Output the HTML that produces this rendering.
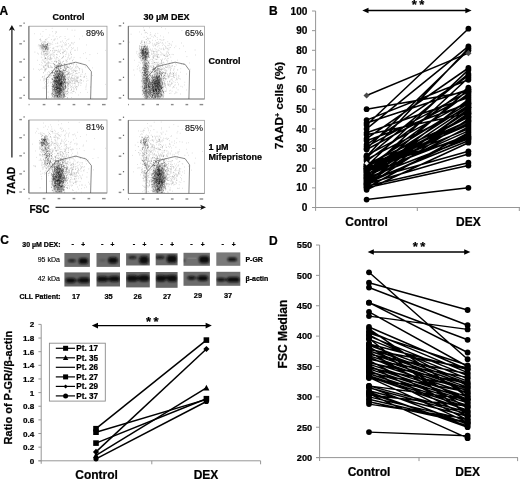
<!DOCTYPE html>
<html><head><meta charset="utf-8"><title>Figure</title>
<style>
html,body{margin:0;padding:0;background:#fff;}
body{width:520px;height:479px;overflow:hidden;font-family:'Liberation Sans', sans-serif;}
svg{display:block;font-family:'Liberation Sans', sans-serif;filter:blur(0.35px);}
</style></head><body>
<svg width="520" height="479" viewBox="0 0 520 479">
<rect width="520" height="479" fill="#fff"/>
<defs><filter id="sb" x="-10%" y="-10%" width="120%" height="120%"><feGaussianBlur stdDeviation="1.6"/></filter><filter id="sd" x="-5%" y="-5%" width="110%" height="110%"><feGaussianBlur stdDeviation="0.28"/></filter></defs>
<g id="panelA">
<clipPath id="cptl"><rect x="29.299999999999997" y="26.599999999999998" width="77.3" height="72.0"/></clipPath>
<rect x="28.9" y="26.2" width="78.1" height="72.8" fill="#fff" stroke="#959595" stroke-width="0.75"/>
<line x1="28.9" y1="26.2" x2="28.9" y2="99.0" stroke="#5a5a5a" stroke-width="0.8"/>
<line x1="28.9" y1="99.0" x2="107.0" y2="99.0" stroke="#808080" stroke-width="0.8"/>
<g clip-path="url(#cptl)">
<g filter="url(#sb)">
<ellipse cx="58.6" cy="86.6" rx="5.5" ry="14.6" fill="#333" opacity="0.28"/>
</g>
<g filter="url(#sd)">
<path d="M63.2 94.3h.5M67.5 98.7h.5M63.1 77.1h.5M74.8 75.0h.5M73.1 80.5h.5M73.2 72.6h.5M76.7 77.3h.5M71.9 75.6h.5M60.7 81.0h.5M58.2 84.9h.5M51.6 82.6h.5M75.1 76.6h.5M76.2 76.2h.5M71.5 97.5h.5M65.7 79.5h.5M65.4 70.3h.5M66.5 65.7h.5M78.8 80.9h.5M58.2 88.7h.5M65.3 78.2h.5M90.5 87.0h.5M83.4 77.3h.5M68.2 77.8h.5M72.8 75.1h.5M69.8 84.8h.5M75.8 78.7h.5M73.1 88.3h.5M65.3 86.7h.5M70.9 78.1h.5M69.5 77.1h.5M69.6 68.2h.5M64.3 72.7h.5M65.4 84.3h.5M60.2 66.3h.5M63.2 83.4h.5M61.9 81.6h.5M61.7 63.9h.5M72.2 60.7h.5M80.0 92.6h.5M75.2 71.2h.5M76.7 80.0h.5M76.3 68.1h.5M71.3 68.8h.5M80.7 63.1h.5M69.5 75.8h.5M67.5 86.2h.5M61.8 82.8h.5M78.6 83.8h.5M70.0 79.0h.5M64.1 79.2h.5M60.4 84.4h.5M67.0 78.5h.5M61.3 79.2h.5M57.2 95.8h.5M68.7 70.8h.5M82.4 72.1h.5M71.7 64.4h.5M72.1 85.2h.5M77.9 84.8h.5M61.4 74.8h.5M78.8 82.4h.5M63.9 78.6h.5M75.3 87.3h.5M67.5 74.9h.5M73.5 64.5h.5M80.6 85.4h.5M73.9 91.4h.5M75.4 92.7h.5M76.7 66.2h.5M68.4 73.7h.5M71.8 80.2h.5M63.2 79.9h.5M73.1 90.0h.5M85.7 89.2h.5M68.5 81.6h.5M68.4 82.7h.5M86.0 81.2h.5M68.4 74.6h.5M65.8 92.0h.5M81.2 80.4h.5M79.2 70.2h.5M85.0 73.5h.5M71.9 93.3h.5M77.4 86.8h.5M80.7 83.3h.5M62.6 78.9h.5M69.3 78.0h.5M77.7 67.2h.5M71.8 67.8h.5M72.2 91.5h.5M63.5 80.0h.5M69.6 74.2h.5M63.2 89.1h.5M76.8 81.9h.5M85.7 87.1h.5M65.4 60.2h.5M55.6 93.3h.5M71.4 86.5h.5M68.6 69.8h.5M68.2 79.2h.5M76.6 86.9h.5M57.6 77.1h.5M70.3 74.0h.5M65.2 82.2h.5M68.9 76.6h.5M77.2 76.9h.5M51.5 82.6h.5M65.1 85.7h.5M65.5 76.1h.5M50.8 76.0h.5M76.3 73.4h.5M65.1 91.8h.5M59.8 83.2h.5M85.9 85.9h.5M70.2 69.3h.5M79.9 79.5h.5M75.2 66.7h.5M74.5 77.7h.5M64.4 81.4h.5M67.9 92.0h.5M64.7 67.0h.5M63.0 89.4h.5M62.3 77.1h.5M77.2 73.7h.5M86.0 84.1h.5M73.1 78.3h.5M68.8 67.1h.5M66.5 77.7h.5M61.2 74.6h.5M70.0 87.5h.5M63.3 89.1h.5M68.5 81.0h.5M69.3 83.4h.5M78.6 76.3h.5M73.3 79.0h.5M63.5 73.6h.5M85.5 67.1h.5M75.7 86.8h.5M64.5 83.0h.5M74.2 79.8h.5M68.5 74.0h.5M76.5 86.5h.5M63.6 75.0h.5M74.9 83.4h.5M73.4 91.5h.5M63.2 76.9h.5M62.4 75.9h.5M65.9 69.1h.5M64.7 75.7h.5M71.5 88.1h.5M54.4 76.6h.5M63.0 77.2h.5M87.4 92.4h.5M72.1 87.3h.5M64.2 90.9h.5M66.7 67.0h.5M81.1 83.0h.5M66.2 86.8h.5M67.1 84.1h.5M71.5 89.2h.5M77.4 80.3h.5M70.0 80.8h.5M58.8 72.5h.5M69.7 68.3h.5M71.7 71.4h.5M75.5 79.6h.5M72.6 80.8h.5M57.7 86.7h.5M74.4 86.2h.5M59.9 86.1h.5M71.2 92.6h.5M65.1 82.2h.5M67.5 89.2h.5M48.1 85.8h.5M79.2 68.8h.5M64.6 67.8h.5M76.2 81.3h.5M61.6 83.4h.5M65.6 79.2h.5M58.6 91.4h.5M66.9 85.0h.5M73.1 87.2h.5M76.8 70.7h.5M61.0 76.9h.5M80.4 79.9h.5M77.3 81.5h.5M70.5 82.5h.5M66.6 67.7h.5M64.9 93.3h.5M65.7 75.0h.5M64.2 71.6h.5M77.8 78.2h.5M67.9 83.1h.5M64.4 64.3h.5M75.7 81.8h.5M72.0 75.7h.5M82.2 72.0h.5M69.9 85.6h.5M58.3 78.5h.5M84.5 76.7h.5M73.7 83.6h.5M66.8 91.2h.5M62.0 65.3h.5M72.0 70.4h.5M67.0 71.4h.5M74.2 89.0h.5M52.5 94.3h.5M71.2 73.7h.5M67.0 82.5h.5M77.2 81.0h.5M62.6 76.2h.5M78.4 95.1h.5M68.2 83.7h.5M62.8 69.4h.5M73.7 63.1h.5M74.2 83.5h.5M66.6 75.0h.5M69.8 81.8h.5M69.4 82.1h.5M75.6 87.8h.5M67.3 81.1h.5M77.3 77.3h.5M80.8 80.4h.5M72.1 81.5h.5M71.6 78.4h.5M68.7 84.1h.5M68.6 67.6h.5M68.0 86.0h.5M64.0 78.0h.5M63.5 82.2h.5M66.5 74.7h.5M68.7 73.3h.5M77.0 78.6h.5M65.1 82.8h.5M81.8 69.2h.5M61.1 77.5h.5M64.1 63.9h.5M70.6 90.5h.5M63.8 89.7h.5M62.2 79.4h.5M63.2 73.3h.5M60.9 77.4h.5M56.8 82.3h.5M74.6 82.9h.5M76.8 78.4h.5M83.9 76.5h.5M65.6 83.8h.5M76.0 64.3h.5M76.4 89.8h.5M65.7 91.7h.5M62.7 77.1h.5M55.1 84.7h.5M87.7 80.3h.5M71.9 82.0h.5M70.7 58.0h.5M61.2 81.9h.5M64.6 64.5h.5M46.6 81.9h.5M92.3 67.8h.5M74.7 79.0h.5M61.7 72.0h.5M78.0 72.7h.5M78.0 82.5h.5M71.1 90.0h.5M66.1 81.8h.5M53.9 75.5h.5M67.8 84.3h.5M61.0 76.1h.5M65.0 70.4h.5M69.3 80.5h.5M72.4 67.8h.5M71.0 76.3h.5M70.8 86.5h.5M79.9 82.0h.5M79.2 72.6h.5M69.2 64.7h.5M68.2 92.7h.5M72.2 78.6h.5M71.6 83.6h.5M70.9 77.5h.5M74.9 71.6h.5M76.9 81.2h.5M69.4 64.3h.5M74.7 68.9h.5M56.6 91.8h.5M80.0 76.5h.5M59.5 69.3h.5M70.1 66.7h.5M73.9 70.7h.5M76.0 80.5h.5M67.1 61.7h.5M69.0 82.0h.5M72.5 73.9h.5M66.6 64.4h.5M65.0 89.2h.5M61.1 70.8h.5M67.6 79.2h.5M62.6 78.9h.5M67.9 79.8h.5M92.2 75.4h.5M65.5 74.2h.5M76.5 70.7h.5M74.5 81.9h.5M61.1 79.4h.5M71.3 89.6h.5M70.6 74.2h.5M69.8 82.5h.5M71.6 80.9h.5M73.5 71.0h.5M76.3 88.6h.5M69.9 92.9h.5M69.9 81.9h.5M72.3 83.4h.5M71.4 77.5h.5M86.0 76.4h.5M67.9 77.0h.5M84.8 74.9h.5M56.3 90.0h.5M74.0 78.4h.5M69.1 74.3h.5M74.3 75.9h.5M67.3 83.1h.5M75.0 70.7h.5M67.1 76.1h.5M61.8 83.3h.5M63.5 73.5h.5M80.7 76.6h.5M72.8 72.6h.5M86.6 78.4h.5M63.7 83.5h.5M52.4 84.3h.5M75.5 73.5h.5M68.3 86.8h.5M65.7 96.2h.5M76.5 77.7h.5M66.8 66.5h.5M72.9 91.5h.5M74.7 81.7h.5M58.3 69.6h.5M70.7 83.2h.5M83.0 81.0h.5M75.2 85.0h.5M54.7 91.8h.5M78.5 85.6h.5M92.6 98.3h.5M76.4 89.2h.5M74.5 80.4h.5M62.0 73.5h.5M79.5 69.1h.5M80.5 75.1h.5M69.0 72.4h.5M66.3 82.6h.5M55.7 74.2h.5M76.4 79.9h.5M62.3 70.1h.5M75.9 64.9h.5M73.4 69.7h.5M70.1 79.0h.5M70.8 79.3h.5M67.3 73.7h.5M81.4 80.0h.5M81.7 74.3h.5M71.3 70.2h.5M67.7 94.9h.5M77.8 82.7h.5M67.0 72.0h.5M65.4 67.2h.5M58.7 76.5h.5M78.2 67.9h.5M75.4 80.5h.5M66.8 82.5h.5M78.2 77.5h.5M75.4 67.5h.5M59.8 84.6h.5M72.9 79.9h.5M72.0 78.1h.5M45.7 42.5h.5M50.9 44.0h.5M48.6 49.8h.5M42.4 42.2h.5M49.1 52.1h.5M48.1 46.8h.5M47.0 44.2h.5M50.5 50.5h.5M44.5 43.0h.5M43.7 45.8h.5M44.3 54.8h.5M42.8 44.5h.5M42.9 54.1h.5M43.0 47.6h.5M46.1 46.7h.5M46.2 52.2h.5M42.7 51.0h.5M43.2 46.2h.5M48.7 48.9h.5M47.9 43.5h.5M41.0 51.2h.5M45.1 53.5h.5M50.4 55.5h.5M40.8 44.8h.5M42.3 45.1h.5M41.5 43.7h.5M42.8 45.1h.5M47.7 53.9h.5M41.8 54.9h.5M41.1 44.3h.5M44.5 44.6h.5M49.0 43.8h.5M46.9 49.7h.5M43.4 46.7h.5M47.3 43.6h.5M45.5 49.1h.5M44.4 41.3h.5M45.5 39.9h.5M42.4 44.4h.5M45.3 44.9h.5M42.3 46.6h.5M44.4 49.0h.5M40.9 53.6h.5M43.6 45.7h.5M45.4 46.9h.5M45.6 53.3h.5M47.9 47.6h.5M42.3 50.1h.5M47.7 47.1h.5M39.5 39.5h.5M40.0 41.1h.5M47.3 51.9h.5M48.5 42.9h.5M47.9 45.3h.5M45.6 47.0h.5M43.0 46.8h.5M48.6 48.3h.5M50.8 54.1h.5M44.7 53.8h.5M39.2 46.9h.5M43.6 50.1h.5M41.4 48.8h.5M39.6 48.7h.5M43.0 52.9h.5M45.9 55.3h.5M46.0 46.8h.5M46.3 47.3h.5M47.1 48.9h.5M41.3 46.4h.5M42.2 49.3h.5M45.0 51.6h.5M47.7 54.0h.5M48.5 48.0h.5M49.9 43.5h.5M46.8 46.7h.5M45.0 53.4h.5M42.9 51.6h.5M42.4 48.4h.5M42.2 47.3h.5M43.9 49.7h.5M45.9 46.0h.5M40.5 49.1h.5M53.7 47.8h.5M46.1 51.4h.5M47.7 41.7h.5M46.5 48.4h.5M44.7 55.4h.5M46.5 49.1h.5M45.9 46.4h.5M45.3 39.5h.5M47.5 50.5h.5M46.5 45.4h.5M44.8 42.3h.5M43.5 54.8h.5M41.3 46.3h.5M41.6 47.3h.5M40.0 46.3h.5M43.9 51.5h.5M42.9 49.0h.5M47.5 46.9h.5M44.0 47.2h.5M47.4 46.0h.5M50.1 50.7h.5M47.2 47.4h.5M42.7 45.5h.5M47.2 44.0h.5M46.1 51.4h.5M45.2 46.3h.5M49.8 47.4h.5M45.1 41.7h.5M44.9 49.7h.5M45.5 44.8h.5M45.1 54.5h.5M43.4 43.9h.5M42.4 44.5h.5M45.2 51.0h.5M47.1 56.4h.5M38.2 54.0h.5M46.3 49.0h.5M46.6 48.2h.5M45.1 50.0h.5M43.4 43.9h.5M47.0 53.2h.5M46.4 39.8h.5M47.0 51.6h.5M47.0 47.0h.5M43.7 44.0h.5M48.5 49.9h.5M45.0 49.4h.5M44.7 41.6h.5M43.3 45.6h.5M45.5 47.5h.5M41.2 45.4h.5M41.3 45.0h.5M44.4 47.3h.5M43.2 51.3h.5M41.5 47.8h.5M44.4 46.7h.5M43.8 44.8h.5M45.1 47.4h.5M43.9 47.9h.5M46.7 50.6h.5M40.9 46.3h.5M45.9 47.8h.5M46.1 79.8h.5M42.8 65.8h.5M45.3 79.2h.5M46.7 86.3h.5M48.8 77.1h.5M43.9 77.0h.5M41.8 69.2h.5M40.3 69.4h.5M45.9 69.0h.5M45.3 81.4h.5M40.4 80.1h.5M48.3 62.4h.5M40.6 47.5h.5M47.1 54.2h.5M48.1 51.8h.5M40.9 65.0h.5M43.3 45.0h.5M47.2 65.9h.5M44.7 88.6h.5M45.7 74.9h.5M49.1 57.9h.5M45.2 70.1h.5M48.4 71.6h.5M48.4 63.6h.5M44.6 61.9h.5M50.1 83.1h.5M47.4 57.9h.5M44.7 50.1h.5M47.2 60.0h.5M42.7 59.6h.5M41.9 60.4h.5M51.2 75.5h.5M49.6 77.5h.5M45.6 58.1h.5M41.5 62.3h.5M43.3 72.5h.5M47.7 66.7h.5M46.5 65.7h.5M46.4 49.1h.5M45.7 68.9h.5M45.5 58.1h.5M46.6 88.9h.5M45.2 61.2h.5M52.4 72.3h.5M44.7 78.3h.5M45.2 84.9h.5M43.1 66.7h.5M41.3 68.8h.5M43.5 52.3h.5M49.7 43.1h.5M45.8 58.6h.5M51.8 72.8h.5M50.0 75.7h.5M48.2 82.7h.5M44.3 68.0h.5M44.7 86.9h.5M45.7 69.0h.5M49.4 59.6h.5M39.5 64.5h.5M48.3 66.9h.5M43.5 80.7h.5M44.4 76.0h.5M44.6 69.4h.5M48.8 76.5h.5M46.3 77.7h.5M46.1 54.8h.5M43.8 78.7h.5M45.5 65.6h.5M43.7 61.3h.5M45.6 58.6h.5M41.7 57.7h.5M48.8 74.8h.5M50.8 63.4h.5M41.9 77.4h.5M43.4 72.9h.5M44.7 62.7h.5M44.8 69.4h.5M42.8 88.0h.5M43.5 79.2h.5M47.8 92.1h.5M48.5 96.9h.5M44.8 65.8h.5M42.4 76.5h.5M47.8 77.6h.5M45.1 65.4h.5M47.2 79.6h.5M49.0 67.6h.5M48.1 81.2h.5M48.3 66.9h.5M47.5 72.8h.5M47.7 65.6h.5M40.2 38.8h.5M43.6 60.9h.5M44.9 70.8h.5M44.4 56.0h.5M47.9 55.9h.5M40.9 57.1h.5M41.3 40.8h.5M46.4 53.6h.5M45.4 64.4h.5M43.4 44.2h.5M44.5 54.0h.5M43.2 67.5h.5M44.3 67.1h.5M44.0 59.0h.5M47.2 83.4h.5M44.2 80.2h.5M48.3 79.6h.5M46.7 64.3h.5M45.2 87.1h.5M50.0 67.5h.5M47.2 54.4h.5M42.7 76.7h.5M50.1 44.8h.5M43.1 66.8h.5M48.0 67.5h.5M49.0 59.3h.5M45.2 58.6h.5M44.1 52.1h.5M43.6 51.6h.5M52.2 85.0h.5M50.0 82.1h.5M45.2 45.9h.5M48.4 58.5h.5M46.4 64.0h.5M46.7 68.0h.5M44.6 79.3h.5M50.2 66.1h.5M50.6 57.8h.5M46.6 77.9h.5M44.7 65.4h.5M45.1 69.2h.5M39.2 70.3h.5M44.7 71.1h.5M44.5 82.9h.5M48.7 37.4h.5M47.8 59.2h.5M49.0 55.3h.5M52.1 31.6h.5M46.8 38.7h.5M52.6 48.6h.5M83.1 53.6h.5M57.3 84.8h.5M53.9 55.9h.5M58.7 50.9h.5M46.2 63.7h.5M65.2 56.4h.5M57.8 46.2h.5M58.5 51.8h.5M46.4 53.4h.5M40.2 34.1h.5M49.6 35.0h.5M52.4 54.9h.5M70.7 51.1h.5M59.3 56.4h.5M54.8 61.5h.5M49.6 72.9h.5M55.9 62.0h.5M71.8 30.2h.5M76.9 66.4h.5M53.8 54.8h.5M41.9 36.3h.5M64.8 50.1h.5M77.2 48.0h.5M54.5 50.3h.5M52.8 48.1h.5M44.2 47.7h.5M54.5 58.0h.5M53.6 54.7h.5M39.8 46.7h.5M55.5 33.6h.5M57.4 43.0h.5M57.2 54.8h.5M45.1 58.4h.5M51.6 79.8h.5M54.5 61.2h.5M60.7 42.0h.5M54.5 40.3h.5M70.2 44.9h.5M54.2 52.1h.5M74.3 36.3h.5M69.2 72.2h.5M34.5 33.7h.5M64.9 38.5h.5M63.5 56.5h.5M62.3 53.7h.5M72.9 44.0h.5M47.9 61.5h.5M68.0 43.5h.5M60.6 49.4h.5M44.9 62.6h.5M63.0 73.3h.5M62.6 46.8h.5M64.3 43.9h.5M77.1 50.0h.5M49.3 71.9h.5M34.7 52.1h.5M66.7 71.5h.5M59.5 61.0h.5M55.1 50.8h.5M58.1 66.2h.5M65.4 54.6h.5M38.5 44.7h.5M73.8 57.4h.5M74.1 70.5h.5M55.1 38.9h.5M71.1 47.5h.5M68.5 57.7h.5M65.0 42.6h.5M67.4 49.0h.5M66.3 48.4h.5M63.9 70.2h.5M63.8 63.5h.5M53.8 52.5h.5M60.2 67.6h.5M52.3 50.5h.5M53.5 52.9h.5M60.0 50.8h.5M52.1 51.2h.5M63.5 67.1h.5M65.7 64.2h.5M61.4 46.5h.5M64.2 66.1h.5M48.3 66.1h.5M63.5 51.7h.5M39.2 45.1h.5M69.7 58.9h.5M56.8 50.5h.5M47.3 57.9h.5M63.3 57.0h.5M57.5 52.0h.5M75.1 50.3h.5M61.1 58.4h.5M70.3 52.5h.5M57.3 38.8h.5M71.3 63.4h.5M54.4 39.2h.5M52.8 36.0h.5M56.0 31.9h.5M47.7 74.6h.5M42.8 31.5h.5M50.2 58.0h.5M51.7 61.4h.5M59.2 51.8h.5M51.2 59.1h.5M71.2 42.7h.5M67.7 39.6h.5M55.6 43.6h.5M74.4 62.3h.5M71.4 80.2h.5M38.1 69.4h.5M47.4 63.9h.5M52.6 44.3h.5M50.1 57.4h.5M44.3 70.8h.5M55.7 61.5h.5M66.6 52.1h.5M39.0 45.4h.5M45.3 57.7h.5M46.9 62.4h.5M51.4 66.4h.5M50.0 56.5h.5M64.8 45.6h.5M75.6 71.2h.5M53.5 40.1h.5M45.9 55.2h.5M64.8 36.5h.5M63.3 49.9h.5M55.8 46.6h.5M58.5 49.7h.5M50.8 54.9h.5M48.4 65.4h.5M48.8 62.7h.5M50.6 59.8h.5M41.9 50.1h.5M60.6 36.5h.5M33.4 69.0h.5M47.5 63.1h.5M58.0 62.8h.5M49.5 45.5h.5M55.4 71.2h.5M67.0 29.0h.5M68.8 55.3h.5M71.2 54.3h.5M53.8 50.8h.5M70.5 52.3h.5M54.3 68.7h.5M59.2 65.3h.5M56.3 68.7h.5M48.5 64.1h.5M50.5 66.0h.5M69.8 45.0h.5M53.9 64.9h.5M68.4 56.2h.5M63.1 42.6h.5M53.2 48.8h.5M61.9 58.3h.5M55.6 60.3h.5M74.1 42.4h.5M85.0 52.7h.5M66.3 60.3h.5M49.7 63.1h.5M61.9 45.1h.5M37.9 45.9h.5M66.5 44.9h.5M44.3 51.4h.5M60.6 68.1h.5M45.8 29.5h.5M50.4 58.9h.5M37.5 60.3h.5M71.1 49.3h.5M48.7 53.2h.5M61.0 47.2h.5M47.2 49.5h.5M50.5 59.0h.5M48.6 62.3h.5M62.2 72.8h.5M48.2 56.7h.5M56.6 36.6h.5M42.8 47.5h.5M56.3 32.2h.5M55.2 31.9h.5M47.5 49.7h.5M46.1 60.1h.5M44.6 58.0h.5M72.9 59.4h.5M82.2 36.1h.5M60.3 53.5h.5M60.4 61.8h.5M63.2 52.6h.5M37.5 53.2h.5M63.1 53.0h.5M60.4 53.6h.5M52.3 42.2h.5M71.4 57.0h.5M65.3 65.4h.5M69.9 62.6h.5M57.6 43.3h.5M52.2 53.2h.5M67.4 59.6h.5M60.6 41.8h.5M59.8 62.1h.5M53.2 56.4h.5M57.4 46.8h.5M41.5 54.4h.5M59.2 37.3h.5M42.5 63.2h.5M66.2 54.1h.5M68.2 54.1h.5M50.7 54.3h.5M69.6 45.9h.5M59.2 52.1h.5M68.0 47.0h.5M59.7 45.8h.5M58.2 65.7h.5M66.2 40.7h.5M71.2 54.4h.5M45.1 49.3h.5M51.3 73.8h.5M58.7 61.9h.5M57.9 58.9h.5M65.4 44.5h.5M62.2 41.0h.5M51.9 28.3h.5M40.0 45.7h.5M67.5 57.9h.5M58.4 66.5h.5M65.4 50.9h.5M52.7 82.9h.5M66.7 67.1h.5M57.4 57.5h.5M51.0 39.5h.5M89.7 54.6h.5M63.1 55.9h.5M70.5 66.4h.5M62.2 49.1h.5M58.3 64.2h.5M65.2 69.3h.5M76.0 73.3h.5M86.2 44.9h.5M71.6 43.1h.5M88.8 60.7h.5M71.2 63.8h.5M66.5 60.6h.5M73.3 47.8h.5M105.5 50.4h.5M86.4 58.4h.5M97.2 53.4h.5M69.4 59.1h.5M72.5 60.7h.5M74.7 30.2h.5M73.1 65.9h.5M43.9 56.7h.5M56.7 66.1h.5M74.2 50.3h.5M79.1 38.9h.5M57.6 64.5h.5M58.6 69.5h.5M62.1 67.2h.5M82.4 70.3h.5M105.2 84.4h.5M84.5 77.4h.5M64.6 72.5h.5M72.0 48.6h.5M65.6 64.6h.5M56.8 67.2h.5M58.9 64.9h.5M72.7 43.0h.5M61.2 84.0h.5M66.2 43.8h.5M56.2 50.4h.5M54.2 73.4h.5M75.0 81.7h.5M65.4 93.7h.5M55.7 50.3h.5M64.0 65.6h.5M79.6 68.6h.5M54.1 61.5h.5M70.4 53.7h.5M68.7 39.0h.5M79.9 57.7h.5" stroke="#333" stroke-width="0.55" fill="none" opacity="0.5"/>
<path d="M54.2 82.1h.5M62.2 90.2h.5M53.8 86.1h.5M60.3 75.5h.5M54.2 97.3h.5M61.1 81.2h.5M64.1 76.6h.5M58.2 88.0h.5M60.7 88.2h.5M57.0 89.1h.5M63.0 84.5h.5M60.8 83.4h.5M58.6 83.3h.5M54.8 83.3h.5M61.0 94.7h.5M55.9 93.8h.5M56.5 94.1h.5M56.4 54.4h.5M65.5 86.0h.5M57.8 93.2h.5M59.0 78.1h.5M64.1 78.9h.5M52.9 75.2h.5M51.7 70.5h.5M58.6 85.8h.5M60.6 66.2h.5M57.2 80.7h.5M63.1 79.9h.5M59.1 92.6h.5M61.3 81.3h.5M64.5 89.0h.5M60.6 80.9h.5M59.6 83.6h.5M59.2 91.0h.5M54.9 89.1h.5M60.7 71.8h.5M62.1 75.9h.5M61.4 79.2h.5M59.2 78.5h.5M65.0 88.5h.5M56.1 67.7h.5M59.5 76.7h.5M61.7 95.9h.5M54.7 69.4h.5M58.3 69.9h.5M57.1 78.8h.5M60.0 83.8h.5M56.3 88.9h.5M55.8 90.7h.5M58.4 78.9h.5M52.1 93.8h.5M59.4 80.7h.5M64.1 94.7h.5M58.6 79.6h.5M61.5 64.5h.5M62.2 93.9h.5M57.1 83.5h.5M55.0 79.9h.5M57.8 92.3h.5M60.7 96.5h.5M58.0 80.1h.5M58.3 88.9h.5M59.2 74.0h.5M61.6 95.6h.5M57.1 65.6h.5M58.8 83.9h.5M58.1 75.7h.5M60.7 83.4h.5M55.4 76.8h.5M60.9 79.2h.5M56.9 96.8h.5M59.2 83.7h.5M61.3 83.3h.5M59.3 86.0h.5M55.9 93.4h.5M58.2 93.4h.5M60.0 85.5h.5M53.0 89.8h.5M63.3 94.3h.5M61.5 89.8h.5M61.2 92.4h.5M54.1 91.2h.5M55.1 77.4h.5M57.4 87.9h.5M58.1 94.5h.5M58.1 97.5h.5M52.2 79.2h.5M63.8 77.9h.5M63.4 83.2h.5M56.0 84.7h.5M57.2 95.6h.5M58.6 84.2h.5M56.9 72.5h.5M59.2 80.2h.5M63.0 93.0h.5M51.5 78.7h.5M56.1 73.6h.5M59.8 76.4h.5M61.2 91.7h.5M55.9 89.5h.5M61.3 77.5h.5M58.2 80.1h.5M55.8 83.3h.5M59.4 76.4h.5M55.6 93.1h.5M55.8 69.6h.5M62.5 86.7h.5M59.4 84.5h.5M59.3 87.4h.5M57.4 97.0h.5M56.3 70.5h.5M60.5 84.9h.5M57.8 85.0h.5M59.8 91.4h.5M59.3 83.3h.5M55.9 92.7h.5M55.0 95.2h.5M57.6 91.1h.5M56.4 84.6h.5M62.6 84.8h.5M58.1 91.1h.5M58.1 77.2h.5M57.2 96.0h.5M54.0 95.6h.5M53.6 75.5h.5M59.9 87.7h.5M63.8 91.5h.5M61.3 78.2h.5M55.2 77.3h.5M63.2 96.7h.5M62.3 89.0h.5M57.2 90.5h.5M55.0 96.8h.5M60.3 66.5h.5M59.1 88.6h.5M59.4 93.3h.5M64.5 95.1h.5M57.7 82.5h.5M54.3 81.4h.5M59.1 96.0h.5M65.0 82.6h.5M64.5 79.1h.5M60.1 78.3h.5M59.0 90.4h.5M61.2 76.7h.5M52.9 84.5h.5M59.4 74.6h.5M57.1 71.3h.5M55.8 94.0h.5M61.1 95.2h.5M57.2 77.3h.5M60.4 68.4h.5M62.9 87.7h.5M56.4 88.2h.5M54.4 87.9h.5M57.9 86.9h.5M62.8 87.6h.5M53.3 76.0h.5M54.7 89.6h.5M58.1 88.7h.5M55.0 87.8h.5M55.4 91.1h.5M56.7 84.7h.5M52.5 78.8h.5M61.9 91.6h.5M57.6 80.1h.5M62.9 74.0h.5M60.9 84.7h.5M59.4 71.8h.5M57.1 77.9h.5M57.3 88.5h.5M58.4 90.2h.5M55.9 86.0h.5M60.0 74.9h.5M55.4 82.1h.5M54.8 79.7h.5M59.9 80.3h.5M55.1 95.1h.5M51.7 88.8h.5M53.2 97.1h.5M59.2 70.7h.5M57.3 78.3h.5M60.8 88.5h.5M53.6 85.7h.5M59.0 70.9h.5M58.5 81.4h.5M60.4 93.8h.5M59.0 90.1h.5M54.1 77.6h.5M61.0 84.9h.5M60.3 86.4h.5M52.5 86.1h.5M53.1 85.8h.5M59.1 82.3h.5M59.4 84.0h.5M54.5 89.0h.5M56.7 87.7h.5M59.5 79.9h.5M60.0 87.3h.5M58.1 77.0h.5M58.9 93.6h.5M54.3 83.3h.5M54.2 80.3h.5M64.1 84.4h.5M59.8 90.3h.5M52.9 81.3h.5M56.6 82.2h.5M60.8 76.1h.5M62.7 83.7h.5M56.1 92.3h.5M55.1 91.8h.5M65.0 87.3h.5M58.2 65.5h.5M60.0 94.1h.5M64.5 96.9h.5M58.9 94.8h.5M58.3 89.0h.5M56.4 76.9h.5M61.9 85.0h.5M55.3 95.3h.5M59.5 63.8h.5M56.9 92.7h.5M56.1 95.5h.5M55.1 87.4h.5M63.7 85.5h.5M59.3 85.8h.5M54.2 95.4h.5M58.4 76.3h.5M60.8 83.7h.5M57.4 82.6h.5M58.5 65.8h.5M54.5 88.9h.5M63.1 87.9h.5M63.7 85.9h.5M59.1 88.9h.5M53.6 94.4h.5M53.9 79.7h.5M56.4 84.6h.5M53.6 85.2h.5M57.5 77.6h.5M53.8 87.6h.5M56.6 79.9h.5M56.0 95.2h.5M57.4 71.4h.5M58.4 84.1h.5M58.6 82.8h.5M61.9 72.8h.5M52.7 73.1h.5M58.6 88.5h.5M52.8 87.1h.5M61.7 90.9h.5M55.1 82.1h.5M61.6 88.7h.5M62.9 80.5h.5M57.2 88.3h.5M55.8 92.6h.5M58.9 82.7h.5M56.8 86.4h.5M53.6 80.8h.5M55.9 83.6h.5M55.3 90.2h.5M59.4 96.6h.5M61.8 85.9h.5M58.7 81.1h.5M63.5 95.5h.5M56.2 91.6h.5M57.8 71.8h.5M54.2 90.4h.5M54.5 96.8h.5M59.6 79.1h.5M63.7 88.1h.5M59.8 84.7h.5M58.1 76.0h.5M57.4 88.5h.5M57.2 86.4h.5M63.2 78.5h.5M53.8 89.6h.5M55.7 78.1h.5M59.4 77.4h.5M60.2 83.5h.5M60.4 97.4h.5M58.9 91.8h.5M56.1 82.3h.5M59.8 93.7h.5M56.5 75.3h.5M55.5 81.7h.5M64.6 74.9h.5M59.9 83.7h.5M54.8 89.6h.5M57.4 92.6h.5M58.8 89.1h.5M59.8 72.5h.5M61.2 81.7h.5M58.2 80.6h.5M55.0 74.1h.5M57.4 82.1h.5M57.4 97.0h.5M64.2 96.1h.5M52.6 79.3h.5M57.5 78.0h.5M51.8 73.0h.5M60.7 89.8h.5M56.4 78.9h.5M56.2 78.6h.5M56.8 81.6h.5M52.7 91.9h.5M52.0 89.9h.5M56.5 87.7h.5M58.4 83.6h.5M54.1 86.7h.5M60.6 95.3h.5M59.0 88.7h.5M52.5 90.2h.5M59.9 83.6h.5M63.0 79.0h.5M62.3 73.7h.5M57.0 91.0h.5M59.7 70.3h.5M52.5 87.6h.5M56.0 80.4h.5M63.8 88.2h.5M54.1 85.1h.5M61.8 90.3h.5M61.0 97.5h.5M62.5 98.6h.5M63.5 88.9h.5M53.0 87.7h.5M59.8 94.5h.5M56.8 83.1h.5M57.0 81.6h.5M59.6 76.4h.5M56.1 62.3h.5M61.5 82.7h.5M62.5 76.8h.5M58.9 91.2h.5M62.3 81.7h.5M51.8 95.6h.5M60.3 84.5h.5M59.6 79.7h.5M59.1 71.1h.5M56.5 89.2h.5M59.7 78.7h.5M61.4 72.0h.5M56.9 74.9h.5M60.3 95.0h.5M58.1 66.6h.5M61.4 89.8h.5M58.3 92.2h.5M58.8 82.7h.5M64.7 90.8h.5M55.3 78.2h.5M55.7 86.3h.5M63.8 86.3h.5M58.6 84.2h.5M55.2 84.0h.5M56.9 88.8h.5M60.3 78.8h.5M58.1 67.2h.5M53.5 86.8h.5M61.4 85.8h.5M56.6 86.7h.5M58.6 86.0h.5M59.2 88.9h.5M57.9 71.2h.5M61.9 79.6h.5M59.8 81.1h.5M60.5 91.6h.5M59.5 94.7h.5M59.9 87.5h.5M59.7 91.1h.5M54.4 88.5h.5M62.3 71.2h.5M57.4 78.3h.5M61.3 82.0h.5M53.0 82.6h.5M55.1 74.8h.5M61.4 79.9h.5M63.1 79.9h.5M58.3 86.7h.5M54.5 75.5h.5M58.9 73.8h.5M58.1 85.2h.5M65.0 86.4h.5M59.9 73.4h.5M57.7 77.0h.5M55.6 87.4h.5M56.7 77.8h.5M57.2 91.6h.5M60.4 71.5h.5M54.4 66.3h.5M53.3 91.1h.5M55.3 70.7h.5M60.2 82.8h.5M63.1 77.9h.5M58.0 91.1h.5M53.0 75.5h.5M57.3 87.7h.5M58.9 80.3h.5M61.2 79.0h.5M57.6 76.5h.5M53.4 86.5h.5M56.1 80.2h.5M58.0 84.7h.5M54.1 77.3h.5M64.9 87.4h.5M55.9 96.1h.5M61.8 84.6h.5M55.7 74.5h.5M61.3 80.0h.5M52.3 86.5h.5M60.8 96.7h.5M61.9 72.5h.5M62.3 92.1h.5M56.0 77.0h.5M62.1 74.3h.5M62.9 86.4h.5M61.4 64.8h.5M56.9 89.9h.5M60.9 82.1h.5M53.7 92.0h.5M54.6 67.1h.5M56.0 77.8h.5M65.5 68.3h.5M63.7 70.7h.5M54.1 88.7h.5M56.0 88.2h.5M57.1 88.3h.5M59.9 92.2h.5M60.7 89.6h.5M52.5 93.2h.5M60.4 75.0h.5M59.4 84.5h.5M63.1 61.3h.5M63.5 90.5h.5M56.7 72.8h.5M58.3 94.4h.5M53.1 94.5h.5M61.0 84.9h.5M56.6 84.5h.5M55.1 77.8h.5M60.6 75.8h.5M58.2 73.8h.5M56.0 74.2h.5M63.8 82.3h.5M64.2 67.4h.5M55.3 91.6h.5M54.3 78.8h.5M58.6 96.0h.5M65.4 86.1h.5M60.8 92.9h.5M54.3 80.8h.5M62.2 91.8h.5M54.8 87.0h.5M61.2 90.1h.5M64.0 80.6h.5M63.3 94.2h.5M53.7 94.3h.5M57.0 74.0h.5M60.3 83.5h.5M54.6 82.0h.5M57.6 83.7h.5M57.1 96.0h.5M58.8 77.8h.5M56.5 81.5h.5M64.9 77.2h.5M52.9 77.7h.5M59.6 70.7h.5M51.5 93.6h.5M63.8 76.2h.5M61.8 77.6h.5M58.7 85.6h.5M58.7 77.9h.5M58.0 82.6h.5M63.8 95.8h.5M55.9 80.4h.5M57.6 87.0h.5M56.0 81.7h.5M65.1 85.3h.5M56.2 84.5h.5M56.3 65.8h.5M60.5 89.2h.5M60.3 92.8h.5M56.4 84.6h.5M57.0 89.9h.5M59.4 87.5h.5M63.1 76.5h.5M55.6 67.5h.5M62.5 96.0h.5M62.2 75.0h.5M62.2 89.3h.5M60.8 82.5h.5M56.6 72.1h.5M59.3 80.1h.5M59.1 72.1h.5M59.5 94.0h.5M56.4 89.0h.5M56.0 65.8h.5M57.1 91.9h.5M57.6 88.6h.5M62.4 86.6h.5M54.2 87.5h.5M63.2 82.1h.5M58.0 78.8h.5M59.1 89.2h.5M57.3 70.6h.5M58.7 78.2h.5M56.4 87.3h.5M52.8 81.9h.5M52.4 71.7h.5M56.3 85.5h.5M53.7 90.0h.5M55.2 75.2h.5M59.5 96.3h.5M51.6 86.2h.5M56.8 95.6h.5M60.7 87.2h.5M59.0 90.9h.5M56.5 89.7h.5M52.8 79.8h.5M58.9 75.0h.5M59.4 73.7h.5M57.6 85.5h.5M53.9 93.8h.5M52.0 93.7h.5M59.5 80.8h.5M62.8 84.3h.5M55.0 81.6h.5M58.1 69.3h.5M65.6 76.8h.5M54.5 90.3h.5M59.3 92.0h.5M60.5 79.3h.5M61.6 83.5h.5M55.4 93.2h.5M58.1 73.5h.5M64.2 76.6h.5M59.9 79.4h.5M61.5 73.8h.5M62.0 82.0h.5M56.9 80.8h.5M59.6 86.0h.5M52.5 84.5h.5M60.6 86.0h.5M52.9 81.4h.5M61.2 83.9h.5M60.1 88.7h.5M56.2 80.8h.5M57.3 83.9h.5M62.2 79.1h.5M58.3 92.1h.5M58.5 74.0h.5M58.8 75.4h.5M61.7 89.1h.5M53.3 63.6h.5M57.8 87.2h.5M54.3 78.0h.5M61.7 82.5h.5M52.3 95.8h.5M55.1 83.4h.5M60.5 93.0h.5M59.1 91.7h.5M57.3 80.8h.5M56.5 87.2h.5M59.3 79.5h.5M55.6 84.0h.5M61.0 76.1h.5M60.2 90.2h.5M57.5 83.2h.5M57.3 93.6h.5M58.5 83.8h.5M59.7 79.1h.5M52.2 72.7h.5M58.0 92.6h.5M57.2 81.5h.5M61.7 88.9h.5M59.2 86.6h.5M57.0 77.5h.5M65.0 76.1h.5M55.8 71.6h.5M57.4 85.9h.5M56.5 81.4h.5M60.6 84.2h.5M57.8 86.8h.5M57.1 76.7h.5M56.7 86.9h.5M57.8 92.3h.5M57.8 98.9h.5M60.0 80.6h.5M57.5 71.4h.5M55.6 80.5h.5M60.3 90.4h.5M57.7 77.5h.5M58.8 83.0h.5M63.6 83.6h.5M52.6 92.2h.5M61.6 86.7h.5M59.7 71.9h.5M60.4 90.4h.5M57.5 88.5h.5M55.4 81.5h.5M61.9 82.2h.5M56.6 76.1h.5M58.2 80.3h.5M55.2 79.6h.5M61.2 73.9h.5M58.7 81.5h.5M56.5 77.5h.5M61.4 75.8h.5M57.2 96.5h.5M58.3 87.4h.5M55.9 80.1h.5M63.8 77.7h.5M64.5 77.7h.5M55.6 87.2h.5M58.2 74.8h.5M63.7 80.2h.5M64.1 89.5h.5M59.3 67.0h.5M61.6 71.3h.5M51.7 97.7h.5M56.1 71.7h.5M66.7 87.5h.5M55.6 91.3h.5M56.0 76.1h.5M58.4 63.3h.5M62.8 88.1h.5M60.8 83.0h.5M63.1 72.7h.5M58.3 72.9h.5M62.2 82.3h.5M60.8 74.9h.5M58.4 88.0h.5M65.1 81.5h.5M57.3 77.0h.5M53.5 81.0h.5M54.0 85.6h.5M52.2 88.4h.5M63.5 83.3h.5M54.6 64.7h.5M57.1 67.2h.5M57.5 95.6h.5M67.6 85.6h.5M63.0 70.0h.5M54.2 80.8h.5M57.3 75.6h.5M59.7 93.7h.5M60.0 74.1h.5M58.5 76.0h.5M57.5 82.0h.5M61.2 80.1h.5M65.1 72.3h.5M63.3 74.5h.5M60.4 92.7h.5M64.2 64.7h.5M60.7 83.9h.5M59.6 69.8h.5M61.0 90.9h.5M59.1 88.8h.5M58.9 90.1h.5M56.1 67.2h.5M64.2 96.9h.5M55.7 85.8h.5M58.1 94.8h.5M63.5 97.0h.5M62.7 74.8h.5M58.2 87.8h.5M60.0 80.0h.5M67.4 93.5h.5M64.1 70.4h.5M54.4 74.8h.5M51.8 67.7h.5M61.1 81.7h.5M59.3 86.3h.5M63.2 79.4h.5M62.5 75.5h.5M65.0 79.5h.5M55.6 80.5h.5M56.9 65.1h.5M61.6 88.3h.5M55.1 73.0h.5M54.7 71.8h.5M52.4 86.5h.5M61.4 76.7h.5M67.6 67.3h.5M59.7 70.2h.5M62.5 75.6h.5M65.3 80.0h.5M63.5 70.7h.5M59.3 74.5h.5M55.7 80.5h.5M59.7 78.3h.5M68.1 73.4h.5M59.1 77.8h.5M61.8 71.2h.5M62.6 81.6h.5M63.1 89.9h.5M53.1 72.4h.5M58.6 79.5h.5M53.8 86.0h.5M57.3 87.1h.5M67.7 88.9h.5M64.4 81.9h.5M63.2 95.2h.5M60.2 79.5h.5M60.8 77.2h.5M63.4 77.3h.5M59.8 90.0h.5M59.1 81.7h.5M62.4 57.4h.5M65.0 80.7h.5M62.6 97.7h.5M59.4 91.4h.5M62.4 98.9h.5M68.2 67.3h.5M54.3 72.7h.5M59.7 60.0h.5M65.3 79.6h.5M60.4 71.9h.5M55.5 71.0h.5M61.3 90.2h.5M57.2 88.5h.5M58.0 60.6h.5M58.9 77.6h.5M56.2 67.6h.5M61.5 65.8h.5M53.5 85.8h.5M60.6 77.4h.5M62.2 74.4h.5M59.2 81.0h.5M55.4 81.7h.5M57.4 70.5h.5M62.5 83.5h.5M62.5 87.4h.5M59.8 86.2h.5M64.3 82.3h.5M62.7 83.1h.5M54.1 73.1h.5M61.3 74.5h.5M58.6 75.9h.5M51.7 58.3h.5M63.4 70.3h.5M55.3 71.7h.5M61.1 68.3h.5M66.2 94.1h.5M56.2 90.0h.5M57.8 83.5h.5M63.2 94.4h.5M53.7 77.3h.5M56.0 76.8h.5M60.5 68.3h.5M55.1 86.7h.5M65.7 78.8h.5M54.3 77.2h.5M51.5 94.3h.5M62.5 72.5h.5M66.8 82.2h.5M57.0 66.7h.5M64.1 82.2h.5M61.3 85.3h.5M64.7 82.2h.5M60.6 62.8h.5M63.4 97.0h.5M52.6 83.8h.5M64.4 92.8h.5M59.7 63.7h.5M54.6 78.1h.5M61.6 86.4h.5M58.6 67.7h.5M64.6 76.0h.5M60.9 92.6h.5M60.1 63.9h.5M64.3 94.9h.5M64.6 88.0h.5M62.1 73.9h.5M60.7 79.9h.5M54.9 65.3h.5M60.8 85.8h.5M61.5 72.7h.5M63.2 92.6h.5M61.1 83.7h.5M62.7 82.0h.5M53.7 96.1h.5M59.4 88.0h.5M57.5 90.6h.5M63.6 80.7h.5M57.3 68.8h.5M58.7 68.4h.5M58.8 87.4h.5M64.3 70.6h.5M57.5 80.4h.5M67.4 66.0h.5M56.6 87.4h.5M64.4 51.4h.5M57.2 96.5h.5M57.4 75.0h.5M57.7 78.5h.5M56.7 89.1h.5M61.6 90.6h.5M54.8 78.4h.5M63.4 84.8h.5M58.8 88.4h.5M56.7 85.4h.5M62.2 87.3h.5M63.7 93.2h.5M57.9 75.1h.5M59.5 94.8h.5M58.3 80.4h.5M56.7 77.6h.5M56.4 72.7h.5M57.6 95.3h.5M59.9 71.4h.5M65.9 66.1h.5M59.7 71.3h.5M55.4 66.2h.5M63.1 92.1h.5M57.9 82.8h.5M61.2 84.1h.5M57.0 74.3h.5M58.7 95.9h.5M54.6 64.1h.5M60.6 82.2h.5M56.5 89.7h.5M56.6 73.1h.5M57.2 68.1h.5M67.5 97.6h.5M64.1 82.0h.5M62.7 94.1h.5M64.1 77.1h.5M54.6 73.2h.5M62.3 52.4h.5M60.8 72.4h.5M62.4 73.8h.5M59.7 85.6h.5M62.9 69.2h.5M54.7 92.8h.5M59.6 63.6h.5M58.9 98.4h.5M63.3 74.0h.5M68.2 79.6h.5M68.3 88.7h.5M63.7 80.1h.5M54.6 84.2h.5M65.6 70.4h.5M58.1 70.4h.5M63.7 72.5h.5M61.0 78.5h.5M56.2 82.2h.5M60.3 88.8h.5M58.5 79.8h.5M60.7 71.0h.5M55.3 85.4h.5M60.9 85.2h.5M61.2 86.1h.5M64.9 83.8h.5M54.8 74.0h.5M59.2 80.8h.5M64.3 66.6h.5M59.1 97.0h.5M62.7 71.5h.5M61.8 80.7h.5M56.2 57.2h.5M54.6 96.4h.5M64.0 78.6h.5M62.7 77.9h.5M67.1 67.3h.5M57.4 71.5h.5M54.7 98.4h.5M65.0 85.7h.5M58.0 81.7h.5M57.6 66.2h.5M59.5 72.1h.5M55.3 76.7h.5M56.9 73.4h.5M58.4 80.6h.5M60.5 84.5h.5M54.4 83.7h.5M57.3 77.4h.5M63.1 76.0h.5M57.8 71.1h.5M60.6 65.3h.5M59.2 81.4h.5M51.7 67.4h.5M57.6 95.4h.5M56.4 87.0h.5M57.9 68.7h.5M56.6 86.1h.5M54.6 81.4h.5M59.8 84.8h.5M62.5 77.4h.5M58.8 64.2h.5M52.1 72.7h.5M56.9 76.9h.5M59.0 85.3h.5M67.8 83.4h.5M58.0 74.0h.5M62.9 97.2h.5M58.8 84.1h.5M59.9 84.6h.5M55.9 90.3h.5M65.3 87.7h.5M63.9 78.3h.5M59.4 82.0h.5M59.4 91.7h.5M61.2 83.5h.5M60.7 91.9h.5M59.8 91.1h.5M55.4 78.1h.5M62.5 75.7h.5M59.6 85.3h.5M65.8 69.1h.5M57.0 92.2h.5M61.4 78.3h.5M55.8 58.9h.5M55.0 89.7h.5M55.2 75.3h.5M60.9 85.8h.5M63.2 89.5h.5M64.2 79.5h.5M55.1 71.3h.5M64.3 86.5h.5M58.2 90.6h.5M60.1 86.1h.5M59.6 87.5h.5M57.3 84.9h.5M58.3 76.7h.5M56.4 70.9h.5M55.5 82.7h.5M52.4 90.0h.5M56.2 71.4h.5M56.9 78.2h.5M58.7 88.3h.5M59.3 65.7h.5M56.8 85.0h.5M67.1 74.3h.5M54.8 70.7h.5M54.3 75.9h.5M66.4 91.3h.5M55.0 78.4h.5M60.6 65.2h.5M62.7 76.5h.5M60.4 83.7h.5M58.0 93.6h.5M56.1 84.3h.5M65.9 61.9h.5M65.9 71.6h.5M60.3 75.1h.5M54.0 84.5h.5M65.1 70.0h.5M51.8 92.0h.5M65.6 88.4h.5M52.8 63.3h.5M59.1 89.5h.5M64.1 93.9h.5M59.4 74.1h.5M65.0 80.0h.5M59.7 73.3h.5M59.7 76.3h.5M56.3 80.8h.5M59.0 73.8h.5M54.2 82.7h.5M65.1 96.4h.5M55.6 89.3h.5M59.2 93.6h.5M60.3 89.1h.5M57.5 73.8h.5M60.5 88.5h.5M55.8 78.8h.5M54.2 82.0h.5M57.9 75.7h.5M61.7 83.0h.5M65.6 86.8h.5M68.1 72.3h.5M64.2 73.9h.5M56.6 61.4h.5M60.8 84.0h.5M58.9 84.7h.5M65.2 79.2h.5M66.2 83.1h.5M64.4 95.1h.5M58.0 82.1h.5M57.0 82.6h.5M55.8 83.1h.5M56.9 81.5h.5M58.5 91.3h.5M58.0 81.2h.5M54.3 80.5h.5M65.2 83.7h.5M62.2 75.3h.5M56.3 68.4h.5M67.1 91.6h.5M67.3 90.3h.5M60.5 82.3h.5M54.0 80.7h.5M57.4 94.0h.5M52.2 96.4h.5M64.2 75.4h.5M60.8 82.2h.5M66.4 68.7h.5M60.7 82.1h.5M67.7 77.8h.5M57.8 92.6h.5M53.4 89.5h.5M59.8 81.9h.5M66.7 74.3h.5M67.8 84.4h.5M56.5 76.7h.5M59.3 80.1h.5M60.2 89.1h.5M55.2 87.7h.5M56.5 68.9h.5M56.7 79.5h.5M61.7 85.7h.5M61.7 75.5h.5M52.3 79.3h.5M58.2 75.2h.5M57.9 87.8h.5M56.5 82.6h.5M61.7 85.9h.5M60.2 73.3h.5M56.4 67.6h.5M56.3 97.0h.5M58.1 82.5h.5M60.0 88.9h.5M60.6 71.6h.5M63.9 82.1h.5M53.9 64.6h.5M64.0 82.1h.5M64.7 68.5h.5M60.5 90.3h.5M60.8 90.8h.5M58.4 68.7h.5M59.5 92.7h.5M60.0 83.0h.5M55.5 81.5h.5M53.9 72.9h.5M62.2 62.1h.5M57.2 87.1h.5M61.9 83.8h.5M60.6 76.6h.5M40.3 45.6h.5M43.3 49.1h.5M45.9 48.2h.5M47.1 44.5h.5M46.2 46.3h.5M45.9 46.3h.5M47.2 45.5h.5M46.7 44.4h.5M45.5 48.4h.5M47.1 44.3h.5M43.9 51.1h.5M41.6 47.5h.5M46.8 49.1h.5M46.4 46.9h.5M45.0 49.6h.5M44.2 46.5h.5M42.7 46.3h.5M42.3 48.1h.5M43.7 46.6h.5M46.7 44.4h.5M41.6 52.7h.5M45.0 48.3h.5M41.8 45.9h.5M45.3 48.6h.5M46.9 47.8h.5M42.4 45.1h.5M40.5 39.8h.5M43.8 46.1h.5M43.9 47.7h.5M46.0 44.7h.5M41.3 48.8h.5M42.7 46.0h.5M41.2 43.2h.5M44.6 46.3h.5M46.5 48.2h.5M45.4 45.7h.5M47.5 48.9h.5M47.7 45.3h.5M45.1 44.3h.5M43.9 47.0h.5M46.5 47.4h.5M47.0 43.6h.5M45.0 46.2h.5M43.0 48.6h.5M47.9 48.8h.5M44.7 45.9h.5M42.4 48.1h.5M42.9 42.0h.5" stroke="#111" stroke-width="0.6" fill="none" opacity="0.72"/>
</g></g>
<polyline points="46.5,99.0 46.5,78.6 56.2,67.0 75.8,62.2 86.3,65.1 91.4,71.7 90.6,99.0" fill="none" stroke="#4a4a4a" stroke-width="0.65"/>
<text x="104.0" y="36.4" font-size="9.0" font-weight="normal" text-anchor="end" fill="#111" stroke="#111" stroke-width="0.12" >89%</text>
<rect x="19.3" y="25.1" width="2.6" height="1.4" fill="#8a8a8a"/>
<rect x="23.5" y="22.5" width="1.2" height="1.3" fill="#6a6a6a"/>
<rect x="19.3" y="43.1" width="2.6" height="1.4" fill="#8a8a8a"/>
<rect x="23.5" y="40.5" width="1.2" height="1.3" fill="#6a6a6a"/>
<rect x="19.3" y="61.2" width="2.6" height="1.4" fill="#8a8a8a"/>
<rect x="23.5" y="58.6" width="1.2" height="1.3" fill="#6a6a6a"/>
<rect x="19.3" y="79.3" width="2.6" height="1.4" fill="#8a8a8a"/>
<rect x="23.5" y="76.7" width="1.2" height="1.3" fill="#6a6a6a"/>
<rect x="19.3" y="97.3" width="2.6" height="1.4" fill="#8a8a8a"/>
<rect x="23.5" y="94.7" width="1.2" height="1.3" fill="#6a6a6a"/>
<rect x="28.6" y="103.9" width="0.9" height="1.4" fill="#8a8a8a"/>
<rect x="42.7" y="103.9" width="2.7" height="1.4" fill="#8a8a8a"/>
<rect x="57.6" y="103.9" width="2.7" height="1.4" fill="#8a8a8a"/>
<rect x="72.6" y="103.9" width="2.7" height="1.4" fill="#8a8a8a"/>
<rect x="87.5" y="103.9" width="2.7" height="1.4" fill="#8a8a8a"/>
<rect x="102.0" y="103.9" width="3.6" height="1.4" fill="#8a8a8a"/>
<clipPath id="cptr"><rect x="128.70000000000002" y="26.599999999999998" width="75.4" height="72.0"/></clipPath>
<rect x="128.3" y="26.2" width="76.2" height="72.8" fill="#fff" stroke="#959595" stroke-width="0.75"/>
<line x1="128.3" y1="26.2" x2="128.3" y2="99.0" stroke="#5a5a5a" stroke-width="0.8"/>
<line x1="128.3" y1="99.0" x2="204.5" y2="99.0" stroke="#808080" stroke-width="0.8"/>
<g clip-path="url(#cptr)">
<g filter="url(#sb)">
<ellipse cx="156.9" cy="88.1" rx="5.3" ry="13.8" fill="#333" opacity="0.25"/>
<ellipse cx="143.9" cy="53.1" rx="3.4" ry="6.6" fill="#333" opacity="0.20"/>
<ellipse cx="145.8" cy="80.8" rx="3.0" ry="18.2" fill="#333" opacity="0.20"/>
</g>
<g filter="url(#sd)">
<path d="M186.2 89.9h.5M173.4 76.9h.5M171.1 79.0h.5M164.8 75.3h.5M164.1 86.3h.5M180.0 94.0h.5M172.3 83.2h.5M153.9 98.2h.5M161.4 74.6h.5M176.8 79.3h.5M176.7 77.9h.5M169.2 77.0h.5M176.2 87.9h.5M154.8 67.8h.5M168.3 76.1h.5M175.4 75.4h.5M167.4 66.8h.5M175.6 80.3h.5M169.6 82.0h.5M167.1 84.0h.5M173.2 86.5h.5M163.6 72.5h.5M169.3 65.9h.5M164.2 78.2h.5M166.7 70.9h.5M167.2 74.0h.5M157.6 82.6h.5M178.4 78.3h.5M170.5 69.7h.5M170.0 84.8h.5M169.5 81.5h.5M167.8 78.2h.5M173.8 68.4h.5M178.4 84.8h.5M169.8 67.9h.5M164.2 83.4h.5M180.5 72.3h.5M173.6 81.7h.5M177.6 69.8h.5M168.7 76.2h.5M172.5 78.9h.5M168.6 66.9h.5M166.1 90.0h.5M175.3 63.8h.5M164.8 74.6h.5M169.1 84.2h.5M163.2 75.7h.5M156.5 76.5h.5M186.7 56.6h.5M154.6 78.9h.5M161.6 76.3h.5M165.5 79.8h.5M169.0 74.8h.5M170.3 73.0h.5M175.2 62.8h.5M173.0 76.8h.5M176.3 74.3h.5M174.4 85.3h.5M158.8 69.6h.5M159.1 85.9h.5M167.1 84.8h.5M173.2 75.7h.5M170.8 65.9h.5M169.3 81.0h.5M160.4 83.3h.5M163.1 76.6h.5M180.2 79.1h.5M169.5 93.5h.5M180.7 86.3h.5M170.0 90.3h.5M173.9 77.3h.5M162.0 66.6h.5M178.8 76.1h.5M165.1 76.9h.5M164.0 74.1h.5M165.4 84.1h.5M168.4 64.0h.5M158.5 70.3h.5M172.3 72.7h.5M170.3 73.2h.5M154.1 79.1h.5M154.0 79.0h.5M166.6 76.1h.5M170.9 84.3h.5M165.1 67.0h.5M176.4 78.8h.5M163.0 79.1h.5M173.8 75.6h.5M169.9 68.9h.5M171.5 74.1h.5M167.7 76.8h.5M169.8 85.8h.5M165.0 91.1h.5M166.3 88.2h.5M171.0 68.3h.5M165.1 73.2h.5M175.0 93.1h.5M176.7 92.7h.5M157.8 88.2h.5M157.7 90.8h.5M169.4 73.8h.5M173.7 74.2h.5M176.8 79.7h.5M165.8 67.4h.5M163.9 68.8h.5M166.5 91.2h.5M161.9 82.9h.5M169.2 75.5h.5M173.1 74.2h.5M175.7 91.9h.5M171.6 66.4h.5M163.4 72.9h.5M175.3 84.8h.5M153.5 84.7h.5M166.5 72.1h.5M172.2 74.3h.5M167.3 81.4h.5M163.9 78.7h.5M165.7 78.8h.5M163.7 86.2h.5M171.2 83.1h.5M173.3 70.2h.5M161.3 60.6h.5M159.7 91.2h.5M159.5 86.1h.5M167.9 68.9h.5M170.3 67.1h.5M153.3 72.8h.5M158.9 86.0h.5M183.5 64.3h.5M168.6 84.7h.5M163.7 89.9h.5M164.9 73.0h.5M171.1 76.5h.5M164.8 73.3h.5M172.1 62.9h.5M169.9 71.0h.5M173.4 73.3h.5M172.1 76.5h.5M173.6 87.0h.5M162.0 85.6h.5M164.7 81.4h.5M176.4 76.0h.5M168.1 77.2h.5M173.8 87.3h.5M168.2 85.2h.5M172.1 65.8h.5M170.2 72.5h.5M177.5 82.4h.5M170.7 93.2h.5M170.5 76.2h.5M167.7 61.0h.5M170.6 80.9h.5M165.7 79.1h.5M155.4 75.9h.5M162.9 76.6h.5M172.5 65.7h.5M166.3 78.8h.5M168.6 75.3h.5M164.2 77.3h.5M164.8 76.0h.5M179.2 78.7h.5M178.3 75.4h.5M177.4 69.9h.5M157.5 84.4h.5M157.3 74.5h.5M160.7 70.3h.5M167.4 74.3h.5M161.8 96.0h.5M164.2 82.4h.5M169.1 73.3h.5M161.5 76.1h.5M164.4 68.6h.5M163.5 76.8h.5M176.2 72.8h.5M173.7 69.6h.5M173.2 73.5h.5M162.4 64.3h.5M176.0 64.9h.5M165.9 73.6h.5M153.7 77.8h.5M164.1 80.9h.5M172.1 80.7h.5M171.8 91.2h.5M184.1 84.9h.5M161.7 88.1h.5M174.1 93.7h.5M162.4 65.4h.5M159.3 83.4h.5M161.5 70.7h.5M163.3 76.3h.5M164.1 82.4h.5M155.2 73.7h.5M167.2 82.0h.5M170.8 79.5h.5M168.2 76.6h.5M171.6 83.9h.5M173.4 75.3h.5M164.0 84.0h.5M174.3 77.6h.5M160.3 89.1h.5M182.3 86.9h.5M162.9 80.0h.5M160.6 64.2h.5M161.9 86.2h.5M169.7 86.3h.5M160.7 72.4h.5M174.7 66.6h.5M168.4 85.3h.5M164.8 85.1h.5M168.7 77.1h.5M165.2 72.0h.5M172.2 87.8h.5M178.1 83.9h.5M166.5 70.3h.5M171.5 82.8h.5M170.1 74.0h.5M177.8 89.8h.5M166.1 60.1h.5M164.3 72.7h.5M160.9 62.9h.5M162.1 65.8h.5M168.3 65.4h.5M174.9 82.5h.5M163.0 92.5h.5M168.9 67.3h.5M167.1 75.7h.5M175.5 73.8h.5M173.5 73.2h.5M163.8 84.8h.5M168.2 84.0h.5M169.2 90.8h.5M170.0 70.2h.5M142.4 69.6h.5M147.0 80.7h.5M141.2 42.2h.5M141.4 69.9h.5M147.9 72.8h.5M149.1 41.4h.5M150.3 32.7h.5M144.5 60.4h.5M138.6 53.4h.5M141.1 47.1h.5M143.7 83.1h.5M139.2 70.8h.5M151.7 61.6h.5M149.7 98.7h.5M147.7 40.7h.5M146.4 32.5h.5M148.5 53.7h.5M145.1 60.6h.5M142.7 64.1h.5M142.1 81.2h.5M152.7 68.8h.5M146.2 86.9h.5M138.8 62.3h.5M144.6 69.6h.5M145.3 59.6h.5M147.1 58.8h.5M143.5 49.5h.5M146.1 52.3h.5M141.7 46.6h.5M144.3 88.2h.5M141.2 53.2h.5M145.7 57.5h.5M144.2 53.7h.5M146.5 76.9h.5M146.9 49.5h.5M145.8 39.6h.5M144.6 62.2h.5M144.8 55.4h.5M146.1 53.2h.5M148.6 71.7h.5M134.1 60.3h.5M143.4 66.8h.5M143.4 78.7h.5M147.4 64.9h.5M147.9 68.9h.5M138.4 65.2h.5M146.4 56.5h.5M148.5 65.7h.5M147.6 48.0h.5M146.4 49.0h.5M144.9 80.4h.5M144.0 75.8h.5M143.3 83.0h.5M142.6 91.3h.5M141.2 41.4h.5M142.1 58.4h.5M146.2 85.4h.5M141.4 73.2h.5M145.4 75.5h.5M144.1 58.8h.5M136.9 69.0h.5M148.3 63.6h.5M149.8 35.1h.5M145.9 59.0h.5M148.2 89.3h.5M142.3 52.9h.5M143.7 70.9h.5M142.6 63.2h.5M143.4 93.6h.5M145.4 32.3h.5M139.3 31.9h.5M142.0 53.8h.5M142.6 46.6h.5M143.7 52.0h.5M144.8 54.3h.5M146.8 66.1h.5M139.2 68.7h.5M143.3 27.7h.5M143.2 70.3h.5M148.0 76.8h.5M143.2 70.5h.5M142.0 50.5h.5M143.1 62.7h.5M144.8 70.6h.5M143.4 81.5h.5M142.9 81.5h.5M149.9 93.7h.5M148.7 64.5h.5M147.6 55.0h.5M149.9 76.2h.5M146.2 47.8h.5M141.0 80.9h.5M147.4 33.4h.5M140.8 86.8h.5M138.0 56.6h.5M143.8 37.3h.5M144.6 71.8h.5M142.9 77.2h.5M140.6 70.3h.5M146.0 42.0h.5M144.7 53.3h.5M143.2 78.8h.5M141.7 51.1h.5M150.5 89.4h.5M140.8 53.0h.5M146.9 90.0h.5M140.9 60.9h.5M145.2 84.0h.5M142.1 77.1h.5M144.0 49.1h.5M147.6 53.2h.5M141.1 75.4h.5M148.8 38.5h.5M146.8 57.7h.5M140.3 58.6h.5M142.7 63.1h.5M134.1 75.1h.5M137.7 54.8h.5M149.8 66.5h.5M143.2 49.7h.5M147.5 75.9h.5M142.2 42.2h.5M139.4 57.1h.5M145.0 56.9h.5M146.7 56.7h.5M147.4 56.6h.5M143.0 47.1h.5M144.1 45.7h.5M147.3 57.5h.5M141.6 53.5h.5M144.3 80.2h.5M142.4 44.7h.5M142.0 79.6h.5M141.9 53.0h.5M146.7 59.9h.5M140.9 42.7h.5M155.6 81.6h.5M144.0 54.5h.5M140.6 60.0h.5M142.1 77.1h.5M148.1 84.4h.5M144.1 79.0h.5M142.3 67.7h.5M151.0 66.0h.5M144.9 58.1h.5M148.5 71.8h.5M151.2 51.9h.5M141.0 52.3h.5M143.2 53.1h.5M148.9 72.1h.5M145.9 84.0h.5M140.5 63.3h.5M139.7 67.3h.5M143.8 30.1h.5M146.5 62.1h.5M143.5 64.8h.5M142.1 58.8h.5M152.7 57.9h.5M148.9 77.4h.5M140.8 50.8h.5M144.4 70.3h.5M146.0 71.7h.5M147.8 43.6h.5M146.7 83.1h.5M144.4 30.6h.5M140.4 72.0h.5M141.9 60.6h.5M151.5 50.8h.5M142.6 40.7h.5M148.1 39.2h.5M145.9 42.3h.5M146.0 36.6h.5M147.8 87.2h.5M147.0 65.5h.5M147.4 76.4h.5M147.4 58.7h.5M144.3 62.0h.5M154.3 64.3h.5M153.8 45.0h.5M148.7 52.9h.5M143.2 56.4h.5M169.2 65.2h.5M155.0 45.8h.5M146.6 46.7h.5M160.7 49.0h.5M165.7 47.2h.5M149.8 55.8h.5M150.1 65.8h.5M168.5 53.5h.5M155.2 55.3h.5M143.3 62.2h.5M141.1 34.2h.5M150.5 49.1h.5M153.3 63.7h.5M156.4 62.4h.5M167.3 48.4h.5M156.2 51.9h.5M152.7 56.9h.5M161.5 63.6h.5M166.8 60.6h.5M152.3 40.3h.5M168.7 49.1h.5M161.0 49.1h.5M157.9 49.9h.5M157.5 62.4h.5M158.0 54.5h.5M152.9 69.8h.5M143.8 44.9h.5M166.1 53.4h.5M142.6 55.3h.5M144.8 32.9h.5M154.6 62.5h.5M149.0 60.4h.5M161.8 43.2h.5M156.8 69.9h.5M158.5 64.7h.5M157.4 55.7h.5M144.0 30.2h.5M130.8 34.2h.5M145.0 49.1h.5M165.8 67.2h.5M154.7 35.7h.5M158.2 75.6h.5M146.1 39.5h.5M156.0 49.7h.5M154.6 43.7h.5M170.1 47.5h.5M148.7 75.8h.5M157.6 46.8h.5M152.0 62.9h.5M148.4 52.0h.5M165.6 56.7h.5M158.4 41.8h.5M155.7 44.8h.5M141.1 40.7h.5M155.7 56.5h.5M163.3 44.2h.5M157.1 57.1h.5M165.9 64.8h.5M158.0 43.5h.5M164.6 45.5h.5M155.1 36.5h.5M147.4 71.7h.5M161.9 69.3h.5M149.1 47.1h.5M149.7 43.0h.5M150.7 50.3h.5M161.4 60.5h.5M157.9 57.4h.5M168.9 47.7h.5M170.8 44.3h.5M168.6 50.0h.5M156.0 42.8h.5M154.6 48.7h.5M161.3 61.4h.5M156.6 67.5h.5M167.2 56.3h.5M152.1 69.7h.5M152.9 51.0h.5M148.0 56.2h.5M167.6 45.4h.5M140.9 42.1h.5M165.3 48.3h.5M156.9 56.3h.5M156.5 70.8h.5M163.6 69.6h.5M154.1 56.6h.5M144.6 41.8h.5M154.8 58.9h.5M147.1 38.5h.5M175.7 46.1h.5M153.6 60.6h.5M153.4 57.9h.5M166.9 56.4h.5M149.3 57.4h.5M149.5 57.4h.5M168.4 58.4h.5M165.0 58.4h.5M129.2 42.2h.5M149.0 27.7h.5M156.8 64.1h.5M159.3 43.2h.5M149.8 49.6h.5M145.6 60.2h.5M159.5 64.0h.5M157.6 33.4h.5M171.2 45.6h.5M165.3 42.9h.5M145.2 52.9h.5M167.3 51.3h.5M174.4 66.7h.5M157.5 39.4h.5M167.6 48.9h.5M143.1 56.7h.5M163.2 55.5h.5M158.6 54.7h.5M147.2 53.5h.5M144.5 69.3h.5M150.2 38.3h.5M140.3 53.3h.5M165.8 54.3h.5M147.6 38.0h.5M164.4 55.4h.5M149.5 57.2h.5M151.0 54.3h.5M159.9 63.3h.5M150.9 59.3h.5M156.8 54.7h.5M150.6 34.5h.5M136.1 53.1h.5M158.3 62.3h.5M149.4 67.7h.5M161.8 53.5h.5M149.0 43.3h.5M171.3 60.8h.5M156.9 37.6h.5M170.6 57.1h.5M151.7 36.3h.5M143.6 50.6h.5M153.3 37.2h.5M148.1 61.7h.5M148.5 55.5h.5M148.6 57.4h.5M162.9 64.5h.5M165.0 66.2h.5M151.0 63.6h.5M157.7 50.9h.5M169.1 54.5h.5M150.7 66.7h.5M153.5 52.2h.5M156.8 44.0h.5M161.3 61.3h.5M168.0 52.3h.5M163.7 49.9h.5M153.0 53.3h.5M168.1 32.8h.5M147.0 57.9h.5M152.3 45.1h.5M153.1 57.8h.5M164.5 55.6h.5M152.4 49.1h.5M160.4 35.8h.5M154.4 51.8h.5M153.3 46.2h.5M165.3 84.0h.5M152.9 53.8h.5M153.3 56.2h.5M161.7 40.3h.5M156.8 53.8h.5M153.1 62.0h.5M161.8 63.1h.5M164.5 59.2h.5M156.7 51.5h.5M173.2 54.6h.5M140.6 46.2h.5M164.5 55.6h.5M159.9 67.0h.5M155.6 51.2h.5M161.8 59.8h.5M165.8 55.8h.5M159.2 73.6h.5M153.4 57.9h.5M166.2 52.1h.5M163.8 63.1h.5M158.7 45.6h.5M147.1 74.4h.5M152.2 54.2h.5M146.9 61.8h.5M143.7 59.2h.5M159.3 68.8h.5M157.4 56.7h.5M155.0 45.4h.5M157.6 65.0h.5M156.7 42.7h.5M156.4 44.4h.5M152.3 60.1h.5M151.0 53.6h.5M169.3 63.2h.5M154.1 55.2h.5M159.7 39.4h.5M153.8 51.5h.5M152.1 51.0h.5M163.7 74.8h.5M152.0 79.2h.5M160.2 42.3h.5M163.7 54.4h.5M171.8 54.4h.5M152.6 65.4h.5M163.4 48.1h.5M148.2 62.5h.5M157.1 42.7h.5M149.3 61.9h.5M148.4 61.3h.5M159.2 48.3h.5M148.9 52.5h.5M160.3 69.5h.5M160.6 39.7h.5M157.6 59.2h.5M167.6 67.3h.5M133.6 70.0h.5M150.2 42.2h.5M155.6 59.4h.5M172.5 41.7h.5M163.7 39.6h.5M153.0 74.4h.5M160.0 52.0h.5M149.2 41.3h.5M154.3 35.3h.5M160.4 54.8h.5M162.3 58.9h.5M143.2 54.2h.5M153.7 55.5h.5M163.7 49.4h.5M167.6 41.7h.5M136.7 51.4h.5M155.8 62.7h.5M160.6 59.5h.5M155.4 40.6h.5M152.4 59.5h.5M167.0 58.7h.5M157.8 43.8h.5M144.1 63.0h.5M155.0 64.1h.5M148.7 63.3h.5M149.9 59.8h.5M167.6 55.0h.5M141.6 44.9h.5M152.5 63.7h.5M156.7 54.5h.5M167.8 55.6h.5M155.9 55.6h.5M165.3 46.5h.5M166.2 67.5h.5M144.8 53.1h.5M158.8 50.6h.5M152.7 56.2h.5M169.6 54.8h.5M162.9 48.8h.5M158.3 64.6h.5M162.0 45.4h.5M154.3 62.4h.5M145.5 57.7h.5M166.0 48.2h.5M156.8 56.7h.5M164.3 70.4h.5M161.1 54.8h.5M183.1 46.0h.5M181.2 43.0h.5M146.1 56.0h.5M162.1 42.7h.5M154.9 67.7h.5M167.4 62.1h.5M168.8 43.4h.5M160.9 52.7h.5M162.9 40.1h.5M153.4 51.5h.5M194.8 50.0h.5M146.0 70.2h.5M157.7 63.7h.5M183.6 63.8h.5M155.3 33.7h.5M166.6 56.6h.5M177.5 60.2h.5M189.1 63.0h.5M168.7 45.6h.5M155.4 48.9h.5M181.7 30.6h.5M181.5 64.0h.5M167.2 65.7h.5M157.4 57.3h.5M163.2 37.1h.5M184.6 82.3h.5M152.1 43.3h.5M179.2 48.6h.5M195.2 55.0h.5M178.0 76.9h.5M154.6 44.3h.5M162.7 54.2h.5M161.2 27.5h.5M185.4 51.6h.5M169.8 63.2h.5M171.7 62.8h.5M186.4 74.0h.5M159.0 75.5h.5M159.8 73.8h.5M156.8 52.4h.5M154.1 71.3h.5M189.8 69.2h.5M151.9 71.8h.5M167.7 52.5h.5M174.5 47.6h.5M169.0 43.9h.5M137.3 66.4h.5M174.1 72.2h.5M203.4 35.0h.5M180.6 68.7h.5M165.4 28.8h.5" stroke="#333" stroke-width="0.55" fill="none" opacity="0.5"/>
<path d="M152.2 84.8h.5M156.0 90.5h.5M160.0 86.1h.5M156.0 72.2h.5M155.3 96.7h.5M152.5 90.8h.5M159.0 79.8h.5M160.5 71.8h.5M162.4 81.3h.5M161.2 81.1h.5M155.2 79.7h.5M157.2 87.9h.5M157.0 80.0h.5M162.3 73.8h.5M159.4 81.2h.5M158.7 81.4h.5M155.5 89.9h.5M156.5 89.1h.5M159.7 73.7h.5M154.2 81.7h.5M153.9 91.8h.5M156.3 85.3h.5M161.5 88.4h.5M155.0 80.7h.5M155.1 97.8h.5M158.6 82.8h.5M154.4 79.4h.5M158.3 95.4h.5M162.7 84.0h.5M153.4 82.5h.5M157.5 78.3h.5M152.7 77.7h.5M160.1 80.5h.5M159.0 75.5h.5M159.4 85.1h.5M154.3 77.2h.5M160.2 83.8h.5M157.5 80.3h.5M156.6 83.6h.5M158.7 88.0h.5M159.6 90.1h.5M158.9 74.3h.5M157.2 87.1h.5M156.2 73.0h.5M155.6 81.6h.5M157.8 86.5h.5M156.2 86.7h.5M154.4 74.0h.5M159.1 96.6h.5M157.4 76.9h.5M152.4 85.0h.5M156.3 67.3h.5M158.4 89.6h.5M155.2 70.9h.5M155.5 67.7h.5M152.0 87.8h.5M156.3 92.0h.5M156.3 80.6h.5M154.9 97.9h.5M161.4 74.3h.5M154.8 83.8h.5M157.6 77.8h.5M162.1 89.8h.5M153.2 81.3h.5M161.5 94.9h.5M154.3 90.2h.5M153.3 77.0h.5M156.3 87.2h.5M160.2 91.9h.5M157.6 94.2h.5M159.3 82.3h.5M154.0 69.4h.5M155.4 95.9h.5M155.7 89.5h.5M152.0 89.3h.5M155.0 82.9h.5M154.5 82.7h.5M156.2 90.7h.5M159.2 82.9h.5M156.4 85.2h.5M153.4 86.0h.5M158.9 75.9h.5M155.6 81.7h.5M153.3 69.6h.5M159.9 86.3h.5M156.5 81.3h.5M154.8 84.3h.5M160.2 91.2h.5M156.3 91.1h.5M152.6 84.2h.5M158.2 91.7h.5M150.8 82.7h.5M158.0 91.6h.5M151.6 89.8h.5M153.1 79.3h.5M152.3 90.6h.5M153.8 76.1h.5M155.2 78.2h.5M155.1 81.4h.5M158.4 82.3h.5M154.5 88.3h.5M162.4 82.5h.5M155.2 68.3h.5M154.3 91.2h.5M161.6 98.8h.5M156.2 82.9h.5M153.0 98.5h.5M152.5 95.5h.5M153.1 80.8h.5M156.6 78.5h.5M154.6 81.2h.5M152.2 78.1h.5M157.9 81.9h.5M156.6 65.3h.5M155.8 87.0h.5M158.2 93.4h.5M156.6 93.4h.5M161.0 74.4h.5M158.0 91.4h.5M157.4 87.8h.5M156.7 85.4h.5M157.8 82.4h.5M156.3 93.2h.5M157.6 81.9h.5M154.5 71.9h.5M155.7 88.9h.5M155.3 95.7h.5M153.2 83.5h.5M153.5 98.3h.5M152.3 87.0h.5M152.4 84.3h.5M154.3 81.3h.5M151.8 87.9h.5M155.6 68.7h.5M150.6 85.8h.5M155.5 94.3h.5M153.2 80.5h.5M157.7 84.5h.5M157.9 84.5h.5M157.3 86.3h.5M156.9 82.7h.5M155.1 96.8h.5M159.9 91.0h.5M157.6 87.2h.5M157.9 68.5h.5M154.7 85.8h.5M157.0 95.0h.5M154.2 88.5h.5M156.9 83.2h.5M150.7 98.9h.5M162.3 87.8h.5M159.6 89.7h.5M154.7 69.3h.5M153.0 93.6h.5M159.2 86.2h.5M151.7 85.2h.5M159.3 98.6h.5M155.2 80.0h.5M154.8 86.1h.5M154.1 93.6h.5M155.4 82.2h.5M153.6 79.4h.5M159.7 79.5h.5M161.9 90.5h.5M156.8 78.3h.5M161.1 78.8h.5M155.5 90.3h.5M152.8 89.8h.5M154.1 90.3h.5M155.8 79.7h.5M159.7 86.7h.5M153.3 86.8h.5M158.4 79.5h.5M157.7 79.8h.5M154.9 81.1h.5M159.4 89.2h.5M154.6 76.4h.5M153.8 80.8h.5M156.1 89.1h.5M156.2 89.9h.5M156.9 72.0h.5M161.7 87.4h.5M158.5 79.0h.5M155.6 71.6h.5M157.1 81.4h.5M153.9 95.3h.5M153.8 91.5h.5M160.3 88.9h.5M159.8 89.7h.5M153.9 85.0h.5M157.1 76.9h.5M156.3 96.0h.5M154.6 96.1h.5M156.2 93.9h.5M156.6 84.9h.5M161.2 95.6h.5M161.8 73.3h.5M160.4 74.2h.5M154.4 83.3h.5M156.7 78.4h.5M157.9 85.8h.5M158.9 82.0h.5M157.8 83.2h.5M158.4 93.4h.5M152.5 86.0h.5M158.5 88.5h.5M157.7 70.9h.5M163.1 96.6h.5M153.9 88.0h.5M159.5 70.3h.5M157.3 96.7h.5M157.5 92.6h.5M152.1 90.3h.5M155.4 90.1h.5M154.8 93.4h.5M160.6 85.4h.5M154.8 80.4h.5M163.2 78.2h.5M152.8 88.0h.5M153.1 89.7h.5M158.6 93.0h.5M157.5 87.7h.5M158.0 96.0h.5M152.1 78.7h.5M156.8 96.4h.5M157.7 98.5h.5M160.0 95.1h.5M155.2 81.6h.5M158.3 84.6h.5M152.5 80.9h.5M155.5 89.2h.5M160.7 88.7h.5M159.5 73.2h.5M157.4 78.6h.5M155.5 92.2h.5M152.4 91.9h.5M156.9 93.2h.5M157.0 95.2h.5M157.2 85.2h.5M154.7 91.9h.5M160.0 81.4h.5M154.4 83.0h.5M153.2 90.7h.5M161.8 91.0h.5M154.9 71.1h.5M153.9 69.3h.5M159.5 84.1h.5M161.2 91.5h.5M156.3 91.8h.5M162.7 72.6h.5M158.7 84.6h.5M151.5 80.4h.5M157.5 95.1h.5M159.2 90.3h.5M161.5 80.2h.5M154.9 94.4h.5M157.5 81.2h.5M158.2 85.2h.5M162.1 84.4h.5M152.1 87.7h.5M151.4 83.8h.5M159.6 96.6h.5M155.2 89.2h.5M153.4 85.1h.5M158.1 82.2h.5M155.2 84.0h.5M154.8 91.6h.5M161.7 87.5h.5M153.5 87.5h.5M155.2 83.3h.5M158.7 90.7h.5M155.8 90.2h.5M155.0 87.9h.5M155.0 77.1h.5M158.0 81.5h.5M156.4 95.8h.5M158.3 89.6h.5M158.2 76.6h.5M155.5 96.2h.5M162.1 68.9h.5M152.6 86.1h.5M156.2 76.6h.5M157.0 70.8h.5M156.8 83.4h.5M158.2 81.2h.5M163.1 91.9h.5M155.2 94.0h.5M162.7 82.7h.5M158.4 82.8h.5M151.0 80.3h.5M157.3 84.0h.5M157.2 87.2h.5M156.7 91.0h.5M156.2 81.4h.5M161.0 79.9h.5M155.5 87.4h.5M158.1 80.6h.5M159.7 85.5h.5M158.6 87.8h.5M159.1 83.6h.5M158.8 90.6h.5M156.6 90.6h.5M155.8 90.7h.5M152.5 94.0h.5M159.4 92.5h.5M160.1 87.4h.5M162.9 92.2h.5M158.9 82.7h.5M156.6 72.9h.5M156.6 86.5h.5M157.2 86.1h.5M157.9 68.2h.5M159.6 90.6h.5M155.3 97.6h.5M156.4 89.9h.5M158.3 89.6h.5M152.3 82.5h.5M155.8 80.4h.5M156.7 89.1h.5M158.8 91.6h.5M154.7 82.3h.5M156.4 91.4h.5M157.7 84.4h.5M159.9 78.4h.5M157.2 86.7h.5M154.0 84.9h.5M155.8 79.8h.5M159.5 81.3h.5M156.8 83.8h.5M161.7 72.9h.5M158.9 98.7h.5M157.1 82.8h.5M161.7 87.8h.5M156.6 91.0h.5M157.9 96.2h.5M158.7 83.7h.5M161.3 88.9h.5M158.0 84.8h.5M156.9 94.1h.5M155.2 86.0h.5M158.5 78.2h.5M155.0 84.4h.5M158.9 79.6h.5M157.7 84.8h.5M155.9 86.2h.5M158.6 79.4h.5M155.8 85.0h.5M157.5 88.4h.5M161.7 87.9h.5M158.0 86.9h.5M152.8 92.2h.5M150.6 84.8h.5M153.3 91.4h.5M153.2 80.3h.5M160.2 96.5h.5M154.4 75.4h.5M157.3 77.5h.5M151.8 88.7h.5M158.5 84.6h.5M158.7 76.5h.5M158.8 77.6h.5M159.4 92.3h.5M157.6 76.0h.5M154.0 82.1h.5M159.0 75.7h.5M151.7 67.4h.5M152.0 86.4h.5M151.1 97.1h.5M158.2 88.3h.5M162.2 91.1h.5M156.7 73.9h.5M153.6 90.0h.5M154.4 93.0h.5M154.2 96.9h.5M161.4 86.2h.5M153.0 88.9h.5M158.2 82.4h.5M157.8 88.4h.5M158.2 89.0h.5M153.5 79.2h.5M160.3 85.0h.5M157.8 94.1h.5M157.4 84.1h.5M158.3 87.8h.5M154.7 96.6h.5M156.1 76.6h.5M156.0 91.7h.5M157.1 68.5h.5M157.8 77.7h.5M151.5 82.7h.5M160.3 97.3h.5M154.1 93.7h.5M160.4 80.9h.5M152.0 81.1h.5M155.7 83.8h.5M152.4 76.5h.5M152.1 86.4h.5M159.0 84.7h.5M156.5 77.5h.5M162.5 73.5h.5M156.8 86.3h.5M157.1 77.2h.5M152.5 96.4h.5M161.2 75.6h.5M152.3 87.7h.5M156.2 82.4h.5M161.6 85.3h.5M152.8 83.0h.5M152.0 84.8h.5M161.2 78.8h.5M158.8 77.1h.5M152.4 97.5h.5M155.4 89.9h.5M158.1 93.7h.5M151.6 92.2h.5M158.4 87.2h.5M154.2 84.7h.5M158.7 93.2h.5M161.7 94.2h.5M152.1 80.0h.5M156.2 90.2h.5M156.4 82.5h.5M158.5 93.6h.5M155.3 74.5h.5M158.6 87.0h.5M156.0 92.0h.5M157.4 97.1h.5M161.4 75.7h.5M160.1 79.9h.5M159.3 88.2h.5M152.1 85.2h.5M155.2 92.3h.5M151.0 78.1h.5M156.5 91.5h.5M151.4 96.7h.5M156.6 80.0h.5M158.5 91.2h.5M158.1 83.4h.5M161.3 96.7h.5M158.6 74.1h.5M158.3 76.1h.5M161.1 85.9h.5M156.9 96.1h.5M155.8 89.5h.5M151.5 82.9h.5M153.2 77.2h.5M152.1 95.1h.5M156.7 93.4h.5M152.3 81.0h.5M153.3 81.2h.5M155.3 78.7h.5M154.4 70.8h.5M153.5 93.8h.5M153.3 87.9h.5M159.0 76.4h.5M154.1 84.2h.5M155.2 87.0h.5M153.5 97.9h.5M155.6 83.1h.5M161.2 88.8h.5M156.3 83.5h.5M154.9 89.1h.5M161.0 94.2h.5M156.3 78.6h.5M158.8 83.7h.5M150.7 92.6h.5M153.9 77.5h.5M161.8 77.4h.5M155.0 82.1h.5M152.7 82.8h.5M157.2 82.9h.5M153.0 93.4h.5M155.1 88.4h.5M159.0 93.1h.5M152.1 88.1h.5M153.5 82.7h.5M155.8 88.2h.5M157.8 76.2h.5M154.5 85.9h.5M164.8 91.4h.5M157.1 92.6h.5M160.0 94.0h.5M162.5 71.9h.5M161.0 88.5h.5M157.1 81.0h.5M159.8 86.9h.5M159.3 82.8h.5M151.7 84.4h.5M162.5 90.8h.5M165.0 70.0h.5M162.6 95.4h.5M163.7 93.5h.5M154.9 97.8h.5M150.2 78.9h.5M153.0 77.4h.5M154.0 83.5h.5M154.2 83.4h.5M157.1 85.0h.5M154.4 71.6h.5M156.9 82.5h.5M158.0 77.5h.5M157.2 92.2h.5M162.4 84.4h.5M159.7 95.3h.5M159.2 91.7h.5M163.6 95.2h.5M160.8 87.9h.5M153.2 66.0h.5M160.1 94.2h.5M157.1 83.5h.5M156.4 84.2h.5M154.9 84.1h.5M155.8 86.5h.5M154.5 68.6h.5M155.8 85.4h.5M158.5 83.2h.5M152.3 75.2h.5M152.6 89.7h.5M159.1 85.4h.5M154.6 83.4h.5M154.0 89.2h.5M152.7 95.3h.5M153.5 83.1h.5M155.4 85.0h.5M161.0 87.9h.5M150.0 82.8h.5M156.4 94.2h.5M151.4 76.0h.5M157.2 83.9h.5M152.2 88.4h.5M152.9 69.2h.5M156.1 69.5h.5M154.3 86.2h.5M157.1 79.1h.5M159.3 89.5h.5M155.9 77.0h.5M153.3 86.8h.5M158.7 85.9h.5M153.5 68.0h.5M158.0 86.3h.5M164.9 73.1h.5M154.9 68.8h.5M156.9 80.0h.5M159.3 85.9h.5M162.0 83.5h.5M160.3 91.6h.5M163.0 92.2h.5M158.0 81.1h.5M160.2 71.6h.5M158.8 80.6h.5M156.7 80.9h.5M155.7 70.5h.5M158.6 66.4h.5M157.4 74.0h.5M151.3 72.6h.5M164.5 77.9h.5M158.5 68.9h.5M157.6 94.4h.5M154.7 95.6h.5M159.2 78.1h.5M160.0 86.6h.5M157.7 79.9h.5M165.3 78.6h.5M161.1 75.7h.5M154.6 83.6h.5M155.6 73.1h.5M158.3 90.1h.5M158.8 57.2h.5M157.5 78.6h.5M153.3 92.0h.5M149.7 86.5h.5M156.1 75.2h.5M159.7 82.9h.5M154.0 89.9h.5M160.4 90.8h.5M157.1 73.6h.5M160.5 74.7h.5M156.7 88.6h.5M155.3 70.6h.5M159.1 80.1h.5M159.9 96.8h.5M154.0 91.5h.5M153.2 68.4h.5M150.3 84.7h.5M157.3 91.5h.5M159.1 91.0h.5M152.0 95.1h.5M162.9 86.8h.5M158.4 77.7h.5M159.3 90.1h.5M160.8 73.1h.5M152.0 75.3h.5M159.7 72.7h.5M160.0 84.6h.5M154.6 76.9h.5M159.1 79.1h.5M155.7 72.0h.5M161.3 72.8h.5M155.3 77.3h.5M161.5 95.5h.5M154.7 80.5h.5M151.9 83.8h.5M158.0 96.9h.5M160.0 82.9h.5M162.6 83.3h.5M155.7 83.4h.5M156.5 76.0h.5M160.7 79.4h.5M153.3 83.8h.5M159.4 82.8h.5M158.3 65.2h.5M165.3 87.1h.5M153.9 82.6h.5M162.9 92.7h.5M153.9 94.7h.5M162.1 87.4h.5M157.4 67.6h.5M160.2 85.8h.5M152.6 72.3h.5M158.0 85.9h.5M158.7 89.6h.5M158.5 80.8h.5M153.4 80.5h.5M160.1 69.2h.5M161.2 63.0h.5M161.2 83.1h.5M159.1 82.5h.5M154.0 84.9h.5M158.4 92.5h.5M157.5 77.4h.5M164.4 83.8h.5M156.5 89.0h.5M151.4 77.4h.5M155.7 89.1h.5M153.4 69.0h.5M163.0 78.4h.5M156.3 94.0h.5M155.0 90.0h.5M157.7 98.1h.5M157.5 86.5h.5M156.3 91.6h.5M163.6 67.9h.5M157.2 72.4h.5M157.0 78.7h.5M156.2 70.4h.5M153.4 95.0h.5M159.5 76.8h.5M160.0 93.1h.5M157.3 93.5h.5M156.7 81.8h.5M157.0 89.4h.5M153.5 93.4h.5M156.9 74.0h.5M160.0 87.7h.5M156.7 84.9h.5M158.8 82.6h.5M154.6 62.5h.5M153.6 88.1h.5M160.7 73.3h.5M158.6 80.4h.5M156.1 76.7h.5M158.7 94.9h.5M155.6 88.9h.5M156.1 80.1h.5M154.7 54.0h.5M155.9 90.5h.5M151.6 98.1h.5M159.5 93.7h.5M158.4 80.4h.5M164.3 75.5h.5M158.8 97.4h.5M157.3 88.1h.5M157.2 83.6h.5M163.0 80.4h.5M161.7 82.5h.5M152.8 67.7h.5M156.0 77.8h.5M156.7 87.9h.5M165.0 85.7h.5M155.8 87.0h.5M159.5 68.7h.5M151.9 77.5h.5M158.9 71.1h.5M159.6 89.1h.5M158.7 87.5h.5M157.1 85.4h.5M157.7 79.3h.5M159.2 72.0h.5M160.2 86.7h.5M161.5 86.8h.5M154.5 96.1h.5M157.2 75.4h.5M154.3 79.6h.5M157.0 85.5h.5M159.6 98.4h.5M160.2 83.6h.5M161.3 86.9h.5M155.1 85.1h.5M157.6 73.1h.5M154.8 85.8h.5M153.7 86.3h.5M158.7 69.6h.5M157.2 80.6h.5M157.9 73.1h.5M156.5 85.4h.5M158.9 85.5h.5M158.5 83.7h.5M156.4 75.0h.5M156.8 86.6h.5M159.6 66.0h.5M158.8 84.6h.5M160.6 78.0h.5M153.8 72.1h.5M162.9 87.8h.5M156.3 77.2h.5M159.0 81.6h.5M162.8 97.4h.5M155.7 78.1h.5M159.5 88.2h.5M150.8 71.9h.5M161.3 81.6h.5M159.0 73.2h.5M161.5 92.5h.5M159.8 90.5h.5M157.2 98.3h.5M160.7 88.1h.5M159.1 88.0h.5M161.3 94.6h.5M157.7 88.9h.5M154.1 74.3h.5M158.6 89.5h.5M151.3 86.9h.5M156.5 89.7h.5M160.7 77.8h.5M159.4 71.6h.5M156.4 83.5h.5M153.0 91.2h.5M156.2 59.4h.5M159.9 81.9h.5M152.6 69.4h.5M162.2 78.9h.5M157.9 96.3h.5M152.3 78.1h.5M156.5 93.6h.5M157.0 69.7h.5M158.3 87.0h.5M155.1 90.7h.5M159.5 75.8h.5M164.3 75.6h.5M153.7 86.7h.5M162.6 96.1h.5M156.8 81.5h.5M155.2 86.6h.5M156.2 85.7h.5M160.7 67.1h.5M159.5 80.0h.5M154.9 85.7h.5M154.7 77.3h.5M159.8 87.6h.5M157.2 65.2h.5M156.0 80.3h.5M154.7 83.2h.5M154.9 90.2h.5M161.1 69.6h.5M159.4 86.4h.5M158.7 72.1h.5M162.9 62.3h.5M156.2 81.5h.5M158.5 76.7h.5M157.6 70.0h.5M160.5 89.5h.5M157.6 90.3h.5M151.8 69.8h.5M155.8 91.8h.5M158.8 89.5h.5M160.0 78.9h.5M153.8 66.8h.5M157.6 79.3h.5M163.2 72.3h.5M155.1 83.3h.5M159.2 78.3h.5M157.7 94.2h.5M155.9 82.7h.5M162.5 98.8h.5M153.3 88.2h.5M158.4 91.7h.5M157.1 79.9h.5M153.3 66.4h.5M161.2 88.7h.5M152.9 84.2h.5M159.6 84.9h.5M156.9 89.1h.5M154.5 68.2h.5M165.5 73.2h.5M160.7 93.4h.5M156.2 80.5h.5M163.5 91.6h.5M156.2 75.9h.5M161.1 84.8h.5M159.0 77.0h.5M157.0 68.8h.5M152.9 91.1h.5M161.2 68.9h.5M159.1 80.3h.5M150.8 95.2h.5M161.3 94.1h.5M162.7 94.6h.5M159.6 76.8h.5M152.9 79.2h.5M159.8 78.7h.5M147.4 52.2h.5M145.8 44.0h.5M147.1 51.0h.5M141.8 50.5h.5M145.0 55.8h.5M142.3 58.9h.5M146.5 56.9h.5M143.5 53.3h.5M144.8 51.1h.5M146.1 48.3h.5M141.1 53.1h.5M145.3 49.4h.5M143.8 51.2h.5M142.3 52.2h.5M142.6 49.2h.5M142.5 51.0h.5M143.8 61.1h.5M139.7 57.5h.5M144.4 52.9h.5M142.3 62.3h.5M143.4 46.8h.5M144.0 56.3h.5M145.8 55.1h.5M146.7 51.0h.5M143.2 51.6h.5M143.4 50.3h.5M148.1 56.7h.5M143.0 54.2h.5M141.9 56.8h.5M147.6 53.3h.5M143.3 48.2h.5M145.2 58.3h.5M144.0 43.9h.5M139.5 53.7h.5M148.3 54.4h.5M145.3 49.1h.5M145.3 50.9h.5M145.4 50.8h.5M147.1 49.2h.5M147.7 53.7h.5M145.9 56.4h.5M141.3 52.2h.5M147.9 51.2h.5M147.3 46.9h.5M143.7 48.5h.5M142.0 55.1h.5M146.8 47.8h.5M145.8 48.0h.5M143.8 55.3h.5M146.2 49.6h.5M142.0 50.0h.5M143.3 53.7h.5M139.9 55.8h.5M145.1 57.7h.5M144.9 49.7h.5M140.6 43.5h.5M145.8 56.0h.5M144.4 47.0h.5M147.7 56.4h.5M144.0 42.5h.5M142.7 58.4h.5M147.3 45.9h.5M146.9 55.5h.5M142.6 56.5h.5M141.5 47.1h.5M143.3 57.8h.5M140.1 55.7h.5M140.0 50.3h.5M142.5 59.9h.5M141.3 48.1h.5M141.0 52.9h.5M147.3 54.0h.5M143.3 50.5h.5M141.6 52.1h.5M142.7 49.4h.5M141.3 56.1h.5M144.8 51.4h.5M143.7 56.2h.5M144.5 54.4h.5M146.6 56.5h.5M139.9 58.1h.5M145.5 48.4h.5M145.3 52.5h.5M143.9 46.7h.5M143.8 46.7h.5M145.1 52.4h.5M142.4 54.4h.5M143.9 57.6h.5M143.3 52.8h.5M142.9 51.5h.5M142.0 51.2h.5M144.4 49.7h.5M145.7 53.3h.5M144.5 53.9h.5M142.4 55.3h.5M142.7 51.2h.5M143.2 55.1h.5M142.1 50.6h.5M142.3 52.6h.5M145.9 46.7h.5M141.0 56.8h.5M143.7 55.3h.5M146.9 53.8h.5M147.3 52.4h.5M144.0 53.5h.5M143.0 55.5h.5M145.1 48.7h.5M143.5 58.8h.5M146.4 54.0h.5M146.8 48.7h.5M141.1 49.5h.5M141.3 53.9h.5M141.3 56.4h.5M146.9 54.0h.5M141.6 49.1h.5M146.1 52.8h.5M144.8 52.3h.5M146.7 60.5h.5M142.7 51.9h.5M143.5 48.4h.5M144.0 57.2h.5M147.6 61.2h.5M142.9 49.4h.5M147.9 48.5h.5M139.5 47.0h.5M145.1 58.1h.5M143.8 57.8h.5M142.1 53.3h.5M142.1 50.8h.5M142.6 54.3h.5M145.4 55.0h.5M146.0 49.9h.5M147.4 52.9h.5M143.4 51.3h.5M145.0 51.8h.5M146.1 55.9h.5M143.5 52.9h.5M142.3 51.0h.5M144.5 55.8h.5M144.4 42.0h.5M145.0 52.0h.5M141.7 59.1h.5M143.0 49.7h.5M145.2 49.0h.5M142.4 55.4h.5M146.0 52.2h.5M142.6 54.7h.5M141.6 60.7h.5M139.5 48.4h.5M143.8 51.1h.5M144.7 55.5h.5M143.5 50.1h.5M143.9 52.9h.5M143.6 53.8h.5M147.0 54.4h.5M143.2 52.2h.5M146.4 52.1h.5M143.5 57.6h.5M142.1 53.2h.5M144.2 57.3h.5M144.9 59.3h.5M145.2 53.7h.5M142.3 58.2h.5M142.2 55.5h.5M143.0 52.8h.5M142.2 58.2h.5M145.5 54.8h.5M146.0 54.6h.5M145.9 58.2h.5M140.8 50.1h.5M139.4 55.1h.5M145.3 52.3h.5M148.6 52.5h.5M147.5 52.4h.5M148.0 52.6h.5M145.7 47.5h.5M145.0 56.2h.5M148.0 55.9h.5M145.5 51.9h.5M142.5 55.9h.5M147.9 50.4h.5M147.1 49.0h.5M146.2 49.6h.5M143.6 52.4h.5M146.1 54.3h.5M141.9 50.4h.5M144.5 61.1h.5M145.4 46.0h.5M141.2 54.1h.5M145.7 51.7h.5M147.3 56.9h.5M140.0 52.7h.5M144.7 46.3h.5M144.6 60.1h.5M142.5 52.3h.5M143.0 59.2h.5M143.4 57.8h.5M144.9 57.1h.5M144.2 52.1h.5M139.6 49.9h.5M142.9 48.3h.5M141.8 48.8h.5M142.6 50.1h.5M142.0 53.0h.5M142.7 55.4h.5M144.7 46.6h.5M140.0 49.4h.5M148.1 51.4h.5M140.4 57.3h.5M145.0 52.0h.5M146.5 57.4h.5M144.2 47.6h.5M145.3 55.7h.5M143.4 53.7h.5M144.5 46.5h.5M145.4 51.6h.5M147.2 49.6h.5M145.9 50.7h.5M139.3 45.8h.5M143.3 49.8h.5M139.8 52.1h.5M147.1 53.1h.5M148.2 49.8h.5M146.2 50.6h.5M141.7 46.7h.5M141.7 50.2h.5M145.8 52.4h.5M144.6 52.4h.5M147.1 50.7h.5M142.4 53.3h.5M145.8 48.5h.5M144.6 49.4h.5M145.3 45.9h.5M145.4 58.9h.5M141.7 51.1h.5M142.3 52.3h.5M145.6 53.0h.5M145.2 57.3h.5M146.9 46.9h.5M143.0 54.4h.5M143.7 48.5h.5M143.6 58.7h.5M146.0 54.4h.5M141.4 48.7h.5M141.6 51.7h.5M148.6 54.7h.5M146.6 65.2h.5M146.8 67.3h.5M145.1 63.4h.5M146.1 62.5h.5M144.5 72.7h.5M146.3 66.8h.5M144.1 68.9h.5M144.3 62.6h.5M146.2 72.6h.5M146.0 60.5h.5M144.6 78.6h.5M145.3 54.9h.5M148.0 68.4h.5M145.8 63.8h.5M148.7 55.7h.5M142.1 57.9h.5M146.8 71.5h.5M145.7 72.8h.5M146.9 71.1h.5M145.5 80.7h.5M148.6 66.1h.5M146.9 63.7h.5M144.7 78.8h.5M144.0 86.8h.5M145.2 66.2h.5M145.5 76.1h.5M147.5 69.6h.5M145.2 57.1h.5M143.7 54.7h.5M145.2 59.3h.5M146.3 54.5h.5M145.1 64.2h.5M148.0 62.4h.5M144.8 66.4h.5M145.9 59.4h.5M146.4 66.8h.5M147.6 65.6h.5M146.3 63.8h.5M147.2 73.7h.5M145.6 56.4h.5M146.6 80.2h.5M146.7 70.6h.5M144.1 73.1h.5M145.8 72.1h.5M144.0 71.6h.5M143.3 68.1h.5M143.6 69.1h.5M148.2 57.1h.5M142.9 80.7h.5M145.7 73.5h.5M145.7 64.1h.5M145.1 63.2h.5M144.5 70.4h.5M142.9 65.9h.5M146.1 75.7h.5M146.9 71.2h.5M145.9 81.2h.5M147.3 72.8h.5M146.7 80.4h.5M144.9 56.7h.5M145.5 75.5h.5M143.8 64.7h.5M143.3 67.8h.5M148.2 69.7h.5M146.1 77.5h.5M146.7 69.7h.5M146.8 54.6h.5M145.4 70.7h.5M145.7 79.6h.5M144.0 67.3h.5M144.7 49.8h.5M148.5 66.4h.5M147.0 67.6h.5M148.0 67.2h.5M145.1 76.5h.5M145.2 69.4h.5M146.2 71.8h.5M143.8 70.7h.5M142.7 80.9h.5M144.4 68.9h.5M145.5 62.6h.5M148.5 62.6h.5M144.1 80.2h.5M146.5 68.8h.5M147.3 53.5h.5M147.0 82.2h.5M144.5 63.3h.5M146.3 69.2h.5M144.2 71.9h.5M148.7 65.7h.5M143.4 74.4h.5M144.9 70.6h.5M145.0 66.0h.5M145.6 58.0h.5M145.3 72.6h.5M145.2 69.4h.5M144.6 80.2h.5M144.0 55.5h.5M144.6 59.6h.5M146.1 58.5h.5M144.8 73.2h.5M144.6 73.3h.5M144.6 56.3h.5M148.5 71.5h.5M146.3 67.7h.5M146.2 64.9h.5M143.2 78.9h.5M142.2 68.1h.5M145.0 68.2h.5M144.4 68.6h.5M142.6 72.5h.5M145.9 75.9h.5M145.7 59.5h.5M144.4 63.9h.5M145.7 71.7h.5M145.3 65.6h.5M144.5 70.5h.5M143.8 82.1h.5M147.9 75.3h.5M146.9 69.2h.5M147.1 69.2h.5M147.9 53.9h.5M145.4 65.4h.5M145.1 68.8h.5M146.2 63.2h.5M147.4 63.8h.5M146.3 78.4h.5M145.2 75.6h.5M144.4 67.5h.5M145.5 72.5h.5M146.1 77.1h.5M142.5 72.4h.5M144.8 64.8h.5M145.6 69.4h.5M145.1 61.4h.5M143.4 66.0h.5M145.0 67.3h.5M146.5 57.5h.5M146.9 68.0h.5M144.6 72.4h.5M147.8 67.2h.5M146.6 83.0h.5M146.1 74.5h.5M143.8 60.6h.5M144.2 74.6h.5M146.8 79.3h.5M144.8 68.3h.5M145.7 65.9h.5M144.6 64.6h.5M145.1 56.6h.5M146.6 74.5h.5M146.5 53.5h.5M147.0 79.7h.5M146.7 69.1h.5M145.3 77.1h.5M146.5 68.4h.5M143.9 72.2h.5M146.0 54.6h.5M145.5 71.3h.5M144.9 59.3h.5M146.7 75.0h.5M143.8 67.7h.5M146.0 84.0h.5M144.8 51.5h.5M144.9 65.1h.5M145.8 69.8h.5M143.8 78.0h.5M146.3 67.9h.5M144.7 65.5h.5M144.1 83.7h.5M143.3 67.5h.5M146.1 66.3h.5M142.1 69.0h.5M145.5 65.9h.5M144.8 68.6h.5M148.0 73.0h.5M145.1 53.7h.5M144.2 65.6h.5M147.5 74.5h.5M143.1 75.3h.5M145.5 73.7h.5M145.1 72.2h.5M145.6 60.0h.5M147.6 60.4h.5M145.1 82.1h.5M145.9 63.4h.5M146.2 66.4h.5M145.4 66.9h.5M146.8 74.6h.5M146.6 71.5h.5M146.2 53.3h.5M145.6 61.0h.5M144.0 75.6h.5M142.9 63.0h.5M143.9 70.5h.5M143.8 64.9h.5M143.6 76.6h.5M146.2 79.3h.5M145.0 73.2h.5M142.3 67.5h.5M143.9 58.3h.5M143.5 72.8h.5M143.9 77.5h.5M145.3 68.5h.5M147.0 65.0h.5M147.8 62.4h.5M143.5 61.2h.5M143.2 75.3h.5M143.2 74.7h.5M144.4 74.4h.5M145.2 77.9h.5M144.0 88.9h.5M148.5 89.2h.5M147.7 87.4h.5M148.3 86.4h.5M146.1 74.9h.5M145.7 94.5h.5M145.3 84.8h.5M142.9 91.2h.5M141.9 76.2h.5M149.5 86.3h.5M144.5 88.8h.5M144.3 88.5h.5M148.0 85.7h.5M147.6 89.8h.5M145.8 93.0h.5M142.9 92.0h.5M148.7 89.4h.5M145.9 88.9h.5M144.7 80.8h.5M144.5 95.5h.5M149.0 93.8h.5M141.6 81.0h.5M142.7 88.7h.5M149.6 81.5h.5M147.0 92.0h.5M148.0 80.8h.5M146.6 79.6h.5M145.5 91.2h.5M148.4 79.4h.5M146.2 78.0h.5M146.5 91.0h.5M145.8 92.8h.5M147.6 96.6h.5M143.7 91.2h.5M148.0 97.4h.5M146.1 74.1h.5M147.3 97.4h.5M146.3 93.3h.5M148.5 86.9h.5M143.0 77.9h.5M146.3 87.1h.5M147.0 78.4h.5M150.5 84.7h.5M146.6 89.8h.5M143.5 89.9h.5M144.7 93.0h.5M150.3 93.0h.5M148.0 78.6h.5M144.2 86.0h.5M148.0 94.5h.5M144.3 83.5h.5M145.0 83.9h.5M147.0 77.1h.5M148.5 85.6h.5M146.6 90.7h.5M146.5 90.9h.5M145.6 90.0h.5M147.8 94.0h.5M148.4 93.5h.5M149.5 95.8h.5M149.2 89.7h.5M149.6 94.9h.5M143.7 82.6h.5M148.9 84.0h.5M143.6 82.7h.5M148.4 88.4h.5M145.7 95.7h.5M145.2 74.6h.5M149.6 92.3h.5M145.1 78.9h.5M145.7 87.4h.5M144.5 88.1h.5M145.7 87.0h.5M150.1 96.2h.5M147.4 70.2h.5M148.5 86.2h.5M146.9 91.9h.5M149.5 94.1h.5M144.9 82.7h.5M150.5 83.7h.5M144.9 82.7h.5M146.7 83.2h.5M143.6 93.2h.5M144.0 86.5h.5M146.0 85.6h.5M144.2 87.7h.5M144.2 85.5h.5M148.1 85.3h.5M144.9 94.0h.5M149.2 87.8h.5M144.3 78.1h.5M148.9 84.3h.5M150.5 89.5h.5M145.1 78.7h.5M142.4 90.2h.5M145.4 97.8h.5M150.1 88.1h.5M146.7 87.7h.5M146.1 86.9h.5M148.5 92.2h.5M148.5 86.7h.5M147.1 81.3h.5M149.0 74.8h.5M146.3 87.4h.5M147.1 81.3h.5M143.5 80.9h.5M144.1 92.9h.5M148.0 85.4h.5M149.5 82.6h.5M145.9 93.9h.5M147.1 73.2h.5M142.7 83.8h.5M150.5 71.1h.5M146.8 94.8h.5M146.9 90.1h.5M148.5 78.5h.5M147.1 93.5h.5M147.5 84.6h.5M150.2 85.7h.5M145.3 91.5h.5M144.1 82.8h.5M142.4 82.9h.5M149.4 72.8h.5M145.5 70.9h.5M147.1 96.3h.5M147.5 98.0h.5M143.9 88.8h.5M144.0 97.7h.5M147.5 84.7h.5M142.1 78.7h.5M144.2 87.8h.5M145.8 85.4h.5M142.2 86.7h.5M149.0 89.3h.5M148.1 83.9h.5M145.0 75.5h.5M148.6 91.1h.5M143.4 88.4h.5M145.3 87.8h.5M145.3 85.7h.5M149.5 83.7h.5M144.4 94.1h.5M148.5 79.8h.5M148.7 93.1h.5M143.8 91.4h.5M146.6 78.9h.5M143.2 88.8h.5M143.2 92.7h.5M146.5 86.8h.5M147.4 92.4h.5M147.7 97.1h.5M142.8 90.1h.5M145.3 87.7h.5M145.7 78.8h.5M144.7 80.4h.5M145.6 86.4h.5M145.8 91.2h.5M149.8 81.8h.5M149.1 63.6h.5M144.7 87.8h.5M145.5 91.3h.5M146.7 74.6h.5M149.0 91.7h.5M147.4 80.5h.5M146.6 83.4h.5M148.7 82.4h.5M142.7 79.0h.5M144.2 75.0h.5M147.9 82.1h.5M150.2 88.1h.5M148.1 92.9h.5M145.8 81.5h.5M148.1 91.7h.5M148.2 93.5h.5M146.3 80.9h.5M146.6 87.0h.5M144.2 75.6h.5M145.2 79.2h.5M145.3 86.1h.5M144.0 75.1h.5M146.8 96.9h.5M148.3 83.6h.5M144.4 85.8h.5M149.3 87.3h.5M146.7 96.3h.5M149.7 87.9h.5M146.8 77.3h.5M149.2 74.3h.5M149.7 96.7h.5M144.3 89.0h.5M147.1 75.1h.5M147.5 76.8h.5M150.2 93.7h.5M144.0 83.6h.5M145.0 91.6h.5M149.4 83.9h.5M147.4 90.1h.5M145.0 92.8h.5M146.0 77.7h.5M144.1 81.8h.5M146.7 85.7h.5M142.1 94.4h.5M146.5 78.2h.5M148.0 84.1h.5M143.9 90.9h.5M142.5 90.5h.5M146.7 92.3h.5M150.7 96.4h.5M143.3 80.8h.5M144.9 88.2h.5M148.9 95.3h.5M145.9 87.5h.5M147.4 88.1h.5M146.8 84.8h.5M149.8 95.2h.5M147.0 76.0h.5M148.4 81.8h.5M147.4 91.8h.5M149.4 84.4h.5M147.8 83.9h.5M143.1 84.8h.5M145.2 91.1h.5M149.7 92.6h.5M143.6 87.2h.5M145.2 83.2h.5M145.2 83.6h.5M142.6 87.5h.5M146.2 98.3h.5M147.1 78.5h.5M146.4 95.1h.5M146.6 83.8h.5M142.8 74.4h.5M147.5 86.0h.5M146.8 97.9h.5M148.3 83.1h.5M142.9 92.9h.5M149.9 94.3h.5M148.0 84.3h.5M148.3 96.1h.5M147.8 78.8h.5M148.4 87.1h.5M146.7 85.3h.5M148.3 86.0h.5M146.3 82.2h.5M147.8 89.0h.5M142.0 86.5h.5M146.8 79.7h.5M146.0 85.6h.5M146.0 80.6h.5M145.5 89.3h.5M148.8 92.4h.5M144.2 91.8h.5M144.1 91.8h.5M147.3 81.2h.5M146.8 77.4h.5M145.2 90.4h.5M148.9 92.2h.5M147.2 96.3h.5M147.5 92.2h.5M144.2 81.6h.5M142.6 85.3h.5M147.8 95.7h.5M148.1 96.1h.5M147.7 87.0h.5M145.4 96.5h.5M145.0 95.3h.5M143.5 70.3h.5M149.5 81.7h.5M149.7 86.8h.5M146.9 82.1h.5M148.9 98.9h.5M145.6 90.5h.5M147.8 86.8h.5M148.7 88.3h.5M145.5 73.7h.5M144.8 93.5h.5M148.5 85.2h.5M145.4 84.2h.5M144.4 72.9h.5M144.9 98.6h.5M144.3 93.2h.5M146.0 79.6h.5M147.7 77.5h.5M144.5 95.0h.5M143.7 96.4h.5M143.9 84.6h.5M142.2 73.1h.5M152.2 97.3h.5M153.1 89.4h.5M153.1 90.9h.5M149.7 87.8h.5M151.0 88.3h.5M150.8 87.9h.5M150.4 75.1h.5M150.8 79.7h.5M152.4 96.0h.5M154.3 98.5h.5M150.5 90.1h.5M153.1 90.6h.5M149.2 79.6h.5M151.4 77.1h.5M147.0 98.8h.5M151.7 86.4h.5M150.5 96.1h.5M148.0 91.7h.5M155.0 89.2h.5M153.4 94.6h.5M153.3 92.8h.5M150.7 88.7h.5M147.7 94.6h.5M151.1 85.6h.5M152.1 88.6h.5M150.2 91.2h.5M152.7 89.4h.5M150.7 86.5h.5M149.3 90.7h.5M149.7 91.0h.5M149.6 85.2h.5M154.9 89.8h.5M148.4 87.2h.5M150.5 76.1h.5M149.8 90.7h.5M150.9 82.6h.5M150.3 92.1h.5M150.6 94.1h.5M150.1 83.0h.5M153.6 90.8h.5M149.4 79.9h.5M153.9 89.8h.5M147.2 95.6h.5M150.2 98.6h.5M153.5 87.3h.5M154.9 86.8h.5M151.4 89.0h.5M152.0 82.6h.5M148.9 86.3h.5M154.1 91.6h.5M153.6 89.0h.5M149.8 81.1h.5M151.9 81.7h.5M149.7 87.5h.5M148.9 82.4h.5M154.9 85.2h.5M151.4 84.4h.5M151.1 92.2h.5M147.6 82.0h.5M150.2 84.1h.5M154.4 82.1h.5M150.7 94.0h.5M155.0 83.3h.5M153.1 86.6h.5M148.6 80.5h.5M151.6 92.4h.5M153.5 91.6h.5M153.3 90.5h.5M148.1 78.5h.5M149.6 97.5h.5M149.7 89.8h.5M152.1 82.1h.5M152.5 81.2h.5M151.3 97.1h.5M152.8 97.2h.5M150.2 87.8h.5M151.7 84.5h.5M149.4 77.6h.5M151.5 89.5h.5M152.0 94.3h.5M149.6 90.1h.5M149.6 91.1h.5M155.7 87.3h.5M149.7 92.3h.5M149.6 86.6h.5M154.5 97.7h.5M149.1 85.8h.5M149.0 80.3h.5M152.0 87.6h.5M152.4 79.1h.5M149.4 94.2h.5M146.9 80.2h.5M152.0 96.4h.5M151.9 75.7h.5M149.7 89.2h.5M150.3 95.5h.5M154.8 78.9h.5M152.8 90.3h.5M152.6 82.5h.5M151.4 94.7h.5M154.0 81.7h.5M148.7 93.1h.5M151.8 92.3h.5M149.4 87.7h.5M155.0 89.0h.5M152.9 81.1h.5M155.1 86.5h.5M151.5 86.5h.5M149.5 90.8h.5M152.8 93.0h.5M151.4 81.6h.5M153.2 91.0h.5M151.5 88.4h.5M149.2 81.8h.5M153.2 92.0h.5M151.8 83.6h.5M152.2 95.3h.5M149.4 79.7h.5M151.3 83.4h.5M151.8 82.5h.5M148.8 78.3h.5M147.2 79.5h.5M149.3 87.8h.5M150.3 90.8h.5M150.2 82.9h.5M148.8 87.0h.5M151.1 90.1h.5M153.4 91.4h.5M150.4 93.0h.5M149.2 80.8h.5M154.1 93.8h.5M152.5 85.5h.5M149.3 86.2h.5M149.7 91.1h.5M151.0 94.1h.5M153.4 86.5h.5M153.2 90.2h.5M149.9 75.3h.5M152.5 95.3h.5M148.0 91.0h.5M150.6 86.6h.5M149.3 97.5h.5M148.7 89.7h.5M150.2 84.1h.5M149.5 81.8h.5M151.0 90.7h.5M152.3 92.0h.5M154.2 87.5h.5M148.5 83.2h.5M149.9 82.3h.5M153.6 90.4h.5M150.1 91.6h.5M152.9 90.0h.5M154.2 93.0h.5M150.1 90.7h.5M153.2 98.5h.5M151.6 92.9h.5M152.0 76.7h.5M154.1 87.3h.5M151.4 90.6h.5M151.4 94.9h.5M151.1 97.6h.5M153.3 84.1h.5M150.6 93.0h.5M150.6 91.2h.5M149.3 94.1h.5M152.1 96.1h.5M154.7 93.4h.5M152.8 89.6h.5M152.9 95.7h.5M149.3 83.2h.5M152.7 87.7h.5M152.1 85.4h.5" stroke="#111" stroke-width="0.6" fill="none" opacity="0.72"/>
</g></g>
<polyline points="146.2,99.0 146.2,78.6 156.5,66.6 175.2,62.2 185.1,64.4 189.6,70.6 188.9,99.0" fill="none" stroke="#4a4a4a" stroke-width="0.65"/>
<text x="202.9" y="36.4" font-size="9.0" font-weight="normal" text-anchor="end" fill="#111" stroke="#111" stroke-width="0.12" >65%</text>
<rect x="118.7" y="25.1" width="2.6" height="1.4" fill="#8a8a8a"/>
<rect x="122.9" y="22.5" width="1.2" height="1.3" fill="#6a6a6a"/>
<rect x="118.7" y="43.1" width="2.6" height="1.4" fill="#8a8a8a"/>
<rect x="122.9" y="40.5" width="1.2" height="1.3" fill="#6a6a6a"/>
<rect x="118.7" y="61.2" width="2.6" height="1.4" fill="#8a8a8a"/>
<rect x="122.9" y="58.6" width="1.2" height="1.3" fill="#6a6a6a"/>
<rect x="118.7" y="79.3" width="2.6" height="1.4" fill="#8a8a8a"/>
<rect x="122.9" y="76.7" width="1.2" height="1.3" fill="#6a6a6a"/>
<rect x="118.7" y="97.3" width="2.6" height="1.4" fill="#8a8a8a"/>
<rect x="122.9" y="94.7" width="1.2" height="1.3" fill="#6a6a6a"/>
<rect x="128.1" y="103.9" width="0.9" height="1.4" fill="#8a8a8a"/>
<rect x="141.7" y="103.9" width="2.7" height="1.4" fill="#8a8a8a"/>
<rect x="156.3" y="103.9" width="2.7" height="1.4" fill="#8a8a8a"/>
<rect x="170.9" y="103.9" width="2.7" height="1.4" fill="#8a8a8a"/>
<rect x="185.5" y="103.9" width="2.7" height="1.4" fill="#8a8a8a"/>
<rect x="199.6" y="103.9" width="3.6" height="1.4" fill="#8a8a8a"/>
<clipPath id="cpbl"><rect x="29.299999999999997" y="120.4" width="77.3" height="72.2"/></clipPath>
<rect x="28.9" y="120.0" width="78.1" height="73.0" fill="#fff" stroke="#959595" stroke-width="0.75"/>
<line x1="28.9" y1="120.0" x2="28.9" y2="193.0" stroke="#5a5a5a" stroke-width="0.8"/>
<line x1="28.9" y1="193.0" x2="107.0" y2="193.0" stroke="#808080" stroke-width="0.8"/>
<g clip-path="url(#cpbl)">
<g filter="url(#sb)">
<ellipse cx="58.2" cy="180.6" rx="5.5" ry="15.3" fill="#333" opacity="0.25"/>
<ellipse cx="43.7" cy="142.6" rx="2.3" ry="3.7" fill="#333" opacity="0.15"/>
</g>
<g filter="url(#sd)">
<path d="M66.3 184.8h.5M66.3 158.9h.5M65.2 180.2h.5M79.9 177.7h.5M71.3 171.6h.5M66.9 183.2h.5M81.7 162.5h.5M72.7 169.4h.5M67.2 161.6h.5M62.7 189.7h.5M69.3 170.3h.5M71.4 168.0h.5M74.1 179.3h.5M61.5 167.8h.5M72.5 174.8h.5M65.6 168.8h.5M71.0 154.9h.5M75.3 168.1h.5M82.1 185.1h.5M66.9 180.1h.5M57.7 172.3h.5M86.9 172.6h.5M55.1 184.9h.5M61.7 168.3h.5M79.0 185.3h.5M73.8 182.4h.5M78.5 169.3h.5M70.3 181.6h.5M57.8 181.2h.5M69.0 162.8h.5M84.0 187.7h.5M70.6 173.3h.5M60.7 181.0h.5M77.4 187.0h.5M61.4 171.6h.5M81.8 164.1h.5M69.3 188.5h.5M65.7 167.7h.5M63.6 162.2h.5M69.5 172.2h.5M62.9 169.7h.5M61.1 176.4h.5M73.8 172.8h.5M89.1 184.0h.5M64.5 180.7h.5M60.4 154.1h.5M52.6 171.0h.5M66.8 175.4h.5M62.1 172.0h.5M66.3 170.2h.5M63.3 170.4h.5M69.4 158.1h.5M66.2 164.6h.5M72.6 169.2h.5M71.9 173.1h.5M65.9 175.5h.5M56.7 176.8h.5M59.3 179.2h.5M50.9 175.1h.5M63.6 170.3h.5M64.6 156.0h.5M67.0 185.7h.5M63.6 182.7h.5M66.1 155.7h.5M76.0 182.0h.5M82.5 175.0h.5M79.8 157.8h.5M63.1 188.0h.5M67.7 172.3h.5M65.0 162.2h.5M71.0 170.8h.5M75.9 174.7h.5M66.5 177.3h.5M73.4 158.8h.5M70.1 162.3h.5M62.9 170.4h.5M81.0 192.3h.5M63.8 177.0h.5M81.9 166.7h.5M88.1 182.3h.5M81.5 167.7h.5M73.6 167.0h.5M71.4 186.0h.5M73.0 162.1h.5M63.2 174.9h.5M81.1 178.8h.5M71.8 171.1h.5M63.9 176.8h.5M58.1 179.6h.5M58.1 172.9h.5M81.3 178.1h.5M58.1 168.0h.5M78.6 173.1h.5M71.8 182.1h.5M80.3 166.0h.5M80.1 158.4h.5M75.6 182.6h.5M71.7 173.1h.5M73.5 190.5h.5M68.0 164.7h.5M81.3 168.0h.5M80.8 171.2h.5M58.0 174.5h.5M62.3 187.6h.5M77.6 167.6h.5M58.8 191.4h.5M66.1 156.5h.5M53.6 179.3h.5M64.9 167.4h.5M76.1 181.2h.5M63.3 181.4h.5M72.7 179.3h.5M84.5 166.5h.5M67.4 174.6h.5M86.7 177.1h.5M63.0 174.8h.5M69.1 187.0h.5M75.5 181.1h.5M74.4 192.5h.5M67.1 180.6h.5M73.2 167.6h.5M51.1 178.3h.5M77.8 165.5h.5M74.1 178.8h.5M57.3 167.1h.5M68.9 172.0h.5M68.3 170.3h.5M77.1 175.8h.5M72.5 175.7h.5M61.9 163.0h.5M75.2 166.5h.5M68.1 171.9h.5M59.7 153.5h.5M66.6 171.5h.5M66.7 179.3h.5M54.3 168.8h.5M71.0 169.1h.5M63.3 165.5h.5M61.2 172.5h.5M79.8 181.6h.5M72.2 185.4h.5M63.1 165.8h.5M62.3 169.4h.5M70.1 179.6h.5M66.1 170.3h.5M71.3 164.5h.5M73.9 176.6h.5M63.8 180.1h.5M71.5 172.4h.5M63.8 162.0h.5M72.5 169.4h.5M70.7 164.0h.5M81.7 166.8h.5M55.4 166.5h.5M75.9 192.1h.5M82.2 162.8h.5M61.0 170.4h.5M69.8 174.0h.5M64.2 159.0h.5M83.0 170.7h.5M68.6 172.9h.5M75.5 169.5h.5M60.6 187.8h.5M69.5 174.7h.5M62.6 179.2h.5M62.7 170.5h.5M75.4 182.3h.5M74.4 173.7h.5M66.8 169.0h.5M70.1 167.9h.5M65.6 178.5h.5M73.3 183.4h.5M73.7 166.2h.5M75.8 184.2h.5M88.6 168.9h.5M52.3 164.4h.5M59.8 180.1h.5M67.5 168.2h.5M69.4 180.7h.5M59.0 169.5h.5M72.8 175.0h.5M72.4 189.7h.5M72.5 170.0h.5M84.9 185.2h.5M59.5 182.5h.5M78.3 170.2h.5M73.6 173.9h.5M65.9 170.4h.5M69.0 172.1h.5M71.3 177.4h.5M74.6 174.0h.5M62.5 173.0h.5M67.8 169.4h.5M93.3 169.8h.5M66.1 175.7h.5M75.8 173.4h.5M63.8 177.9h.5M71.0 164.4h.5M76.8 168.4h.5M77.3 170.5h.5M79.8 162.8h.5M69.3 169.1h.5M81.5 185.0h.5M66.8 171.8h.5M47.7 167.1h.5M67.6 173.8h.5M77.6 153.9h.5M60.3 171.6h.5M59.9 175.8h.5M63.5 178.1h.5M77.2 171.6h.5M61.2 161.2h.5M56.1 155.9h.5M75.4 164.2h.5M80.6 176.1h.5M77.8 171.7h.5M73.9 175.2h.5M68.3 156.4h.5M71.1 178.9h.5M65.7 181.2h.5M71.0 174.1h.5M83.7 167.3h.5M74.8 179.5h.5M68.6 174.0h.5M66.1 168.5h.5M72.9 163.6h.5M71.3 174.8h.5M68.5 177.0h.5M62.7 180.4h.5M67.5 171.6h.5M56.9 163.2h.5M74.8 161.0h.5M74.0 178.4h.5M75.3 169.4h.5M65.6 181.9h.5M65.9 175.2h.5M62.1 162.6h.5M65.4 178.9h.5M68.9 170.5h.5M73.1 163.8h.5M67.7 167.6h.5M75.7 178.1h.5M70.9 165.6h.5M75.5 176.5h.5M77.4 172.4h.5M63.7 178.8h.5M72.0 163.5h.5M66.5 166.6h.5M73.5 169.2h.5M77.0 162.4h.5M63.7 162.1h.5M83.9 169.7h.5M65.1 163.9h.5M69.8 185.1h.5M76.6 172.8h.5M58.0 169.0h.5M73.9 159.9h.5M76.0 178.7h.5M72.0 165.1h.5M66.2 178.6h.5M70.0 177.3h.5M66.7 163.4h.5M64.3 178.5h.5M69.9 182.8h.5M70.6 175.1h.5M61.9 171.1h.5M58.0 162.6h.5M66.5 177.9h.5M64.7 174.9h.5M74.1 173.0h.5M71.5 170.3h.5M72.2 167.4h.5M78.8 170.5h.5M74.0 156.1h.5M65.3 173.1h.5M56.0 161.8h.5M79.0 175.3h.5M77.6 181.3h.5M86.1 187.0h.5M65.2 173.4h.5M67.3 166.6h.5M68.4 185.4h.5M70.0 179.9h.5M64.6 163.7h.5M67.4 174.9h.5M78.0 189.2h.5M73.5 166.3h.5M57.7 167.3h.5M75.6 181.7h.5M68.2 155.3h.5M70.7 175.1h.5M78.5 176.8h.5M65.3 178.0h.5M51.0 166.4h.5M69.5 181.8h.5M76.0 156.1h.5M81.4 188.6h.5M76.8 162.9h.5M78.2 173.2h.5M78.4 178.6h.5M65.7 180.7h.5M55.7 170.3h.5M59.3 183.0h.5M70.2 168.6h.5M71.3 174.1h.5M73.2 164.5h.5M70.3 175.0h.5M67.9 161.8h.5M76.2 175.7h.5M73.7 164.7h.5M70.7 165.1h.5M75.5 174.9h.5M71.1 172.1h.5M66.0 171.5h.5M71.7 185.0h.5M55.3 176.7h.5M63.6 173.8h.5M62.4 182.2h.5M72.5 190.3h.5M72.0 169.0h.5M68.8 170.4h.5M57.4 169.6h.5M69.9 174.8h.5M75.9 176.5h.5M74.7 176.5h.5M67.3 166.6h.5M68.8 171.9h.5M76.7 166.3h.5M67.9 178.4h.5M75.8 172.6h.5M72.2 149.0h.5M68.3 178.6h.5M71.3 174.1h.5M73.6 172.4h.5M60.4 164.3h.5M62.1 176.9h.5M73.1 183.5h.5M80.4 168.3h.5M80.3 169.3h.5M60.5 169.3h.5M60.3 175.6h.5M46.0 163.0h.5M43.8 139.3h.5M45.0 170.8h.5M49.7 181.2h.5M45.7 137.8h.5M43.2 123.1h.5M42.4 154.6h.5M50.6 165.3h.5M41.9 152.0h.5M45.0 148.1h.5M44.0 148.6h.5M45.6 150.4h.5M48.7 145.2h.5M42.8 155.3h.5M57.1 148.1h.5M48.3 155.5h.5M35.4 166.0h.5M40.4 132.8h.5M38.9 160.3h.5M47.5 154.1h.5M41.5 165.4h.5M47.8 155.1h.5M43.9 157.6h.5M43.8 156.1h.5M44.8 146.3h.5M47.0 154.4h.5M46.6 165.7h.5M39.8 146.8h.5M48.0 160.7h.5M50.8 153.1h.5M43.0 146.6h.5M46.0 155.6h.5M47.5 129.4h.5M41.6 178.9h.5M41.5 138.3h.5M49.6 153.3h.5M38.9 142.2h.5M47.9 159.7h.5M46.0 140.6h.5M39.5 147.2h.5M47.2 145.1h.5M46.8 154.9h.5M43.5 149.2h.5M47.9 173.7h.5M49.8 137.2h.5M47.2 153.4h.5M40.6 158.5h.5M43.7 154.7h.5M40.0 148.4h.5M44.3 163.9h.5M41.9 167.1h.5M42.4 156.3h.5M40.6 160.2h.5M46.8 140.3h.5M44.4 163.0h.5M41.8 149.5h.5M42.3 164.9h.5M49.9 166.9h.5M43.3 168.0h.5M39.4 149.2h.5M50.4 124.8h.5M44.0 138.7h.5M39.8 187.8h.5M47.4 156.7h.5M42.5 168.0h.5M44.1 163.2h.5M35.4 166.7h.5M49.1 146.9h.5M41.3 176.6h.5M45.8 159.4h.5M48.1 148.5h.5M40.7 174.2h.5M41.5 152.5h.5M50.0 170.1h.5M45.5 157.4h.5M44.1 147.0h.5M45.0 161.5h.5M45.8 140.0h.5M46.8 156.3h.5M46.5 142.7h.5M48.7 155.1h.5M54.8 163.4h.5M42.6 140.5h.5M44.6 154.4h.5M42.5 154.0h.5M45.0 149.1h.5M44.2 172.4h.5M40.4 171.3h.5M55.9 150.3h.5M55.0 157.9h.5M43.2 164.5h.5M39.5 154.3h.5M41.7 155.7h.5M43.9 136.3h.5M51.9 150.5h.5M42.7 135.5h.5M48.7 151.8h.5M36.9 128.4h.5M51.9 159.4h.5M47.8 160.5h.5M47.5 153.6h.5M41.8 162.3h.5M40.2 154.9h.5M47.9 148.4h.5M45.2 162.1h.5M48.3 147.5h.5M44.0 174.0h.5M51.6 149.0h.5M47.2 159.3h.5M47.3 147.0h.5M45.3 160.1h.5M44.8 165.3h.5M48.0 162.5h.5M41.7 151.1h.5M41.4 134.4h.5M45.0 156.0h.5M50.0 155.1h.5M44.9 166.4h.5M48.0 147.2h.5M45.6 145.0h.5M44.0 140.7h.5M42.7 169.6h.5M41.8 132.9h.5M39.7 155.6h.5M41.1 164.1h.5M45.3 126.0h.5M48.5 146.9h.5M49.5 142.7h.5M48.0 151.3h.5M50.4 136.5h.5M47.3 148.8h.5M44.9 142.4h.5M44.1 133.9h.5M42.1 150.5h.5M43.7 158.7h.5M45.5 164.2h.5M44.4 162.5h.5M51.9 142.8h.5M42.8 160.1h.5M47.0 151.3h.5M48.4 175.6h.5M46.5 169.9h.5M44.1 164.9h.5M45.7 165.0h.5M42.0 140.2h.5M42.6 147.4h.5M44.3 163.0h.5M47.7 155.8h.5M51.6 175.4h.5M46.7 155.0h.5M54.1 169.7h.5M45.1 173.3h.5M47.7 138.8h.5M42.5 143.8h.5M53.2 149.8h.5M42.3 162.9h.5M42.5 149.0h.5M51.1 162.6h.5M52.6 142.0h.5M46.0 138.2h.5M52.6 158.9h.5M45.2 159.5h.5M49.9 160.6h.5M47.9 168.7h.5M49.1 157.2h.5M48.1 126.9h.5M42.1 144.4h.5M43.7 166.8h.5M47.8 159.7h.5M45.9 141.1h.5M48.1 132.3h.5M48.3 153.4h.5M54.9 147.9h.5M46.3 164.2h.5M47.9 160.6h.5M41.5 136.2h.5M44.0 166.5h.5M41.5 143.6h.5M44.6 161.2h.5M45.5 137.7h.5M72.6 134.7h.5M61.6 139.4h.5M57.2 134.0h.5M44.6 143.0h.5M58.8 135.9h.5M56.3 151.6h.5M56.6 143.8h.5M35.5 132.8h.5M66.3 148.4h.5M50.8 137.5h.5M60.4 151.9h.5M45.1 144.5h.5M54.4 143.4h.5M71.1 167.3h.5M45.9 136.8h.5M70.9 149.6h.5M56.3 155.3h.5M64.8 150.2h.5M43.3 145.3h.5M63.9 145.9h.5M68.8 147.7h.5M46.5 154.2h.5M46.6 135.5h.5M50.4 153.2h.5M64.2 139.7h.5M54.0 147.7h.5M32.0 144.2h.5M64.9 138.2h.5M60.5 154.4h.5M76.5 144.8h.5M52.1 151.1h.5M54.3 148.8h.5M51.5 141.5h.5M49.7 164.7h.5M42.6 173.3h.5M56.9 150.3h.5M65.6 149.0h.5M57.0 149.9h.5M70.1 147.1h.5M44.2 164.0h.5M54.9 135.3h.5M41.5 160.7h.5M60.1 149.4h.5M75.8 143.3h.5M53.2 143.2h.5M40.0 151.6h.5M57.2 145.8h.5M47.8 153.3h.5M51.4 152.8h.5M44.9 149.8h.5M54.6 153.6h.5M63.2 160.2h.5M52.5 132.9h.5M59.5 145.6h.5M59.9 155.5h.5M40.6 159.7h.5M49.1 154.4h.5M55.9 144.4h.5M51.9 143.2h.5M59.2 163.4h.5M54.5 137.0h.5M56.5 150.9h.5M68.6 128.7h.5M53.8 133.2h.5M50.5 145.9h.5M52.1 152.0h.5M58.7 135.0h.5M54.7 145.3h.5M66.1 140.3h.5M49.4 148.1h.5M53.2 137.2h.5M83.0 145.1h.5M63.3 153.5h.5M41.5 150.0h.5M56.7 133.8h.5M51.1 139.9h.5M63.7 160.7h.5M64.9 161.2h.5M57.9 132.6h.5M61.0 151.5h.5M55.4 158.1h.5M50.4 161.2h.5M61.6 149.4h.5M50.3 136.5h.5M39.4 148.4h.5M70.9 141.9h.5M61.2 143.3h.5M51.1 126.8h.5M75.4 157.1h.5M52.1 149.2h.5M33.2 165.7h.5M47.5 142.9h.5M56.9 142.3h.5M55.7 141.1h.5M64.7 156.4h.5M59.9 128.5h.5M51.4 144.7h.5M65.4 150.3h.5M66.8 162.6h.5M64.4 135.3h.5M51.0 141.8h.5M65.4 145.1h.5M61.0 123.7h.5M62.7 154.0h.5M47.3 142.9h.5M61.4 154.9h.5M65.8 147.7h.5M43.0 152.5h.5M60.1 144.3h.5M53.4 144.8h.5M66.2 146.8h.5M50.1 151.9h.5M55.1 136.8h.5M45.6 148.3h.5M61.8 131.6h.5M44.4 138.2h.5M49.8 160.7h.5M54.9 140.8h.5M62.8 141.3h.5M48.1 135.0h.5M58.5 134.4h.5M48.1 151.1h.5M46.3 147.0h.5M43.4 133.5h.5M61.5 141.2h.5M55.4 148.2h.5M51.4 143.8h.5M40.0 148.0h.5M46.2 141.3h.5M63.8 148.9h.5M54.3 157.1h.5M68.2 150.3h.5M55.3 143.4h.5M45.0 162.9h.5M62.2 163.0h.5M75.0 135.8h.5M44.8 137.5h.5M43.3 150.7h.5M58.0 153.1h.5M57.5 164.0h.5M57.7 137.6h.5M70.0 165.4h.5M54.1 137.5h.5M76.7 148.8h.5M65.5 134.3h.5M58.2 143.9h.5M38.7 133.4h.5M68.2 152.4h.5M77.5 144.1h.5M54.5 130.3h.5M57.9 138.7h.5M59.5 138.4h.5M46.6 147.5h.5M69.0 132.9h.5M55.2 135.3h.5M48.7 148.6h.5M59.7 147.7h.5M57.5 145.4h.5M68.0 135.3h.5M66.6 133.1h.5M49.4 150.5h.5M58.3 153.9h.5M52.6 131.3h.5M60.8 134.9h.5M65.7 150.0h.5M63.1 130.9h.5M71.8 158.6h.5M57.2 138.4h.5M59.5 135.5h.5M49.7 142.0h.5M45.2 167.8h.5M46.9 145.1h.5M58.5 158.3h.5M63.9 143.0h.5M34.4 166.1h.5M67.5 147.8h.5M65.0 153.7h.5M61.5 146.4h.5M57.2 155.2h.5M60.0 143.5h.5M55.0 147.2h.5M55.1 139.8h.5M50.0 144.8h.5M45.7 160.7h.5M68.3 148.2h.5M60.1 151.9h.5M57.2 144.1h.5M36.0 157.4h.5M35.2 150.9h.5M55.4 148.8h.5M46.5 154.3h.5M59.3 152.1h.5M69.6 160.0h.5M56.0 137.0h.5M51.7 129.1h.5M60.9 156.5h.5M51.9 151.0h.5M57.0 139.8h.5M51.1 139.1h.5M58.5 165.5h.5M51.2 157.1h.5M37.8 129.1h.5M73.2 139.8h.5M57.6 137.7h.5M55.0 150.9h.5M58.2 147.0h.5M48.2 155.4h.5M58.0 150.0h.5M55.0 178.1h.5M53.4 150.9h.5M64.8 161.8h.5M55.5 131.3h.5M48.0 150.5h.5M65.0 130.9h.5M70.6 158.3h.5M68.1 136.7h.5M43.6 127.3h.5M57.9 146.1h.5M46.5 142.7h.5M61.0 157.8h.5M51.4 145.2h.5M70.4 149.6h.5M64.8 144.7h.5M41.9 140.9h.5M62.7 160.3h.5M54.0 139.7h.5M60.5 142.9h.5M64.9 136.1h.5M52.3 131.4h.5M66.3 144.6h.5M52.1 151.9h.5M69.8 144.1h.5M77.0 132.3h.5M36.0 131.3h.5M63.2 130.2h.5M51.4 131.5h.5M66.6 144.3h.5M54.6 143.4h.5M60.5 136.4h.5M58.5 120.8h.5M67.8 152.7h.5M41.0 145.3h.5M39.1 143.6h.5M68.2 148.8h.5M66.1 146.1h.5M50.0 149.9h.5M44.0 152.0h.5M59.3 167.8h.5M60.6 127.9h.5M55.6 133.4h.5M55.8 142.5h.5M61.6 140.6h.5M45.0 160.5h.5M44.8 163.1h.5M71.8 149.6h.5M58.9 148.0h.5M50.4 134.6h.5M45.3 153.8h.5M59.5 148.8h.5M54.7 143.6h.5M70.6 174.2h.5M50.2 166.0h.5M68.5 141.6h.5M60.7 151.9h.5M46.1 154.0h.5M50.1 149.5h.5M61.8 128.3h.5M71.5 150.8h.5M54.6 147.4h.5M77.8 161.9h.5M85.7 160.9h.5M69.2 159.0h.5M79.5 148.6h.5M75.0 156.4h.5M74.4 143.7h.5M68.1 122.4h.5M79.4 164.6h.5M66.8 159.5h.5M86.0 141.0h.5M84.5 158.1h.5M62.2 163.2h.5M83.7 170.9h.5M88.1 160.2h.5M64.8 149.5h.5M105.1 148.3h.5M97.8 157.7h.5M55.7 146.2h.5M50.6 130.9h.5M66.0 181.0h.5M49.3 153.6h.5M77.4 152.3h.5M67.6 162.1h.5M39.8 154.5h.5M67.2 167.9h.5M72.2 153.3h.5M78.2 169.1h.5M61.2 129.5h.5M80.0 136.5h.5M65.2 141.4h.5M83.9 150.6h.5M93.8 149.2h.5M94.2 138.6h.5M76.1 172.9h.5M78.9 122.4h.5M62.4 152.1h.5M68.5 134.1h.5M55.4 137.8h.5M63.9 142.9h.5M66.0 152.7h.5M51.9 131.6h.5M70.4 142.5h.5M86.4 163.8h.5M41.4 145.9h.5M92.7 158.5h.5M74.6 134.1h.5M68.0 152.4h.5M82.8 146.1h.5M73.2 149.3h.5M64.0 166.9h.5M72.9 134.8h.5M76.1 138.3h.5M58.2 124.7h.5M86.4 134.8h.5" stroke="#333" stroke-width="0.55" fill="none" opacity="0.5"/>
<path d="M57.9 165.6h.5M59.2 173.4h.5M59.7 174.3h.5M58.0 184.3h.5M55.7 180.7h.5M57.1 170.2h.5M60.8 190.1h.5M61.1 178.8h.5M62.6 164.8h.5M60.9 192.9h.5M64.3 184.6h.5M57.9 161.7h.5M52.2 178.2h.5M54.7 183.3h.5M55.7 172.2h.5M57.5 175.3h.5M63.7 180.8h.5M52.6 184.6h.5M61.8 169.2h.5M56.1 177.5h.5M59.5 168.9h.5M58.1 169.4h.5M55.3 185.1h.5M61.0 171.7h.5M58.4 172.8h.5M59.4 171.3h.5M62.9 173.6h.5M61.6 182.1h.5M60.1 178.1h.5M56.8 183.6h.5M52.0 170.0h.5M63.1 190.3h.5M60.2 162.4h.5M54.2 169.2h.5M64.4 161.1h.5M53.6 188.3h.5M59.4 167.2h.5M54.0 185.4h.5M54.5 168.1h.5M56.6 173.1h.5M61.0 167.6h.5M60.1 175.3h.5M62.9 174.0h.5M54.0 183.4h.5M61.9 177.1h.5M57.3 176.1h.5M53.0 178.9h.5M57.3 172.6h.5M57.0 181.6h.5M54.8 177.9h.5M58.4 180.3h.5M56.1 170.3h.5M62.4 181.6h.5M52.9 177.3h.5M57.9 177.3h.5M61.4 179.7h.5M57.9 165.7h.5M59.8 185.2h.5M55.3 184.0h.5M58.3 172.0h.5M59.1 171.4h.5M61.7 177.3h.5M63.4 171.5h.5M57.9 180.0h.5M58.5 185.4h.5M53.7 178.1h.5M56.7 173.0h.5M56.4 177.5h.5M59.3 182.9h.5M59.3 185.2h.5M57.0 171.0h.5M60.0 178.5h.5M55.7 171.9h.5M56.3 180.5h.5M59.2 187.1h.5M61.7 186.6h.5M58.4 178.9h.5M58.3 161.1h.5M60.6 171.1h.5M55.9 173.4h.5M59.0 185.5h.5M57.1 192.8h.5M62.2 183.9h.5M61.6 184.2h.5M53.7 185.1h.5M59.6 176.2h.5M51.8 183.0h.5M55.2 181.1h.5M61.1 181.3h.5M59.2 177.9h.5M63.9 176.7h.5M62.6 170.5h.5M53.7 173.7h.5M61.0 192.0h.5M56.7 164.5h.5M60.6 174.5h.5M62.2 179.7h.5M57.5 163.6h.5M57.9 179.3h.5M60.9 178.2h.5M54.0 160.8h.5M58.3 161.7h.5M60.4 187.0h.5M64.3 180.2h.5M55.4 178.8h.5M58.7 174.7h.5M59.4 171.2h.5M55.9 178.6h.5M57.3 180.6h.5M59.2 184.7h.5M62.0 172.2h.5M55.6 161.7h.5M53.8 179.3h.5M59.5 185.0h.5M58.0 192.7h.5M51.7 169.5h.5M59.5 183.4h.5M59.3 184.0h.5M62.2 175.9h.5M60.7 182.7h.5M53.3 178.4h.5M58.4 168.3h.5M62.1 178.9h.5M58.4 187.8h.5M58.4 176.6h.5M57.0 188.7h.5M63.2 187.2h.5M64.6 167.6h.5M64.2 186.5h.5M60.8 191.5h.5M57.2 192.8h.5M55.9 183.3h.5M62.1 168.6h.5M57.2 181.3h.5M55.1 189.2h.5M52.0 180.6h.5M60.7 185.8h.5M59.9 189.4h.5M54.8 183.6h.5M61.7 183.5h.5M61.3 181.9h.5M56.8 187.6h.5M61.8 174.6h.5M52.5 170.9h.5M54.7 176.5h.5M52.7 185.5h.5M60.4 176.4h.5M60.1 173.1h.5M55.3 156.7h.5M60.4 159.0h.5M57.5 173.6h.5M59.7 180.1h.5M59.6 176.4h.5M61.4 175.8h.5M58.7 174.3h.5M63.7 178.1h.5M60.7 177.5h.5M51.4 187.1h.5M55.1 191.6h.5M59.4 183.7h.5M62.9 175.3h.5M53.9 180.8h.5M58.6 185.0h.5M57.2 188.8h.5M55.8 176.3h.5M57.3 167.7h.5M55.2 186.1h.5M57.8 183.5h.5M57.0 183.9h.5M58.0 162.9h.5M58.8 171.8h.5M61.3 173.5h.5M62.6 170.8h.5M54.9 183.8h.5M57.5 185.9h.5M56.5 171.9h.5M52.6 179.3h.5M63.4 169.8h.5M59.8 188.5h.5M56.5 177.1h.5M62.5 179.4h.5M58.3 174.3h.5M58.8 180.5h.5M54.3 167.9h.5M58.2 183.8h.5M58.0 191.2h.5M59.6 191.3h.5M58.7 190.0h.5M51.9 184.9h.5M55.6 185.5h.5M64.5 177.4h.5M56.1 171.3h.5M57.1 168.2h.5M52.7 169.4h.5M54.4 186.0h.5M59.0 189.1h.5M52.4 182.9h.5M61.7 186.9h.5M56.0 181.5h.5M58.4 169.8h.5M51.9 179.3h.5M54.7 167.4h.5M51.4 175.0h.5M61.5 166.3h.5M54.0 174.5h.5M61.6 176.2h.5M54.7 183.2h.5M63.6 176.1h.5M52.7 174.7h.5M55.4 185.5h.5M59.5 182.9h.5M59.7 180.5h.5M62.9 181.8h.5M58.4 172.6h.5M56.9 179.7h.5M59.7 191.9h.5M58.3 175.0h.5M63.2 169.2h.5M57.2 179.0h.5M59.3 184.9h.5M57.7 190.2h.5M60.2 180.7h.5M62.8 178.2h.5M56.6 166.0h.5M63.4 182.7h.5M53.3 179.0h.5M58.2 169.2h.5M62.5 169.8h.5M62.2 175.0h.5M60.2 168.9h.5M59.0 178.7h.5M54.1 189.8h.5M62.3 188.4h.5M60.2 179.6h.5M54.7 188.9h.5M59.1 175.0h.5M58.4 168.4h.5M56.9 181.1h.5M57.4 190.3h.5M60.6 168.4h.5M58.3 171.7h.5M52.5 174.9h.5M61.2 173.4h.5M58.7 165.9h.5M59.3 186.0h.5M57.4 189.5h.5M58.8 172.3h.5M51.9 183.4h.5M58.1 179.7h.5M59.1 191.3h.5M55.8 176.3h.5M53.1 174.4h.5M57.9 174.6h.5M61.0 186.3h.5M65.0 171.3h.5M60.8 174.0h.5M54.3 188.7h.5M60.0 182.9h.5M51.5 187.4h.5M52.6 176.6h.5M52.6 176.5h.5M61.3 181.7h.5M57.9 187.9h.5M62.8 189.6h.5M53.5 192.1h.5M56.9 181.1h.5M53.4 186.4h.5M56.7 163.2h.5M56.1 176.5h.5M59.8 168.3h.5M57.4 177.6h.5M54.8 156.3h.5M52.8 177.1h.5M57.0 177.9h.5M56.3 183.6h.5M61.8 170.7h.5M58.0 180.7h.5M58.9 180.1h.5M59.8 172.5h.5M58.0 189.2h.5M59.8 182.1h.5M59.3 180.2h.5M61.6 167.0h.5M58.3 161.2h.5M55.8 180.1h.5M52.1 163.9h.5M58.8 171.1h.5M63.5 190.2h.5M61.0 190.3h.5M64.1 178.4h.5M61.4 158.9h.5M59.5 180.1h.5M57.9 186.2h.5M64.0 168.1h.5M55.4 176.8h.5M57.0 180.7h.5M53.6 173.4h.5M59.4 183.0h.5M59.5 182.2h.5M59.1 171.6h.5M59.0 176.0h.5M56.2 187.1h.5M59.8 169.3h.5M62.1 169.8h.5M62.1 181.8h.5M55.0 175.1h.5M55.7 172.5h.5M59.5 172.6h.5M56.7 189.2h.5M60.0 177.4h.5M60.0 186.7h.5M60.6 190.6h.5M55.8 185.6h.5M54.9 184.0h.5M52.8 181.8h.5M59.9 160.3h.5M64.1 186.9h.5M59.3 182.8h.5M57.8 184.1h.5M60.3 187.0h.5M53.8 178.7h.5M59.5 168.2h.5M60.7 187.1h.5M55.0 176.2h.5M59.3 172.5h.5M56.1 174.2h.5M54.5 163.9h.5M58.0 173.7h.5M57.6 175.9h.5M59.8 174.2h.5M58.0 171.9h.5M57.4 180.7h.5M62.2 173.2h.5M54.9 177.6h.5M57.6 178.6h.5M58.0 173.8h.5M58.3 176.0h.5M58.4 181.0h.5M56.3 176.6h.5M59.9 164.7h.5M55.9 185.2h.5M54.5 182.0h.5M61.5 174.9h.5M55.4 185.4h.5M59.0 189.2h.5M56.1 160.8h.5M55.7 182.5h.5M61.6 185.4h.5M55.0 185.7h.5M61.9 191.0h.5M55.0 176.4h.5M52.3 190.6h.5M54.5 181.1h.5M57.0 172.9h.5M62.8 162.5h.5M56.8 180.7h.5M59.2 170.2h.5M58.4 187.1h.5M56.7 169.7h.5M57.5 181.9h.5M54.0 178.1h.5M61.6 192.0h.5M54.6 163.4h.5M59.4 181.3h.5M54.1 174.2h.5M57.3 173.1h.5M58.7 185.6h.5M57.5 180.1h.5M51.4 173.9h.5M64.2 167.2h.5M61.9 185.0h.5M57.3 172.1h.5M57.7 191.5h.5M53.0 174.9h.5M61.1 174.2h.5M51.9 178.1h.5M61.5 186.8h.5M59.2 176.1h.5M56.6 186.8h.5M57.1 179.9h.5M60.9 181.9h.5M54.9 189.0h.5M56.7 174.6h.5M55.2 182.6h.5M60.2 176.9h.5M54.1 174.7h.5M62.6 185.6h.5M62.1 182.3h.5M58.1 175.7h.5M54.2 189.2h.5M62.4 171.9h.5M58.2 158.4h.5M62.9 177.5h.5M56.1 169.8h.5M59.8 171.5h.5M55.9 171.2h.5M56.1 175.9h.5M60.2 170.6h.5M65.2 180.5h.5M61.2 169.0h.5M60.1 173.1h.5M61.5 179.7h.5M61.9 172.5h.5M54.5 185.2h.5M62.3 183.0h.5M56.6 174.8h.5M53.0 186.9h.5M54.6 179.7h.5M58.1 161.9h.5M62.9 180.1h.5M57.4 187.3h.5M58.9 176.9h.5M56.2 192.2h.5M60.5 186.8h.5M55.7 176.4h.5M60.9 191.7h.5M52.0 181.9h.5M59.1 181.0h.5M59.0 169.4h.5M57.6 186.1h.5M53.2 174.8h.5M56.7 166.4h.5M61.6 176.0h.5M52.9 180.4h.5M55.5 190.8h.5M55.2 177.1h.5M63.4 165.8h.5M59.0 192.6h.5M58.2 187.4h.5M60.2 169.4h.5M53.1 176.8h.5M60.7 186.0h.5M54.3 169.3h.5M61.6 187.4h.5M51.9 190.2h.5M59.1 180.8h.5M59.8 180.2h.5M54.2 182.9h.5M60.8 180.4h.5M57.6 173.2h.5M54.5 177.0h.5M58.0 177.3h.5M55.8 181.7h.5M64.8 179.4h.5M57.0 171.8h.5M61.7 170.8h.5M59.0 175.2h.5M62.1 185.4h.5M60.1 183.5h.5M60.3 168.8h.5M57.4 184.8h.5M53.6 179.7h.5M55.1 179.5h.5M56.5 178.0h.5M59.2 177.7h.5M59.6 185.5h.5M57.4 183.5h.5M58.8 181.0h.5M59.7 190.1h.5M64.5 190.0h.5M59.3 179.3h.5M58.2 176.8h.5M59.5 183.3h.5M56.1 186.8h.5M60.7 180.6h.5M54.7 182.7h.5M55.3 181.6h.5M60.9 186.5h.5M64.3 179.1h.5M65.3 173.8h.5M59.4 177.0h.5M58.1 170.7h.5M53.4 177.3h.5M55.6 188.1h.5M63.9 157.9h.5M54.1 164.3h.5M53.1 175.3h.5M62.8 185.2h.5M57.4 177.2h.5M53.6 177.0h.5M57.5 167.7h.5M60.9 178.8h.5M54.1 178.3h.5M57.5 185.9h.5M57.1 164.9h.5M57.8 174.4h.5M55.8 185.4h.5M64.6 192.3h.5M59.1 187.8h.5M59.9 181.4h.5M59.3 169.0h.5M61.7 170.8h.5M55.8 181.3h.5M58.1 183.3h.5M55.3 179.0h.5M60.0 181.4h.5M54.0 169.7h.5M56.0 163.3h.5M59.3 177.1h.5M62.8 178.5h.5M53.8 178.0h.5M54.3 176.2h.5M59.8 174.0h.5M58.3 179.2h.5M55.1 181.1h.5M57.1 180.1h.5M56.0 179.8h.5M57.3 184.3h.5M55.2 182.7h.5M58.5 177.0h.5M63.9 181.8h.5M58.6 172.6h.5M62.2 166.4h.5M56.8 168.2h.5M64.4 192.3h.5M59.1 175.0h.5M57.7 167.1h.5M63.3 182.4h.5M54.7 178.1h.5M59.7 191.6h.5M57.1 175.5h.5M55.5 183.5h.5M56.5 169.5h.5M53.1 176.2h.5M58.6 161.7h.5M64.8 178.9h.5M63.1 178.4h.5M57.9 174.1h.5M58.1 184.4h.5M57.6 182.9h.5M59.1 170.7h.5M53.4 185.2h.5M53.6 165.4h.5M60.5 178.4h.5M54.3 171.7h.5M55.2 168.9h.5M57.4 184.5h.5M55.6 172.2h.5M54.6 186.1h.5M59.7 174.8h.5M57.5 176.1h.5M57.9 185.9h.5M57.4 180.7h.5M58.9 172.7h.5M54.3 186.5h.5M56.1 180.9h.5M52.2 179.7h.5M60.6 185.8h.5M51.3 173.7h.5M62.9 176.0h.5M63.4 169.6h.5M57.6 182.6h.5M55.5 173.6h.5M54.0 181.1h.5M57.5 171.7h.5M58.3 183.5h.5M52.0 166.9h.5M62.2 177.8h.5M55.3 160.0h.5M56.9 168.3h.5M62.3 172.1h.5M63.5 182.5h.5M66.8 177.7h.5M57.8 180.4h.5M58.2 173.7h.5M57.4 168.8h.5M61.3 176.9h.5M58.4 173.0h.5M62.7 162.3h.5M54.8 168.1h.5M61.8 188.5h.5M60.6 158.9h.5M56.7 186.8h.5M60.6 174.9h.5M66.6 167.7h.5M57.1 181.3h.5M58.5 185.9h.5M59.8 178.3h.5M63.1 171.5h.5M52.8 176.4h.5M56.1 184.7h.5M54.1 163.3h.5M56.2 177.2h.5M54.8 179.8h.5M60.8 189.5h.5M66.2 176.3h.5M52.6 175.9h.5M57.5 162.7h.5M61.1 175.0h.5M54.9 170.0h.5M58.4 181.0h.5M58.1 179.1h.5M60.7 175.7h.5M54.6 187.7h.5M55.8 177.3h.5M53.1 158.9h.5M53.6 171.5h.5M63.7 177.9h.5M61.2 187.0h.5M61.8 186.8h.5M61.0 169.5h.5M58.5 167.9h.5M55.2 180.3h.5M58.4 173.3h.5M63.9 175.7h.5M60.6 160.7h.5M61.0 171.8h.5M64.9 179.8h.5M57.5 170.7h.5M58.5 182.0h.5M57.3 167.7h.5M56.8 180.1h.5M66.8 168.3h.5M56.8 175.7h.5M59.1 166.3h.5M51.2 181.2h.5M61.3 170.6h.5M58.3 179.3h.5M51.9 181.4h.5M53.8 166.3h.5M63.7 171.8h.5M54.4 164.3h.5M54.0 165.7h.5M67.0 188.3h.5M61.5 189.0h.5M63.4 177.2h.5M66.7 172.5h.5M56.5 167.9h.5M63.1 177.9h.5M65.2 158.9h.5M60.4 174.7h.5M58.1 180.5h.5M58.9 175.5h.5M57.8 165.2h.5M54.0 186.4h.5M57.7 180.6h.5M59.8 177.4h.5M57.7 173.6h.5M59.6 185.8h.5M54.8 166.2h.5M55.2 187.3h.5M65.6 167.5h.5M55.2 161.3h.5M59.0 183.7h.5M55.5 168.5h.5M63.5 167.2h.5M53.9 170.5h.5M54.3 187.6h.5M53.9 170.4h.5M61.5 164.5h.5M55.0 175.5h.5M67.0 183.0h.5M60.5 182.3h.5M51.6 184.2h.5M54.5 166.5h.5M62.6 152.8h.5M54.8 179.5h.5M61.1 180.8h.5M54.6 176.7h.5M63.0 181.7h.5M66.5 180.9h.5M63.3 166.3h.5M56.5 174.4h.5M64.6 187.5h.5M63.9 176.8h.5M62.8 163.4h.5M60.8 181.4h.5M59.3 186.0h.5M62.2 156.4h.5M66.3 177.9h.5M60.4 180.7h.5M58.9 179.3h.5M59.7 189.7h.5M54.4 167.1h.5M65.3 178.2h.5M55.8 150.5h.5M59.7 182.9h.5M55.5 170.3h.5M51.3 168.2h.5M51.5 158.6h.5M57.6 166.1h.5M56.9 158.1h.5M60.9 171.1h.5M61.6 189.9h.5M61.5 166.3h.5M66.7 167.8h.5M59.8 176.7h.5M59.7 182.0h.5M61.4 175.3h.5M62.4 177.5h.5M53.9 179.0h.5M60.1 183.6h.5M60.5 192.1h.5M58.2 177.4h.5M56.1 172.6h.5M63.5 175.0h.5M62.3 181.7h.5M58.8 168.4h.5M58.6 179.2h.5M53.8 172.8h.5M66.8 180.0h.5M62.6 170.8h.5M52.3 167.4h.5M64.2 165.5h.5M57.5 161.7h.5M57.3 170.2h.5M63.9 189.8h.5M56.4 167.4h.5M59.9 165.9h.5M57.1 172.2h.5M63.0 180.0h.5M58.8 167.1h.5M61.5 165.3h.5M52.4 165.7h.5M57.6 168.6h.5M62.3 161.2h.5M60.3 170.0h.5M63.6 168.5h.5M55.5 160.6h.5M53.6 160.3h.5M59.1 165.1h.5M61.3 188.7h.5M54.5 174.1h.5M62.4 178.7h.5M53.4 166.9h.5M56.2 180.7h.5M62.3 189.2h.5M65.2 158.2h.5M59.6 177.9h.5M65.2 185.3h.5M61.9 155.4h.5M61.6 164.7h.5M56.4 165.9h.5M58.2 166.5h.5M58.7 184.7h.5M56.5 175.3h.5M62.5 162.0h.5M54.3 167.7h.5M60.5 177.0h.5M58.5 155.8h.5M56.0 191.2h.5M61.6 166.2h.5M55.5 162.5h.5M61.3 177.2h.5M56.1 180.3h.5M57.9 177.8h.5M62.7 166.6h.5M56.0 178.8h.5M60.2 182.6h.5M53.5 173.0h.5M61.0 171.2h.5M57.1 153.3h.5M59.6 187.9h.5M52.4 174.6h.5M59.7 164.0h.5M60.4 174.3h.5M54.7 181.8h.5M62.4 186.3h.5M58.6 189.4h.5M53.5 165.0h.5M64.1 151.4h.5M55.5 181.8h.5M56.9 184.3h.5M57.1 161.5h.5M64.6 177.6h.5M62.2 181.1h.5M63.2 180.6h.5M67.0 163.8h.5M54.6 179.1h.5M61.3 186.6h.5M61.7 185.9h.5M63.6 154.1h.5M59.9 163.1h.5M59.2 171.0h.5M54.6 174.4h.5M65.4 163.2h.5M53.6 179.8h.5M61.2 167.2h.5M58.6 188.3h.5M55.9 169.2h.5M63.0 181.1h.5M60.6 160.5h.5M54.7 186.7h.5M58.4 163.9h.5M58.2 172.4h.5M52.9 172.9h.5M55.7 174.7h.5M56.1 191.7h.5M58.6 180.5h.5M61.7 175.9h.5M64.6 172.0h.5M57.9 166.2h.5M63.5 160.2h.5M62.6 172.8h.5M61.2 175.1h.5M57.1 188.0h.5M55.2 164.0h.5M63.2 158.9h.5M62.7 187.2h.5M62.7 172.7h.5M65.3 151.9h.5M66.3 173.2h.5M54.5 182.3h.5M60.5 178.3h.5M52.5 168.1h.5M56.1 172.2h.5M55.7 181.1h.5M63.4 189.9h.5M65.9 165.6h.5M59.7 168.1h.5M60.2 176.5h.5M63.3 183.4h.5M58.9 162.9h.5M57.9 178.8h.5M55.5 160.0h.5M58.0 177.8h.5M66.7 154.6h.5M65.1 160.2h.5M58.7 182.9h.5M58.4 165.1h.5M60.9 170.1h.5M64.0 175.5h.5M63.0 189.7h.5M60.7 158.9h.5M59.6 178.5h.5M56.4 167.0h.5M53.8 179.2h.5M66.8 169.3h.5M54.7 171.2h.5M60.1 176.4h.5M58.0 187.7h.5M57.6 182.4h.5M56.2 183.6h.5M59.7 164.3h.5M63.6 185.7h.5M52.5 171.9h.5M59.3 165.4h.5M60.6 182.6h.5M60.3 173.6h.5M65.7 171.6h.5M66.5 168.6h.5M54.1 170.7h.5M54.0 163.1h.5M58.2 189.0h.5M55.7 177.1h.5M54.6 178.4h.5M59.8 176.1h.5M60.9 185.0h.5M51.1 166.2h.5M59.2 157.9h.5M58.5 181.9h.5M62.9 156.9h.5M62.9 180.9h.5M60.1 168.5h.5M56.1 177.6h.5M64.8 169.9h.5M60.3 177.3h.5M60.0 175.8h.5M59.6 169.7h.5M55.4 173.0h.5M56.0 174.1h.5M52.2 176.0h.5M57.0 169.7h.5M57.2 189.7h.5M55.5 164.2h.5M55.2 180.0h.5M54.6 171.5h.5M55.4 168.2h.5M60.4 188.2h.5M66.2 187.6h.5M57.7 168.0h.5M53.0 178.2h.5M55.4 166.6h.5M66.0 163.4h.5M61.3 181.7h.5M59.7 181.3h.5M63.7 165.6h.5M56.9 166.5h.5M61.9 189.8h.5M53.4 190.0h.5M55.3 157.5h.5M61.3 186.4h.5M58.7 163.9h.5M56.5 161.6h.5M67.4 187.8h.5M61.4 165.0h.5M62.1 159.3h.5M53.0 167.0h.5M62.0 173.7h.5M53.7 172.1h.5M53.4 175.4h.5M53.2 180.5h.5M66.3 169.7h.5M59.7 174.3h.5M58.8 175.1h.5M58.8 184.3h.5M61.5 180.7h.5M59.3 181.5h.5M55.2 170.1h.5M59.8 164.2h.5M56.3 167.3h.5M64.0 173.3h.5M56.7 169.5h.5M63.0 186.5h.5M59.9 154.9h.5M59.4 178.1h.5M60.4 172.9h.5M64.9 182.8h.5M53.2 179.1h.5M64.1 176.7h.5M61.8 173.2h.5M59.2 161.2h.5M58.1 160.8h.5M65.8 169.5h.5M60.7 170.4h.5M59.0 176.4h.5M63.6 166.6h.5M59.1 175.2h.5M62.7 164.4h.5M56.8 158.0h.5M57.5 167.6h.5M58.4 176.7h.5M61.1 178.6h.5M62.1 186.1h.5M62.5 168.8h.5M61.6 160.4h.5M61.6 174.4h.5M56.8 187.5h.5M63.3 188.2h.5M62.5 183.8h.5M51.8 164.0h.5M59.7 172.4h.5M57.7 153.7h.5M56.3 169.2h.5M62.2 159.8h.5M59.0 168.4h.5M45.1 139.1h.5M44.0 141.2h.5M41.0 147.0h.5M44.6 144.1h.5M40.9 145.5h.5M42.6 142.7h.5M43.5 142.6h.5M41.1 144.1h.5M45.6 137.0h.5M47.3 144.6h.5M46.1 141.0h.5M42.5 141.9h.5M40.8 149.1h.5M45.0 136.7h.5M42.6 145.9h.5M48.0 143.4h.5M41.6 136.3h.5M42.3 140.2h.5M45.3 149.2h.5M48.7 143.9h.5M43.4 140.0h.5M46.9 138.1h.5M41.4 142.6h.5M42.0 142.6h.5M42.4 145.5h.5M47.4 144.6h.5M41.8 144.5h.5M44.1 138.8h.5M44.0 140.8h.5M42.5 135.3h.5M43.4 139.2h.5M45.1 140.3h.5M43.2 142.9h.5M47.8 139.3h.5M41.2 143.2h.5M43.3 139.5h.5M44.6 140.6h.5M42.7 144.2h.5M40.6 134.1h.5M44.2 140.1h.5M45.2 148.1h.5M44.7 140.6h.5M44.5 141.3h.5M44.1 137.8h.5M46.1 148.4h.5M46.3 141.4h.5M42.1 138.5h.5M46.0 145.5h.5M41.9 142.6h.5M44.3 143.1h.5M41.9 145.5h.5M44.9 141.5h.5M46.0 136.1h.5M43.0 142.6h.5M45.7 143.2h.5M48.8 140.1h.5M45.9 142.3h.5M45.1 147.9h.5M39.9 142.5h.5M43.5 139.7h.5M49.1 133.6h.5M42.7 143.3h.5M44.5 140.4h.5M45.5 147.2h.5M44.6 139.6h.5M43.2 140.2h.5M42.6 144.9h.5M41.7 146.2h.5M45.2 138.6h.5M43.0 144.6h.5M42.1 143.7h.5M43.3 141.8h.5M41.1 142.7h.5M47.8 141.0h.5M45.7 142.2h.5M44.1 137.4h.5M47.8 143.3h.5M41.8 141.4h.5M41.1 142.6h.5M47.0 136.7h.5M45.0 144.2h.5M42.8 151.0h.5M42.4 145.5h.5M43.8 144.3h.5M43.9 139.8h.5M40.3 141.9h.5M43.5 143.4h.5M40.4 143.3h.5M41.8 139.2h.5M47.5 142.7h.5M45.0 141.5h.5M46.2 141.6h.5M41.0 144.5h.5M46.4 143.8h.5M44.4 139.1h.5M43.2 139.3h.5M41.0 139.1h.5M44.6 144.0h.5M41.5 149.5h.5M43.1 139.9h.5M44.9 139.7h.5M47.1 139.1h.5M44.5 143.7h.5M44.6 139.2h.5M45.6 139.5h.5M43.7 142.9h.5M44.8 140.2h.5M45.0 139.7h.5M45.3 144.9h.5M45.4 145.7h.5M43.0 143.5h.5M44.1 142.2h.5M44.4 136.6h.5M41.6 143.0h.5M39.7 143.9h.5M45.5 135.4h.5M42.2 148.7h.5M44.3 140.7h.5M42.9 142.2h.5M46.0 139.3h.5M48.9 143.6h.5M44.1 143.8h.5M45.8 144.7h.5M41.0 139.5h.5M41.2 139.8h.5M39.2 140.5h.5M42.2 139.7h.5M41.3 142.0h.5M42.8 140.8h.5M44.6 139.6h.5M48.2 145.0h.5M45.7 139.7h.5M49.6 151.2h.5M44.0 147.2h.5M44.6 148.4h.5M49.4 154.8h.5M45.9 155.7h.5M46.1 150.5h.5M47.1 151.2h.5M44.6 150.6h.5M45.2 154.1h.5M48.9 145.5h.5M47.3 151.3h.5M44.2 160.5h.5M47.0 155.9h.5M46.7 157.7h.5M47.7 156.6h.5M48.8 146.2h.5M45.7 158.3h.5M45.3 148.9h.5M47.8 148.2h.5M47.7 150.7h.5M49.0 149.3h.5M46.5 145.9h.5M46.1 157.8h.5M45.5 158.1h.5M44.3 152.5h.5M45.1 148.4h.5M49.4 154.2h.5M45.8 155.8h.5M42.9 151.1h.5M48.2 146.6h.5M49.3 156.5h.5M46.8 151.5h.5M46.8 144.4h.5M47.7 155.9h.5M46.6 142.9h.5M45.1 164.2h.5M44.8 147.0h.5M44.0 154.3h.5M44.1 154.3h.5M46.5 157.6h.5M43.2 159.7h.5M46.5 155.9h.5M46.6 157.0h.5M44.6 161.5h.5M46.1 152.9h.5M44.7 150.9h.5M43.3 150.1h.5M48.8 153.3h.5M46.9 143.5h.5M46.0 151.9h.5M49.6 151.7h.5M45.8 145.6h.5M47.2 147.5h.5M46.4 149.7h.5M45.4 154.0h.5M46.9 149.7h.5M45.2 151.8h.5M45.7 149.7h.5M44.0 144.8h.5M46.8 151.6h.5M45.7 153.4h.5M44.2 149.7h.5M45.9 160.4h.5M42.7 154.5h.5M42.7 150.1h.5M45.4 158.1h.5M46.1 157.4h.5M46.4 152.4h.5M45.4 153.3h.5M46.0 155.8h.5M46.4 151.7h.5M47.9 148.3h.5M44.6 155.2h.5M46.2 149.5h.5M50.2 161.5h.5M52.7 164.4h.5M49.2 163.7h.5M48.5 166.6h.5M47.3 163.2h.5M47.5 166.9h.5M47.6 155.9h.5M47.8 161.6h.5M51.0 153.2h.5M45.9 168.1h.5M47.8 158.3h.5M46.6 161.2h.5M51.0 155.6h.5M47.5 163.4h.5M49.0 161.5h.5M48.2 153.2h.5M46.5 168.3h.5M45.6 162.6h.5M52.7 161.2h.5M48.7 159.5h.5M52.0 164.8h.5M51.3 158.7h.5M47.1 159.1h.5M52.1 166.9h.5M49.7 156.9h.5M46.5 165.3h.5M51.5 156.2h.5M46.1 172.1h.5M47.3 163.3h.5M48.6 162.7h.5M49.7 164.7h.5M50.2 161.1h.5M52.5 157.1h.5M45.9 155.7h.5M47.8 158.6h.5M51.3 162.7h.5M49.7 163.0h.5M51.1 167.1h.5M47.9 160.2h.5M47.8 163.0h.5M50.5 159.0h.5M49.4 166.1h.5M47.0 164.6h.5M48.4 165.4h.5M49.0 155.8h.5M48.7 168.0h.5M50.1 166.6h.5M49.3 164.0h.5M50.8 155.3h.5M49.8 162.4h.5M47.0 160.4h.5M47.5 163.4h.5M49.7 172.5h.5M49.6 163.0h.5M52.3 154.4h.5M50.1 160.8h.5M49.9 162.8h.5M49.2 163.8h.5M48.8 156.7h.5M49.2 163.0h.5M49.5 154.6h.5M48.9 160.9h.5M51.2 155.9h.5M48.0 157.8h.5M45.9 163.7h.5M48.2 160.9h.5M48.7 173.4h.5M47.4 161.4h.5M49.1 171.0h.5M48.7 158.5h.5M47.4 159.3h.5M49.1 155.0h.5M50.1 162.0h.5M47.5 163.6h.5" stroke="#111" stroke-width="0.6" fill="none" opacity="0.72"/>
</g></g>
<polyline points="46.5,193.0 46.5,172.6 56.2,160.9 75.8,156.1 86.3,159.1 91.4,165.6 90.6,193.0" fill="none" stroke="#4a4a4a" stroke-width="0.65"/>
<text x="104.0" y="130.2" font-size="9.0" font-weight="normal" text-anchor="end" fill="#111" stroke="#111" stroke-width="0.12" >81%</text>
<rect x="19.3" y="118.9" width="2.6" height="1.4" fill="#8a8a8a"/>
<rect x="23.5" y="116.3" width="1.2" height="1.3" fill="#6a6a6a"/>
<rect x="19.3" y="137.0" width="2.6" height="1.4" fill="#8a8a8a"/>
<rect x="23.5" y="134.4" width="1.2" height="1.3" fill="#6a6a6a"/>
<rect x="19.3" y="155.1" width="2.6" height="1.4" fill="#8a8a8a"/>
<rect x="23.5" y="152.5" width="1.2" height="1.3" fill="#6a6a6a"/>
<rect x="19.3" y="173.2" width="2.6" height="1.4" fill="#8a8a8a"/>
<rect x="23.5" y="170.6" width="1.2" height="1.3" fill="#6a6a6a"/>
<rect x="19.3" y="191.3" width="2.6" height="1.4" fill="#8a8a8a"/>
<rect x="23.5" y="188.7" width="1.2" height="1.3" fill="#6a6a6a"/>
<rect x="28.6" y="197.9" width="0.9" height="1.4" fill="#8a8a8a"/>
<rect x="42.7" y="197.9" width="2.7" height="1.4" fill="#8a8a8a"/>
<rect x="57.6" y="197.9" width="2.7" height="1.4" fill="#8a8a8a"/>
<rect x="72.6" y="197.9" width="2.7" height="1.4" fill="#8a8a8a"/>
<rect x="87.5" y="197.9" width="2.7" height="1.4" fill="#8a8a8a"/>
<rect x="102.0" y="197.9" width="3.6" height="1.4" fill="#8a8a8a"/>
<clipPath id="cpbr"><rect x="128.70000000000002" y="120.7" width="75.4" height="72.3"/></clipPath>
<rect x="128.3" y="120.3" width="76.2" height="73.1" fill="#fff" stroke="#959595" stroke-width="0.75"/>
<line x1="128.3" y1="120.3" x2="128.3" y2="193.4" stroke="#5a5a5a" stroke-width="0.8"/>
<line x1="128.3" y1="193.4" x2="204.5" y2="193.4" stroke="#808080" stroke-width="0.8"/>
<g clip-path="url(#cpbr)">
<g filter="url(#sb)">
<ellipse cx="158.0" cy="181.0" rx="5.3" ry="15.4" fill="#333" opacity="0.25"/>
</g>
<g filter="url(#sd)">
<path d="M164.2 164.1h.5M165.0 180.6h.5M174.4 178.3h.5M167.6 177.6h.5M164.4 160.5h.5M181.5 178.6h.5M179.0 170.0h.5M165.9 169.8h.5M158.1 180.9h.5M161.8 172.4h.5M164.1 175.8h.5M166.0 160.1h.5M171.2 179.6h.5M168.4 180.5h.5M168.4 165.8h.5M153.4 165.3h.5M160.7 173.0h.5M173.8 172.5h.5M179.3 168.4h.5M176.1 176.7h.5M172.7 182.2h.5M156.6 171.1h.5M164.0 169.6h.5M167.0 174.6h.5M154.2 172.1h.5M178.7 170.3h.5M167.3 167.6h.5M173.1 177.7h.5M162.8 179.5h.5M162.6 180.8h.5M169.7 171.6h.5M172.2 176.6h.5M162.3 179.8h.5M172.5 176.6h.5M172.5 191.2h.5M175.4 177.8h.5M159.0 179.7h.5M169.8 171.8h.5M181.9 163.6h.5M164.9 177.6h.5M166.2 163.9h.5M165.4 190.0h.5M171.5 168.1h.5M174.8 174.0h.5M176.3 167.6h.5M161.0 167.3h.5M166.4 167.6h.5M167.8 192.4h.5M164.0 172.8h.5M160.5 186.3h.5M177.6 174.9h.5M169.1 184.6h.5M178.1 172.2h.5M175.8 168.8h.5M163.3 170.2h.5M163.0 186.6h.5M162.4 153.9h.5M161.7 172.0h.5M163.8 184.3h.5M163.2 172.6h.5M167.1 156.5h.5M161.9 185.5h.5M171.3 184.7h.5M169.3 168.6h.5M149.2 177.3h.5M159.4 174.1h.5M169.1 180.2h.5M166.0 165.1h.5M171.5 166.6h.5M164.4 174.7h.5M164.5 166.5h.5M160.5 176.7h.5M159.2 186.9h.5M164.8 166.1h.5M176.5 175.8h.5M179.7 171.8h.5M166.3 173.5h.5M167.5 173.2h.5M176.0 182.7h.5M163.4 177.9h.5M175.1 170.8h.5M156.7 174.9h.5M161.1 181.8h.5M182.5 171.9h.5M165.1 164.0h.5M164.4 164.8h.5M164.0 167.0h.5M155.5 177.4h.5M165.7 170.8h.5M161.1 170.5h.5M171.3 171.8h.5M167.3 168.4h.5M167.3 168.6h.5M160.8 162.9h.5M168.5 183.6h.5M163.2 173.5h.5M175.7 174.5h.5M157.1 181.6h.5M167.5 178.1h.5M169.3 161.4h.5M168.1 174.4h.5M168.4 180.5h.5M170.0 172.3h.5M168.2 169.1h.5M176.8 153.2h.5M179.6 171.3h.5M154.6 180.3h.5M172.4 181.3h.5M173.5 176.5h.5M151.3 165.2h.5M163.4 174.8h.5M160.6 166.1h.5M172.1 175.8h.5M176.5 180.0h.5M173.0 172.3h.5M161.0 172.0h.5M156.2 185.6h.5M156.6 184.3h.5M171.7 183.7h.5M180.6 182.4h.5M162.9 160.4h.5M170.1 178.6h.5M157.2 175.8h.5M177.9 174.6h.5M175.6 158.6h.5M178.9 173.2h.5M178.5 173.4h.5M170.0 173.7h.5M171.7 180.1h.5M184.5 170.8h.5M161.5 172.6h.5M170.9 178.9h.5M169.7 184.0h.5M164.2 168.4h.5M168.8 177.2h.5M162.1 168.1h.5M177.5 158.8h.5M184.4 167.0h.5M171.2 160.9h.5M168.4 177.9h.5M163.5 173.8h.5M173.4 174.2h.5M167.3 169.1h.5M177.1 176.3h.5M166.5 154.9h.5M166.6 169.9h.5M173.1 183.0h.5M170.4 176.5h.5M154.0 173.3h.5M178.6 164.9h.5M170.9 169.6h.5M167.9 174.3h.5M170.9 183.3h.5M161.0 164.9h.5M158.4 163.4h.5M167.6 170.8h.5M165.9 177.1h.5M163.1 181.4h.5M168.3 170.5h.5M173.5 177.0h.5M162.5 166.0h.5M176.9 166.1h.5M168.2 170.6h.5M177.2 175.7h.5M179.4 168.9h.5M161.8 174.4h.5M164.5 180.1h.5M179.1 188.2h.5M170.2 161.4h.5M167.7 169.6h.5M158.8 182.3h.5M166.1 183.3h.5M164.7 182.9h.5M165.7 176.5h.5M165.0 185.3h.5M166.0 155.4h.5M150.3 168.9h.5M155.6 162.0h.5M162.5 172.7h.5M168.5 161.7h.5M172.3 182.3h.5M173.1 168.3h.5M178.9 181.9h.5M177.8 162.3h.5M170.9 168.2h.5M174.5 184.6h.5M168.5 168.4h.5M165.8 164.6h.5M184.5 173.2h.5M161.9 169.9h.5M155.4 160.0h.5M183.8 181.6h.5M156.1 162.8h.5M174.0 176.1h.5M160.2 174.9h.5M170.2 166.5h.5M147.6 175.6h.5M162.1 171.7h.5M176.1 183.6h.5M164.7 181.9h.5M161.5 174.2h.5M175.7 173.6h.5M163.8 152.0h.5M178.9 184.7h.5M163.1 173.5h.5M172.1 164.5h.5M161.4 177.1h.5M162.0 152.9h.5M175.0 169.8h.5M172.0 183.2h.5M177.9 188.5h.5M164.8 179.2h.5M164.3 185.4h.5M169.9 187.9h.5M176.6 180.5h.5M163.4 178.7h.5M158.9 161.3h.5M155.1 179.6h.5M162.2 167.2h.5M170.2 164.5h.5M166.5 183.9h.5M155.1 172.9h.5M170.7 181.5h.5M167.9 171.0h.5M171.2 170.1h.5M155.6 169.6h.5M176.1 178.4h.5M167.1 155.9h.5M170.6 180.6h.5M163.9 173.0h.5M155.3 165.0h.5M174.6 175.5h.5M182.2 188.3h.5M178.4 173.3h.5M163.0 176.7h.5M164.6 172.4h.5M176.3 174.7h.5M162.3 148.0h.5M169.6 174.7h.5M165.6 161.9h.5M164.4 170.2h.5M170.5 168.9h.5M166.4 183.2h.5M177.3 188.3h.5M173.1 167.4h.5M181.0 175.4h.5M158.0 173.4h.5M160.8 170.8h.5M166.4 169.5h.5M169.0 190.0h.5M172.5 183.5h.5M169.1 177.1h.5M161.5 173.1h.5M156.7 171.7h.5M174.3 175.4h.5M166.5 178.9h.5M164.6 161.1h.5M168.8 175.0h.5M174.9 184.3h.5M160.2 172.8h.5M171.2 165.0h.5M164.1 179.1h.5M175.0 169.1h.5M163.9 167.0h.5M176.3 164.2h.5M156.4 183.4h.5M171.7 173.0h.5M170.1 170.1h.5M173.1 182.1h.5M162.6 171.8h.5M175.1 182.2h.5M167.2 173.6h.5M174.1 170.4h.5M166.2 179.8h.5M156.0 184.4h.5M164.4 162.0h.5M164.2 183.3h.5M172.8 166.6h.5M160.3 165.8h.5M180.6 168.8h.5M166.0 175.3h.5M171.3 180.7h.5M161.2 184.2h.5M178.4 172.4h.5M168.0 163.6h.5M173.9 167.3h.5M159.2 178.7h.5M163.9 165.8h.5M180.5 177.5h.5M174.1 163.8h.5M167.9 186.2h.5M182.6 164.0h.5M158.4 173.2h.5M166.5 164.5h.5M165.7 176.0h.5M167.9 184.4h.5M173.0 184.9h.5M164.3 165.3h.5M162.6 172.3h.5M170.6 168.9h.5M167.7 170.8h.5M158.2 183.1h.5M173.9 179.4h.5M165.9 174.4h.5M160.3 179.5h.5M160.5 174.4h.5M179.7 174.1h.5M158.4 181.1h.5M172.0 177.1h.5M173.8 179.3h.5M164.8 176.8h.5M160.6 176.2h.5M173.4 172.4h.5M176.7 180.2h.5M173.9 177.0h.5M168.2 163.8h.5M166.9 175.3h.5M171.5 176.9h.5M167.7 161.6h.5M162.1 169.7h.5M175.3 165.8h.5M172.5 160.6h.5M163.3 177.6h.5M172.5 178.6h.5M172.0 166.3h.5M170.1 190.0h.5M154.4 167.6h.5M164.1 159.8h.5M176.7 170.6h.5M174.9 157.4h.5M170.7 164.0h.5M155.7 155.4h.5M154.4 174.9h.5M162.3 167.3h.5M167.6 191.9h.5M178.2 165.8h.5M167.2 164.5h.5M158.0 168.5h.5M181.2 180.1h.5M145.2 170.7h.5M143.4 173.1h.5M148.1 156.8h.5M144.0 163.6h.5M144.9 178.7h.5M147.9 187.1h.5M143.4 164.3h.5M147.2 176.5h.5M152.7 183.8h.5M149.4 165.7h.5M149.3 184.7h.5M148.2 191.5h.5M142.9 181.0h.5M149.9 170.6h.5M143.5 174.7h.5M149.1 182.1h.5M149.5 170.7h.5M144.0 163.1h.5M144.3 172.1h.5M145.4 177.3h.5M144.1 187.4h.5M147.9 173.3h.5M146.9 176.0h.5M145.2 165.1h.5M142.4 171.1h.5M143.5 175.5h.5M144.7 176.2h.5M149.4 185.1h.5M149.5 182.0h.5M147.0 174.7h.5M148.8 193.0h.5M149.8 174.4h.5M145.9 180.7h.5M149.2 172.0h.5M149.1 180.7h.5M146.4 185.7h.5M142.9 178.0h.5M149.2 185.9h.5M146.7 182.7h.5M144.5 165.4h.5M148.3 177.5h.5M149.1 183.8h.5M149.1 185.5h.5M144.8 189.5h.5M143.6 173.0h.5M145.1 183.6h.5M146.1 179.7h.5M147.8 180.0h.5M146.3 177.8h.5M143.4 162.8h.5M145.3 179.9h.5M146.3 172.6h.5M147.9 173.6h.5M145.7 160.4h.5M144.7 192.0h.5M147.3 185.9h.5M147.8 185.9h.5M147.4 182.4h.5M143.9 190.5h.5M144.7 170.6h.5M146.1 168.4h.5M148.9 180.7h.5M150.5 177.6h.5M148.6 149.6h.5M150.1 166.0h.5M143.8 186.0h.5M149.2 181.4h.5M147.8 187.0h.5M147.3 180.5h.5M148.8 175.0h.5M147.3 170.0h.5M143.4 175.9h.5M146.8 168.6h.5M142.5 164.5h.5M142.4 178.2h.5M145.3 186.9h.5M144.3 180.4h.5M146.2 171.8h.5M147.5 181.8h.5M142.6 191.7h.5M148.5 175.5h.5M148.5 177.0h.5M150.9 190.5h.5M151.5 173.7h.5M147.0 178.4h.5M146.3 188.0h.5M144.9 187.8h.5M143.7 186.4h.5M146.4 185.3h.5M148.4 166.3h.5M144.2 173.1h.5M145.7 177.3h.5M147.9 165.1h.5M145.9 166.5h.5M146.8 191.8h.5M145.4 193.2h.5M145.4 176.8h.5M150.4 180.9h.5M148.0 183.2h.5M143.7 171.1h.5M146.8 179.5h.5M147.4 169.7h.5M142.5 185.4h.5M150.1 179.4h.5M144.1 170.6h.5M144.2 157.3h.5M150.1 143.7h.5M144.9 152.4h.5M146.5 163.0h.5M146.0 152.3h.5M147.1 168.5h.5M140.8 158.2h.5M148.4 140.0h.5M146.5 134.8h.5M145.8 151.1h.5M149.8 163.1h.5M141.4 169.7h.5M150.5 151.1h.5M146.3 145.1h.5M142.9 130.5h.5M148.1 136.3h.5M146.5 167.6h.5M143.3 180.1h.5M142.9 140.1h.5M140.0 134.7h.5M143.3 154.2h.5M144.6 181.5h.5M146.6 165.3h.5M147.8 175.9h.5M144.1 141.3h.5M147.1 137.7h.5M147.1 142.2h.5M145.8 149.3h.5M149.3 164.1h.5M145.4 157.9h.5M144.7 171.2h.5M153.1 154.4h.5M143.2 153.0h.5M139.5 154.1h.5M145.0 155.4h.5M149.3 150.6h.5M146.8 137.6h.5M146.7 168.3h.5M147.0 127.7h.5M145.5 141.1h.5M146.6 157.7h.5M145.7 143.8h.5M143.5 158.3h.5M142.5 147.5h.5M144.3 155.8h.5M147.7 160.7h.5M142.3 172.0h.5M148.2 161.3h.5M143.7 156.8h.5M143.2 130.1h.5M147.9 146.9h.5M147.0 150.3h.5M144.8 145.1h.5M144.8 154.3h.5M146.3 141.5h.5M146.9 157.2h.5M145.7 150.2h.5M147.1 123.5h.5M145.3 162.3h.5M147.1 148.8h.5M149.1 154.7h.5M142.3 169.5h.5M141.9 149.8h.5M147.4 153.7h.5M147.8 140.9h.5M145.6 172.7h.5M146.2 145.5h.5M146.1 145.5h.5M141.9 171.4h.5M145.4 170.4h.5M142.2 168.5h.5M138.0 152.5h.5M141.9 131.4h.5M141.3 159.8h.5M152.1 168.8h.5M143.6 157.8h.5M149.1 132.8h.5M144.5 160.3h.5M146.0 153.7h.5M147.9 161.4h.5M145.1 163.5h.5M143.8 176.2h.5M143.3 157.7h.5M151.4 161.2h.5M143.5 155.0h.5M140.2 174.8h.5M142.5 152.5h.5M138.7 152.7h.5M140.7 131.2h.5M149.0 153.4h.5M144.5 145.1h.5M141.9 173.2h.5M144.0 165.0h.5M145.2 165.6h.5M146.2 153.2h.5M142.9 161.4h.5M140.8 167.8h.5M142.0 166.4h.5M142.0 160.1h.5M145.5 163.8h.5M144.1 141.4h.5M144.1 164.9h.5M144.3 146.8h.5M150.7 154.4h.5M149.1 173.1h.5M140.7 143.9h.5M144.7 174.7h.5M150.1 151.5h.5M150.0 161.7h.5M146.9 155.8h.5M144.0 144.1h.5M138.1 130.9h.5M142.7 154.0h.5M146.3 155.1h.5M144.1 158.3h.5M147.4 177.9h.5M148.3 158.8h.5M148.3 146.0h.5M143.3 142.5h.5M145.5 177.0h.5M141.4 172.2h.5M147.1 163.1h.5M150.4 163.0h.5M146.4 148.9h.5M142.3 148.4h.5M146.1 152.7h.5M147.4 163.9h.5M147.1 141.9h.5M150.8 144.0h.5M146.5 180.0h.5M140.2 153.4h.5M141.2 170.0h.5M140.8 142.9h.5M145.7 159.6h.5M150.2 152.3h.5M142.7 156.2h.5M144.6 170.9h.5M148.3 155.3h.5M145.4 139.6h.5M144.5 161.0h.5M141.3 143.1h.5M137.7 168.3h.5M137.7 142.3h.5M145.8 166.2h.5M145.1 152.3h.5M144.7 128.3h.5M146.4 157.4h.5M143.5 139.9h.5M150.9 135.2h.5M147.5 138.8h.5M146.1 164.8h.5M150.1 160.3h.5M146.4 149.8h.5M139.6 155.1h.5M142.5 144.8h.5M155.4 174.8h.5M146.7 165.2h.5M143.4 160.7h.5M147.3 162.8h.5M148.6 160.4h.5M144.0 163.0h.5M145.4 145.2h.5M142.1 155.3h.5M137.9 167.6h.5M143.0 171.9h.5M148.0 144.9h.5M141.1 172.6h.5M144.9 150.8h.5M147.8 170.6h.5M145.6 147.3h.5M151.5 160.0h.5M143.5 132.1h.5M142.3 160.7h.5M147.0 145.4h.5M140.6 163.2h.5M133.1 171.8h.5M144.6 147.8h.5M154.6 154.5h.5M159.7 141.7h.5M159.0 157.8h.5M159.5 155.6h.5M179.2 149.7h.5M160.4 153.9h.5M160.6 137.7h.5M148.6 157.8h.5M150.4 147.7h.5M148.5 137.7h.5M162.9 155.1h.5M144.1 149.7h.5M139.8 150.3h.5M144.8 145.7h.5M152.2 136.4h.5M153.7 129.6h.5M151.5 126.1h.5M153.1 144.8h.5M170.5 146.3h.5M172.1 160.7h.5M167.0 139.4h.5M144.3 130.4h.5M143.4 148.1h.5M156.4 140.2h.5M162.2 146.4h.5M178.4 154.2h.5M163.0 163.3h.5M159.4 139.6h.5M137.0 164.5h.5M155.4 138.9h.5M159.1 140.2h.5M138.3 146.7h.5M177.6 131.4h.5M172.7 154.3h.5M141.8 148.6h.5M168.9 127.2h.5M154.1 136.2h.5M157.0 156.3h.5M160.9 140.8h.5M145.8 146.1h.5M162.8 132.1h.5M179.9 133.3h.5M147.3 160.6h.5M158.7 145.4h.5M161.8 156.0h.5M160.1 144.6h.5M146.2 143.5h.5M171.7 142.1h.5M156.2 148.5h.5M158.8 136.2h.5M166.6 158.6h.5M162.1 158.7h.5M152.7 166.5h.5M148.4 129.0h.5M150.5 130.7h.5M169.9 153.1h.5M156.7 142.5h.5M161.9 147.0h.5M150.3 163.5h.5M161.5 127.7h.5M140.7 150.3h.5M148.3 136.6h.5M141.4 137.0h.5M152.5 140.5h.5M160.7 132.8h.5M137.9 146.6h.5M161.8 141.7h.5M151.5 151.3h.5M153.9 153.8h.5M188.4 142.7h.5M142.5 149.1h.5M154.1 147.3h.5M153.2 141.7h.5M142.6 156.8h.5M160.5 142.2h.5M157.9 148.0h.5M169.2 147.3h.5M157.7 141.3h.5M156.6 160.0h.5M153.4 147.5h.5M158.0 155.4h.5M178.2 152.2h.5M144.4 164.4h.5M141.2 151.3h.5M152.0 150.3h.5M154.6 150.0h.5M165.8 147.1h.5M149.1 150.8h.5M159.7 149.7h.5M159.1 143.9h.5M159.6 155.1h.5M158.3 153.5h.5M154.3 153.7h.5M154.8 155.3h.5M164.2 163.6h.5M154.3 145.7h.5M151.0 146.9h.5M166.3 165.6h.5M160.7 154.6h.5M159.9 144.5h.5M162.2 147.1h.5M165.6 145.0h.5M161.6 160.5h.5M156.0 148.7h.5M151.3 152.0h.5M168.6 153.7h.5M166.4 147.5h.5M188.1 166.2h.5M152.0 139.9h.5M145.0 146.5h.5M147.9 147.2h.5M152.3 147.3h.5M176.8 132.9h.5M158.2 161.8h.5M153.1 151.1h.5M163.4 138.2h.5M152.1 154.9h.5M166.6 131.1h.5M170.5 154.0h.5M154.3 147.3h.5M152.4 136.9h.5M156.0 161.3h.5M161.3 145.3h.5M159.6 161.6h.5M152.3 146.7h.5M167.7 154.9h.5M150.7 158.0h.5M163.1 145.2h.5M156.9 147.9h.5M159.0 140.7h.5M152.2 144.5h.5M156.8 142.3h.5M144.7 144.1h.5M161.6 134.4h.5M161.2 156.1h.5M161.8 150.8h.5M155.1 137.0h.5M156.8 141.2h.5M159.7 156.6h.5M153.6 160.7h.5M151.1 150.6h.5M144.1 136.9h.5M158.2 144.2h.5M158.7 148.6h.5M161.3 155.1h.5M152.9 140.9h.5M175.4 153.1h.5M148.4 135.9h.5M158.1 149.6h.5M159.0 141.3h.5M169.1 143.4h.5M160.8 147.3h.5M173.0 166.5h.5M158.8 149.9h.5M150.6 152.6h.5M161.4 156.0h.5M151.5 145.1h.5M157.0 136.3h.5M147.2 147.6h.5M152.4 158.1h.5M148.2 154.8h.5M162.0 158.8h.5M156.3 136.3h.5M159.3 159.6h.5M134.9 145.1h.5M141.9 134.2h.5M153.0 155.9h.5M159.5 139.9h.5M151.4 146.9h.5M159.2 156.3h.5M150.7 140.6h.5M149.4 142.5h.5M159.6 139.1h.5M154.3 148.9h.5M158.4 141.4h.5M176.7 138.3h.5M158.1 154.7h.5M148.0 137.4h.5M146.2 141.9h.5M145.9 139.8h.5M169.1 144.3h.5M152.6 152.9h.5M157.7 149.3h.5M170.3 166.5h.5M148.2 150.6h.5M152.1 153.3h.5M155.5 148.4h.5M166.8 139.1h.5M139.5 136.6h.5M146.9 144.8h.5M149.8 126.0h.5M160.3 155.3h.5M148.1 130.7h.5M153.7 140.1h.5M162.4 146.4h.5M168.2 138.5h.5M151.8 139.7h.5M155.1 160.6h.5M161.6 152.7h.5M157.9 141.0h.5M150.4 173.1h.5M152.0 146.5h.5M179.6 161.3h.5M176.1 142.7h.5M158.3 160.1h.5M169.8 144.3h.5M168.4 146.4h.5M176.2 159.2h.5M150.0 144.1h.5M170.7 136.5h.5M164.7 150.2h.5M156.4 171.0h.5M156.5 172.0h.5M161.5 129.0h.5M148.4 159.3h.5M157.9 138.0h.5M150.6 149.3h.5M147.9 165.8h.5M154.4 157.5h.5M163.4 140.2h.5M149.4 161.0h.5M149.1 138.2h.5M156.0 144.7h.5M163.8 155.3h.5M170.8 162.1h.5M152.7 145.4h.5M153.9 122.2h.5M147.5 135.6h.5M153.4 149.7h.5M172.3 156.1h.5M151.7 148.0h.5M163.8 150.6h.5M162.4 140.0h.5M159.5 149.2h.5M152.3 145.7h.5M157.5 158.7h.5M152.6 136.9h.5M161.6 133.6h.5M159.6 149.4h.5M153.8 146.9h.5M153.7 148.8h.5M157.9 170.2h.5M171.3 135.7h.5M155.8 156.8h.5M158.0 139.5h.5M164.9 138.5h.5M179.6 141.7h.5M164.1 150.6h.5M163.8 152.3h.5M165.9 156.6h.5M174.2 154.8h.5M195.0 158.2h.5M159.9 161.2h.5M168.2 152.1h.5M177.1 152.1h.5M156.8 132.1h.5M202.0 151.4h.5M173.6 124.6h.5M168.1 159.4h.5M160.1 147.3h.5M155.8 142.8h.5M174.5 143.3h.5M157.0 171.2h.5M166.6 167.1h.5M186.9 152.9h.5M135.1 150.5h.5M166.6 138.1h.5M132.5 155.4h.5M165.4 134.3h.5M181.9 142.1h.5M186.4 149.3h.5M186.5 143.1h.5M155.2 165.4h.5M171.0 151.0h.5M194.6 163.1h.5M191.9 153.0h.5M145.3 144.7h.5M141.5 133.8h.5M179.5 161.6h.5M172.9 145.4h.5M178.8 151.6h.5M188.3 155.3h.5M160.9 122.0h.5M155.2 137.9h.5M177.8 126.3h.5M154.4 160.6h.5M156.2 165.5h.5M181.9 129.4h.5M160.2 161.2h.5M177.2 156.5h.5M155.2 151.2h.5M169.1 140.7h.5M139.1 167.8h.5M167.4 153.3h.5M184.7 155.3h.5M175.7 147.2h.5M171.5 147.9h.5M155.0 163.6h.5M165.8 165.5h.5M174.3 141.0h.5M158.9 139.4h.5M191.2 170.2h.5M159.7 136.1h.5" stroke="#333" stroke-width="0.55" fill="none" opacity="0.5"/>
<path d="M162.9 171.0h.5M158.0 172.9h.5M157.9 193.2h.5M156.6 166.8h.5M153.3 170.3h.5M160.3 175.5h.5M161.2 184.9h.5M158.0 163.4h.5M157.0 183.7h.5M153.3 184.2h.5M161.1 168.5h.5M160.8 174.1h.5M160.5 176.8h.5M162.1 181.2h.5M162.3 180.5h.5M152.6 191.5h.5M157.7 184.0h.5M154.0 186.8h.5M159.1 176.2h.5M161.5 187.6h.5M159.8 170.5h.5M159.7 163.9h.5M156.7 179.9h.5M159.1 183.5h.5M158.2 177.7h.5M158.3 184.4h.5M156.8 180.5h.5M152.9 178.2h.5M154.5 182.1h.5M154.5 178.9h.5M157.1 182.2h.5M155.7 178.8h.5M160.3 177.8h.5M157.0 191.3h.5M164.1 178.2h.5M162.0 183.2h.5M155.7 170.2h.5M161.1 182.5h.5M157.6 174.3h.5M155.6 187.3h.5M158.3 170.8h.5M161.5 178.2h.5M163.2 181.2h.5M156.7 158.9h.5M156.6 174.5h.5M160.4 178.8h.5M159.2 173.6h.5M160.4 185.0h.5M158.4 167.4h.5M161.0 183.6h.5M158.7 188.6h.5M153.8 184.5h.5M164.2 185.3h.5M151.4 180.8h.5M156.0 173.2h.5M162.9 182.7h.5M158.9 187.7h.5M162.7 186.3h.5M158.5 158.6h.5M155.1 178.3h.5M158.3 175.6h.5M160.1 166.5h.5M160.2 174.4h.5M154.1 176.2h.5M153.7 168.9h.5M158.2 171.1h.5M156.7 177.7h.5M158.8 174.8h.5M158.1 185.0h.5M157.1 185.5h.5M155.2 190.5h.5M153.2 163.0h.5M155.8 189.6h.5M162.0 177.2h.5M158.0 169.6h.5M165.1 187.3h.5M163.5 174.6h.5M162.6 184.5h.5M164.4 169.4h.5M163.6 168.4h.5M164.3 173.1h.5M157.7 175.2h.5M154.9 171.5h.5M162.4 179.6h.5M159.3 190.3h.5M155.4 181.2h.5M161.1 181.1h.5M156.2 191.8h.5M154.7 179.8h.5M164.0 181.3h.5M160.7 187.1h.5M155.2 177.0h.5M159.2 180.7h.5M164.4 162.5h.5M160.4 193.3h.5M162.8 182.1h.5M160.4 188.4h.5M159.5 181.9h.5M154.0 175.3h.5M159.5 189.1h.5M156.3 176.9h.5M165.5 176.4h.5M154.8 178.5h.5M156.6 180.4h.5M158.9 173.3h.5M158.2 161.8h.5M158.4 175.9h.5M161.5 188.6h.5M163.8 177.5h.5M156.3 192.1h.5M159.0 189.4h.5M159.3 165.0h.5M154.4 190.0h.5M159.8 171.8h.5M157.1 188.3h.5M155.1 186.1h.5M158.5 188.3h.5M151.5 179.6h.5M157.6 174.6h.5M157.1 183.6h.5M160.2 185.6h.5M162.1 186.3h.5M160.9 170.7h.5M156.7 189.5h.5M156.1 186.5h.5M160.6 181.3h.5M158.6 181.8h.5M157.0 180.0h.5M161.7 170.9h.5M161.0 184.3h.5M155.0 173.9h.5M155.7 185.1h.5M154.1 165.5h.5M155.2 182.8h.5M157.8 179.2h.5M155.7 161.5h.5M159.5 174.5h.5M158.9 184.2h.5M159.9 185.2h.5M154.7 171.9h.5M163.2 169.7h.5M152.6 174.0h.5M158.5 183.5h.5M158.7 167.7h.5M159.7 169.0h.5M158.4 188.8h.5M156.5 180.9h.5M161.7 189.6h.5M159.1 183.2h.5M158.4 183.9h.5M155.9 182.2h.5M159.8 182.4h.5M154.3 178.1h.5M157.4 177.7h.5M153.4 164.9h.5M156.9 173.7h.5M162.3 173.0h.5M157.7 181.8h.5M157.8 179.4h.5M161.7 176.5h.5M158.5 175.6h.5M152.0 181.0h.5M165.7 189.0h.5M156.3 177.3h.5M162.1 182.0h.5M154.6 165.7h.5M161.2 187.9h.5M160.4 181.6h.5M162.7 183.9h.5M157.4 187.2h.5M158.5 172.2h.5M162.9 159.5h.5M160.4 175.2h.5M156.7 184.5h.5M159.0 173.1h.5M158.5 178.6h.5M158.1 193.3h.5M155.5 161.7h.5M156.0 182.2h.5M161.0 181.3h.5M165.5 179.6h.5M154.6 174.7h.5M162.2 183.2h.5M158.5 177.0h.5M161.4 186.5h.5M157.1 192.6h.5M164.5 182.6h.5M155.7 180.4h.5M162.1 170.7h.5M156.0 175.5h.5M155.7 176.4h.5M156.4 169.7h.5M158.6 181.4h.5M156.9 174.1h.5M162.2 182.4h.5M156.8 172.5h.5M155.6 173.8h.5M158.9 165.7h.5M157.4 169.3h.5M152.8 186.7h.5M158.1 190.3h.5M164.5 186.7h.5M157.5 189.7h.5M153.8 165.9h.5M152.4 177.4h.5M155.7 174.2h.5M164.3 178.2h.5M157.3 169.5h.5M163.5 184.5h.5M159.3 159.0h.5M162.0 176.7h.5M164.7 187.9h.5M152.3 190.2h.5M158.9 177.6h.5M156.0 159.7h.5M161.5 177.9h.5M155.9 180.2h.5M159.6 183.0h.5M151.6 163.7h.5M159.0 170.7h.5M160.8 185.5h.5M152.4 186.9h.5M153.3 191.5h.5M162.9 178.7h.5M165.5 177.5h.5M160.0 179.2h.5M153.8 174.4h.5M163.6 178.7h.5M161.0 175.0h.5M164.1 176.0h.5M157.2 173.7h.5M164.9 183.8h.5M162.1 181.7h.5M162.4 189.3h.5M159.4 190.5h.5M159.3 190.4h.5M157.8 169.6h.5M163.7 176.4h.5M157.2 174.9h.5M159.6 190.6h.5M155.1 161.0h.5M162.0 183.5h.5M158.3 179.9h.5M151.7 158.7h.5M151.8 181.8h.5M159.7 179.5h.5M163.9 172.9h.5M164.6 181.0h.5M155.6 185.4h.5M157.0 176.6h.5M156.9 177.1h.5M160.1 190.4h.5M153.3 167.5h.5M156.1 162.3h.5M157.4 192.5h.5M154.1 187.1h.5M161.1 181.6h.5M165.2 188.3h.5M157.2 183.2h.5M161.1 185.7h.5M153.9 160.4h.5M162.9 173.0h.5M159.5 161.6h.5M158.8 175.6h.5M154.4 179.0h.5M158.4 187.3h.5M157.6 172.5h.5M156.6 181.4h.5M152.1 186.2h.5M157.3 186.4h.5M156.8 179.4h.5M152.3 177.1h.5M163.7 179.8h.5M161.0 183.4h.5M156.1 167.3h.5M160.0 173.9h.5M155.1 187.3h.5M159.6 174.6h.5M154.2 178.8h.5M156.6 190.2h.5M157.7 170.6h.5M159.1 183.7h.5M154.4 182.9h.5M161.3 173.8h.5M160.2 171.7h.5M163.0 177.7h.5M160.9 182.7h.5M159.5 188.1h.5M157.5 189.9h.5M158.2 189.1h.5M162.4 182.5h.5M159.1 185.4h.5M158.1 186.1h.5M155.4 175.0h.5M156.0 190.2h.5M157.1 158.9h.5M162.4 177.3h.5M159.6 176.7h.5M160.1 158.3h.5M164.2 177.9h.5M152.3 188.1h.5M159.5 183.7h.5M160.2 182.2h.5M160.4 175.3h.5M156.9 191.2h.5M157.5 185.8h.5M155.2 178.6h.5M163.0 182.7h.5M157.1 189.3h.5M159.6 177.1h.5M159.3 165.1h.5M159.6 169.9h.5M157.3 175.8h.5M155.5 172.1h.5M163.9 187.8h.5M155.6 176.8h.5M158.6 171.4h.5M152.5 184.6h.5M159.7 171.3h.5M157.1 181.2h.5M163.0 178.3h.5M165.2 178.1h.5M156.4 188.9h.5M162.6 180.1h.5M160.8 182.1h.5M161.8 175.4h.5M153.1 182.5h.5M162.4 169.7h.5M156.1 158.6h.5M159.6 179.0h.5M162.3 177.9h.5M160.4 178.8h.5M157.9 169.5h.5M158.3 174.7h.5M158.1 175.6h.5M159.0 183.2h.5M152.8 191.0h.5M153.4 170.1h.5M162.8 179.0h.5M158.2 189.5h.5M162.7 165.6h.5M157.1 165.4h.5M160.9 168.9h.5M157.2 191.9h.5M152.1 173.4h.5M157.2 178.0h.5M159.6 175.6h.5M158.6 183.1h.5M163.1 182.5h.5M165.2 170.5h.5M158.9 168.2h.5M158.6 175.0h.5M165.2 171.2h.5M158.8 173.8h.5M159.7 173.2h.5M160.8 182.0h.5M158.9 177.0h.5M157.9 184.0h.5M157.7 169.8h.5M159.8 189.9h.5M155.1 161.3h.5M161.1 179.9h.5M159.0 182.0h.5M159.9 187.4h.5M159.2 180.0h.5M159.3 170.9h.5M152.1 180.3h.5M159.3 177.5h.5M158.5 175.7h.5M162.6 183.5h.5M159.4 172.2h.5M158.0 169.9h.5M156.2 168.3h.5M159.6 166.3h.5M163.7 187.7h.5M162.0 174.8h.5M159.0 183.0h.5M160.0 181.5h.5M158.8 179.1h.5M158.9 181.5h.5M153.6 177.6h.5M159.8 176.9h.5M162.1 179.6h.5M162.6 163.7h.5M159.1 166.5h.5M154.7 176.4h.5M155.7 181.5h.5M155.4 189.7h.5M163.9 170.1h.5M154.1 157.8h.5M156.2 182.5h.5M153.8 181.3h.5M154.8 180.5h.5M154.5 185.7h.5M159.4 187.9h.5M157.9 179.5h.5M158.4 183.0h.5M161.5 187.7h.5M155.1 183.8h.5M156.8 181.2h.5M160.9 170.5h.5M157.1 169.6h.5M160.5 179.0h.5M163.8 178.3h.5M157.4 174.6h.5M153.3 165.3h.5M159.5 189.6h.5M161.2 188.3h.5M161.8 168.4h.5M162.0 190.3h.5M157.3 169.9h.5M160.3 174.9h.5M161.5 170.4h.5M152.9 178.5h.5M157.0 189.6h.5M158.3 169.2h.5M154.9 182.1h.5M159.2 167.9h.5M156.8 185.2h.5M162.6 168.8h.5M164.3 181.2h.5M161.0 193.1h.5M154.7 172.1h.5M153.0 173.7h.5M160.3 180.0h.5M156.8 168.7h.5M165.4 186.5h.5M158.8 192.9h.5M158.5 187.7h.5M163.1 176.5h.5M159.2 170.0h.5M164.1 165.0h.5M158.9 168.9h.5M160.1 193.0h.5M152.7 166.7h.5M161.7 164.9h.5M165.4 181.4h.5M161.1 173.9h.5M161.1 175.0h.5M156.7 176.7h.5M151.7 175.7h.5M156.8 186.5h.5M159.7 176.8h.5M159.5 186.4h.5M156.2 182.0h.5M157.9 183.5h.5M154.5 178.2h.5M155.9 180.3h.5M158.8 176.4h.5M157.8 171.7h.5M159.0 181.7h.5M162.7 176.9h.5M155.9 178.6h.5M157.0 188.3h.5M160.9 181.2h.5M156.5 180.6h.5M165.7 166.3h.5M163.0 189.8h.5M152.9 180.1h.5M158.8 174.1h.5M159.0 172.8h.5M154.9 173.4h.5M158.0 171.4h.5M158.3 168.1h.5M162.4 171.9h.5M156.7 183.8h.5M161.2 190.4h.5M161.2 181.4h.5M162.0 166.9h.5M158.4 186.5h.5M156.3 177.9h.5M155.1 174.0h.5M153.8 165.7h.5M162.8 180.8h.5M154.3 183.3h.5M162.5 185.8h.5M151.5 175.5h.5M163.2 170.9h.5M159.5 188.0h.5M161.7 179.4h.5M164.5 182.6h.5M154.6 164.8h.5M163.5 172.2h.5M155.5 188.5h.5M156.4 172.9h.5M154.6 176.1h.5M159.8 170.6h.5M163.2 175.6h.5M160.1 186.8h.5M163.1 172.5h.5M156.6 191.0h.5M162.5 182.1h.5M152.8 192.8h.5M156.0 172.4h.5M155.3 192.1h.5M157.3 188.8h.5M157.3 164.5h.5M157.6 190.8h.5M158.3 176.4h.5M163.5 182.1h.5M158.3 189.5h.5M156.8 169.3h.5M156.8 175.4h.5M155.8 179.5h.5M155.0 188.0h.5M159.6 174.6h.5M161.2 183.9h.5M154.4 165.3h.5M159.3 178.2h.5M157.0 186.9h.5M158.9 169.1h.5M159.5 189.4h.5M152.5 184.7h.5M162.0 173.9h.5M160.8 178.4h.5M160.0 175.8h.5M159.0 180.7h.5M157.0 179.5h.5M158.4 178.5h.5M161.6 189.9h.5M152.8 186.9h.5M160.9 179.7h.5M159.7 171.3h.5M156.4 190.7h.5M158.3 182.7h.5M158.6 166.2h.5M158.1 193.3h.5M161.5 179.8h.5M160.1 177.8h.5M157.8 188.8h.5M159.0 181.3h.5M156.5 172.8h.5M159.5 187.5h.5M152.5 174.7h.5M154.6 181.7h.5M161.0 182.2h.5M157.3 187.9h.5M154.1 190.8h.5M163.5 190.5h.5M153.6 180.0h.5M159.0 180.6h.5M160.4 176.6h.5M161.0 175.5h.5M160.4 173.8h.5M162.1 168.5h.5M160.8 171.7h.5M161.8 176.7h.5M158.1 168.5h.5M158.2 173.5h.5M153.2 162.3h.5M160.5 180.2h.5M158.3 183.0h.5M155.9 165.2h.5M154.4 179.4h.5M163.5 175.6h.5M156.2 186.7h.5M160.1 174.2h.5M158.9 183.6h.5M153.3 188.9h.5M158.4 188.7h.5M157.4 185.7h.5M157.7 167.0h.5M161.8 172.8h.5M158.0 182.3h.5M164.8 175.2h.5M165.3 163.7h.5M154.3 181.0h.5M160.9 167.4h.5M159.5 174.0h.5M158.6 180.1h.5M165.4 166.8h.5M160.1 179.9h.5M156.9 173.9h.5M156.6 166.7h.5M158.4 167.0h.5M152.7 171.8h.5M159.9 170.2h.5M155.8 173.9h.5M159.4 170.2h.5M162.3 192.1h.5M163.7 166.2h.5M157.7 174.6h.5M152.9 157.8h.5M152.7 177.5h.5M159.2 191.3h.5M162.8 171.4h.5M164.3 165.8h.5M160.0 182.8h.5M156.4 179.7h.5M157.3 171.2h.5M158.0 170.9h.5M163.4 175.0h.5M161.9 188.1h.5M156.7 185.2h.5M160.7 169.2h.5M163.8 168.1h.5M162.4 163.4h.5M165.8 173.1h.5M159.2 170.0h.5M156.3 174.0h.5M160.5 189.9h.5M154.2 172.6h.5M159.8 190.1h.5M154.4 170.3h.5M153.7 170.5h.5M161.8 191.6h.5M160.0 176.5h.5M161.0 173.8h.5M163.0 178.9h.5M154.6 175.5h.5M153.0 172.8h.5M157.1 180.6h.5M151.0 174.4h.5M154.7 172.9h.5M158.1 166.1h.5M157.1 171.7h.5M157.9 178.1h.5M159.2 174.1h.5M160.7 185.6h.5M153.0 162.4h.5M159.2 183.3h.5M156.9 181.7h.5M157.9 172.4h.5M153.2 176.8h.5M159.0 166.5h.5M159.2 160.9h.5M166.5 184.8h.5M156.2 171.0h.5M162.6 193.1h.5M159.1 172.3h.5M158.1 178.9h.5M160.7 180.8h.5M158.8 171.2h.5M159.6 181.9h.5M161.1 167.7h.5M160.3 173.2h.5M162.9 180.9h.5M159.2 169.7h.5M159.1 178.3h.5M154.7 176.6h.5M155.4 178.1h.5M160.4 177.5h.5M159.3 181.5h.5M161.0 174.3h.5M158.5 164.7h.5M159.4 169.8h.5M164.3 162.6h.5M161.9 180.7h.5M159.6 190.5h.5M156.4 179.2h.5M155.0 169.0h.5M162.4 172.5h.5M164.5 166.3h.5M159.4 170.1h.5M158.0 162.5h.5M157.9 184.8h.5M158.4 174.1h.5M153.3 173.6h.5M153.5 180.3h.5M151.7 181.5h.5M162.4 184.6h.5M160.7 180.6h.5M162.9 156.7h.5M157.3 167.3h.5M163.2 167.1h.5M158.9 179.7h.5M158.8 172.8h.5M156.5 172.6h.5M153.8 183.7h.5M154.8 170.6h.5M165.3 178.3h.5M165.0 165.7h.5M153.5 170.8h.5M163.8 171.8h.5M163.2 186.9h.5M165.6 170.1h.5M157.5 175.7h.5M165.5 158.6h.5M162.1 175.7h.5M160.2 149.6h.5M155.6 182.8h.5M154.5 175.4h.5M157.2 177.8h.5M161.0 184.8h.5M157.4 171.0h.5M161.1 163.5h.5M161.4 178.9h.5M150.9 182.1h.5M164.0 184.2h.5M159.9 186.5h.5M162.4 168.7h.5M156.2 174.1h.5M160.2 165.8h.5M153.9 183.1h.5M161.1 182.8h.5M151.9 164.5h.5M163.0 168.9h.5M160.5 160.0h.5M163.5 173.7h.5M157.5 189.7h.5M156.6 177.7h.5M158.1 162.0h.5M155.4 181.5h.5M163.2 169.8h.5M153.5 180.8h.5M156.8 181.4h.5M153.7 182.9h.5M156.8 157.7h.5M166.7 150.9h.5M151.4 184.8h.5M157.6 173.5h.5M158.2 188.7h.5M158.0 191.4h.5M167.3 174.4h.5M164.7 180.0h.5M157.7 152.0h.5M161.0 181.2h.5M164.3 177.2h.5M159.2 174.1h.5M161.6 171.0h.5M156.2 155.1h.5M161.4 169.9h.5M154.9 180.7h.5M158.2 175.1h.5M161.5 169.8h.5M162.9 186.7h.5M159.7 181.5h.5M166.9 179.5h.5M158.8 166.0h.5M156.1 161.7h.5M162.9 163.3h.5M163.3 155.5h.5M153.7 191.0h.5M164.0 185.2h.5M156.6 179.3h.5M158.2 175.1h.5M158.0 162.9h.5M154.5 191.8h.5M165.3 174.9h.5M158.6 167.8h.5M159.0 186.2h.5M153.2 172.0h.5M156.9 166.1h.5M161.4 169.8h.5M155.3 182.2h.5M156.7 162.8h.5M161.3 182.8h.5M154.7 168.5h.5M164.6 180.4h.5M160.6 166.1h.5M158.8 166.1h.5M155.2 179.4h.5M158.4 169.8h.5M160.2 164.5h.5M161.3 171.1h.5M160.9 180.5h.5M162.5 185.7h.5M157.6 167.0h.5M163.8 162.5h.5M158.6 164.1h.5M161.9 187.4h.5M154.4 165.8h.5M162.3 185.0h.5M154.0 171.8h.5M163.5 162.0h.5M157.1 179.0h.5M163.4 161.1h.5M163.0 179.8h.5M151.9 173.9h.5M164.1 177.7h.5M161.3 180.2h.5M154.0 178.5h.5M158.8 180.1h.5M158.5 190.2h.5M155.2 175.4h.5M155.8 178.6h.5M158.2 170.9h.5M159.1 178.9h.5M160.4 173.5h.5M157.7 177.8h.5M162.3 164.9h.5M161.7 192.4h.5M161.0 192.9h.5M162.7 185.0h.5M157.5 179.9h.5M166.8 171.9h.5M152.8 173.8h.5M159.7 183.8h.5M159.0 181.8h.5M166.2 179.2h.5M160.9 172.4h.5M156.7 182.7h.5M161.1 189.9h.5M161.8 178.4h.5M167.0 167.1h.5M156.8 181.3h.5M158.5 171.1h.5M156.0 182.5h.5M158.2 163.7h.5M156.5 185.1h.5M153.8 160.3h.5M153.8 186.8h.5M158.9 179.2h.5M161.0 181.9h.5M153.2 178.4h.5M166.1 176.6h.5M156.9 179.8h.5M157.9 162.7h.5M153.1 189.3h.5M160.6 185.1h.5M154.3 184.7h.5M158.3 188.7h.5M161.4 164.1h.5M158.6 170.2h.5M160.3 184.8h.5M167.2 183.8h.5M158.5 181.3h.5M159.3 174.2h.5M165.1 178.2h.5M156.7 163.6h.5M161.7 192.1h.5M157.7 191.4h.5M160.3 173.8h.5M162.5 167.7h.5M160.8 163.4h.5M159.4 182.7h.5M151.5 169.7h.5M162.0 168.2h.5M159.4 178.9h.5M157.7 175.1h.5M157.9 177.0h.5M158.1 175.2h.5M153.1 185.3h.5M158.8 167.9h.5M154.8 175.8h.5M159.8 171.1h.5M152.0 157.4h.5M157.2 166.1h.5M162.4 163.8h.5M160.2 170.0h.5M159.5 171.9h.5M157.1 186.2h.5M161.4 177.1h.5M158.0 170.6h.5M157.7 173.9h.5M156.0 167.7h.5M163.2 173.7h.5M159.5 171.7h.5M157.7 169.0h.5M163.2 184.1h.5M161.9 178.6h.5M164.0 174.1h.5M156.0 178.9h.5M159.5 174.7h.5M155.4 189.8h.5M165.3 171.2h.5M161.9 181.7h.5M164.5 180.5h.5M159.3 172.2h.5M157.7 172.7h.5M163.7 181.5h.5M155.2 170.3h.5M166.6 171.8h.5M158.9 179.8h.5M157.5 156.8h.5M162.1 182.7h.5M157.6 162.7h.5M157.4 174.1h.5M162.2 183.1h.5M164.9 188.8h.5M156.9 164.5h.5M156.9 178.2h.5M155.7 173.5h.5M160.5 183.9h.5M163.2 156.5h.5M167.0 180.5h.5M160.6 169.1h.5M162.4 171.8h.5M164.4 186.8h.5M155.3 158.6h.5M160.6 178.0h.5M163.5 165.9h.5M161.9 177.6h.5M161.5 192.4h.5M152.7 178.6h.5M162.0 173.9h.5M151.6 184.4h.5M160.5 170.7h.5M159.0 184.7h.5M162.7 192.5h.5M159.7 165.7h.5M161.3 173.0h.5M159.3 160.9h.5M165.9 175.7h.5M163.0 160.1h.5M151.5 187.1h.5M166.9 178.3h.5M153.5 189.8h.5M155.5 171.6h.5M151.4 177.7h.5M156.3 165.4h.5M158.4 175.0h.5M157.9 180.9h.5M159.1 180.2h.5M159.2 177.3h.5M160.9 171.9h.5M157.8 187.1h.5M161.6 159.6h.5M160.7 167.5h.5M156.4 183.0h.5M154.1 183.3h.5M160.7 179.7h.5M155.0 171.7h.5M162.8 180.3h.5M161.8 175.8h.5M164.3 159.3h.5M163.4 190.9h.5M157.2 167.7h.5M157.2 158.1h.5M151.0 161.4h.5M162.8 170.0h.5M160.7 187.2h.5M158.7 175.1h.5M152.8 178.6h.5M155.4 172.5h.5M153.1 176.7h.5M162.0 176.5h.5M162.9 178.5h.5M161.0 165.8h.5M164.8 165.2h.5M159.9 173.0h.5M157.9 168.8h.5M163.2 188.3h.5M163.7 175.9h.5M164.2 181.6h.5M161.1 174.5h.5M164.4 192.8h.5M161.2 175.7h.5M160.2 186.9h.5M159.1 173.0h.5M155.0 182.1h.5M156.7 179.4h.5M165.8 177.7h.5M162.2 174.0h.5M159.4 173.8h.5M152.4 180.6h.5M155.7 170.2h.5M151.5 160.9h.5M140.5 140.4h.5M140.2 142.5h.5M142.9 140.2h.5M147.8 147.0h.5M144.0 144.1h.5M145.3 142.3h.5M141.6 140.5h.5M142.9 139.6h.5M144.2 144.0h.5M144.2 139.5h.5M141.3 141.7h.5M144.0 138.4h.5M143.5 142.1h.5M143.4 143.5h.5M142.1 137.3h.5M144.9 139.6h.5M144.1 141.3h.5M144.7 143.5h.5M141.6 139.3h.5M143.9 138.1h.5M145.1 142.5h.5M145.4 142.5h.5M147.3 140.1h.5M143.9 144.0h.5M140.7 142.0h.5M145.0 141.9h.5M140.4 142.2h.5M141.8 137.3h.5M146.0 141.5h.5M142.9 145.3h.5M145.0 143.6h.5M140.7 141.2h.5M146.2 140.9h.5M145.3 145.9h.5M147.6 145.5h.5M143.0 144.1h.5M141.8 143.1h.5M143.3 140.7h.5M147.5 137.4h.5M145.6 136.2h.5M143.4 141.8h.5M143.6 140.8h.5M142.9 142.5h.5M144.2 139.0h.5M146.2 139.0h.5M144.2 142.8h.5M148.6 141.1h.5M143.5 142.3h.5M144.8 142.3h.5M146.0 139.6h.5M145.2 148.5h.5M144.9 145.0h.5M145.2 141.5h.5M144.6 142.3h.5M147.0 145.3h.5M148.4 139.6h.5M145.1 140.1h.5M143.6 138.7h.5M144.9 137.7h.5M143.9 142.8h.5M144.8 140.1h.5M145.0 137.9h.5M147.1 143.6h.5M146.1 140.8h.5M143.5 139.2h.5M144.3 145.1h.5M146.8 151.7h.5M144.7 173.7h.5M145.0 173.3h.5M148.2 147.1h.5M144.4 152.7h.5M146.2 169.2h.5M145.9 164.9h.5M141.8 155.6h.5M145.1 165.3h.5M146.3 153.4h.5M144.9 162.3h.5M145.8 157.6h.5M147.2 172.8h.5M144.4 154.2h.5M142.1 147.4h.5M143.5 146.9h.5M143.1 159.2h.5M144.5 167.9h.5M147.7 166.0h.5M146.7 167.1h.5M144.1 172.7h.5M143.8 160.4h.5M143.7 161.8h.5M145.8 164.1h.5M146.1 138.0h.5M143.4 178.4h.5M145.1 165.2h.5M147.9 167.5h.5M143.4 147.5h.5M147.2 144.6h.5M141.9 160.5h.5M149.2 166.2h.5M144.4 151.0h.5M146.1 159.3h.5M145.2 147.3h.5M146.0 167.3h.5M143.7 151.0h.5M146.0 166.2h.5M147.0 147.2h.5M148.1 166.9h.5M144.9 165.1h.5M142.7 164.2h.5M144.5 163.4h.5M147.3 161.4h.5M142.4 160.7h.5M147.5 148.4h.5M142.5 149.1h.5M145.0 159.8h.5M144.6 159.8h.5M144.2 177.4h.5M146.2 156.5h.5M145.9 173.6h.5M146.0 160.4h.5M142.0 149.4h.5M146.2 168.8h.5M144.0 165.1h.5M144.9 163.0h.5M145.1 167.8h.5M147.2 162.7h.5M147.6 158.9h.5M146.6 158.7h.5M148.7 152.0h.5M148.8 166.2h.5M143.2 155.6h.5M144.0 149.1h.5M143.5 153.5h.5M142.5 153.1h.5M145.7 158.0h.5M147.0 164.3h.5M146.4 157.9h.5M143.5 161.4h.5M148.8 161.6h.5M145.3 166.3h.5M147.7 169.2h.5M145.9 144.4h.5M144.3 154.2h.5M145.9 164.0h.5M145.0 165.1h.5M147.7 167.1h.5M147.6 165.0h.5M144.6 175.9h.5M146.0 167.9h.5M147.0 170.1h.5M147.7 147.9h.5M149.3 155.9h.5M144.3 163.4h.5M146.5 150.7h.5M143.7 161.1h.5" stroke="#111" stroke-width="0.6" fill="none" opacity="0.72"/>
</g></g>
<polyline points="146.2,193.4 146.2,172.9 156.5,160.9 175.2,156.5 185.1,158.7 189.6,164.9 188.9,193.4" fill="none" stroke="#4a4a4a" stroke-width="0.65"/>
<text x="202.9" y="130.5" font-size="9.0" font-weight="normal" text-anchor="end" fill="#111" stroke="#111" stroke-width="0.12" >85%</text>
<rect x="118.7" y="119.2" width="2.6" height="1.4" fill="#8a8a8a"/>
<rect x="122.9" y="116.6" width="1.2" height="1.3" fill="#6a6a6a"/>
<rect x="118.7" y="137.3" width="2.6" height="1.4" fill="#8a8a8a"/>
<rect x="122.9" y="134.7" width="1.2" height="1.3" fill="#6a6a6a"/>
<rect x="118.7" y="155.5" width="2.6" height="1.4" fill="#8a8a8a"/>
<rect x="122.9" y="152.9" width="1.2" height="1.3" fill="#6a6a6a"/>
<rect x="118.7" y="173.6" width="2.6" height="1.4" fill="#8a8a8a"/>
<rect x="122.9" y="171.0" width="1.2" height="1.3" fill="#6a6a6a"/>
<rect x="118.7" y="191.7" width="2.6" height="1.4" fill="#8a8a8a"/>
<rect x="122.9" y="189.1" width="1.2" height="1.3" fill="#6a6a6a"/>
<rect x="128.1" y="198.3" width="0.9" height="1.4" fill="#8a8a8a"/>
<rect x="141.7" y="198.3" width="2.7" height="1.4" fill="#8a8a8a"/>
<rect x="156.3" y="198.3" width="2.7" height="1.4" fill="#8a8a8a"/>
<rect x="170.9" y="198.3" width="2.7" height="1.4" fill="#8a8a8a"/>
<rect x="185.5" y="198.3" width="2.7" height="1.4" fill="#8a8a8a"/>
<rect x="199.6" y="198.3" width="3.6" height="1.4" fill="#8a8a8a"/>
<text x="-0.6" y="14.6" font-size="12" font-weight="bold" text-anchor="start" fill="#000" stroke="#000" stroke-width="0.22" >A</text>
<text x="68.6" y="20.4" font-size="9.0" font-weight="bold" text-anchor="middle" fill="#000" stroke="#000" stroke-width="0.22" >Control</text>
<text x="166.5" y="20.4" font-size="9.0" font-weight="bold" text-anchor="middle" fill="#000" stroke="#000" stroke-width="0.22" >30 µM DEX</text>
<text x="208.4" y="64.2" font-size="9.0" font-weight="bold" text-anchor="start" fill="#000" stroke="#000" stroke-width="0.22" >Control</text>
<text x="208.4" y="150.4" font-size="9.0" font-weight="bold" text-anchor="start" fill="#000" stroke="#000" stroke-width="0.22" >1 µM</text>
<text x="208.4" y="160.2" font-size="9.0" font-weight="bold" text-anchor="start" fill="#000" stroke="#000" stroke-width="0.22" >Mifepristone</text>
<line x1="11.9" y1="157.5" x2="11.9" y2="29" stroke="#222" stroke-width="1.3"/>
<path d="M11.9 25.0 L15.0 30.8 L11.9 29.3 L8.8 30.8Z" fill="#111"/>
<text transform="translate(15.2,194.6) rotate(-90)" font-size="10.2" font-weight="bold" stroke="#000" stroke-width="0.22">7AAD</text>
<text x="29.4" y="212.6" font-size="10" font-weight="bold" text-anchor="start" fill="#000" stroke="#000" stroke-width="0.22" >FSC</text>
<line x1="55.5" y1="207.3" x2="202" y2="207.3" stroke="#111" stroke-width="1.0"/>
<path d="M206 207.3 L200.2 204.7 L201.6 207.3 L200.2 209.9Z" fill="#111"/>
</g>
<g id="panelB">
<path d="M315.6 11.0 V210.9 M312.0 207.5 H520" fill="none" stroke="#969696" stroke-width="1"/>
<line x1="312.0" y1="207.50" x2="315.6" y2="207.50" stroke="#969696" stroke-width="1"/>
<text x="307.40000000000003" y="211.1" font-size="10.1" font-weight="bold" text-anchor="end" fill="#000" stroke="#000" stroke-width="0.22" >0</text>
<line x1="312.0" y1="187.85" x2="315.6" y2="187.85" stroke="#969696" stroke-width="1"/>
<text x="307.40000000000003" y="191.45" font-size="10.1" font-weight="bold" text-anchor="end" fill="#000" stroke="#000" stroke-width="0.22" >10</text>
<line x1="312.0" y1="168.20" x2="315.6" y2="168.20" stroke="#969696" stroke-width="1"/>
<text x="307.40000000000003" y="171.8" font-size="10.1" font-weight="bold" text-anchor="end" fill="#000" stroke="#000" stroke-width="0.22" >20</text>
<line x1="312.0" y1="148.55" x2="315.6" y2="148.55" stroke="#969696" stroke-width="1"/>
<text x="307.40000000000003" y="152.15" font-size="10.1" font-weight="bold" text-anchor="end" fill="#000" stroke="#000" stroke-width="0.22" >30</text>
<line x1="312.0" y1="128.90" x2="315.6" y2="128.90" stroke="#969696" stroke-width="1"/>
<text x="307.40000000000003" y="132.5" font-size="10.1" font-weight="bold" text-anchor="end" fill="#000" stroke="#000" stroke-width="0.22" >40</text>
<line x1="312.0" y1="109.25" x2="315.6" y2="109.25" stroke="#969696" stroke-width="1"/>
<text x="307.40000000000003" y="112.85" font-size="10.1" font-weight="bold" text-anchor="end" fill="#000" stroke="#000" stroke-width="0.22" >50</text>
<line x1="312.0" y1="89.60" x2="315.6" y2="89.60" stroke="#969696" stroke-width="1"/>
<text x="307.40000000000003" y="93.2" font-size="10.1" font-weight="bold" text-anchor="end" fill="#000" stroke="#000" stroke-width="0.22" >60</text>
<line x1="312.0" y1="69.95" x2="315.6" y2="69.95" stroke="#969696" stroke-width="1"/>
<text x="307.40000000000003" y="73.55" font-size="10.1" font-weight="bold" text-anchor="end" fill="#000" stroke="#000" stroke-width="0.22" >70</text>
<line x1="312.0" y1="50.30" x2="315.6" y2="50.30" stroke="#969696" stroke-width="1"/>
<text x="307.40000000000003" y="53.9" font-size="10.1" font-weight="bold" text-anchor="end" fill="#000" stroke="#000" stroke-width="0.22" >80</text>
<line x1="312.0" y1="30.65" x2="315.6" y2="30.65" stroke="#969696" stroke-width="1"/>
<text x="307.40000000000003" y="34.25" font-size="10.1" font-weight="bold" text-anchor="end" fill="#000" stroke="#000" stroke-width="0.22" >90</text>
<line x1="312.0" y1="11.00" x2="315.6" y2="11.00" stroke="#969696" stroke-width="1"/>
<text x="307.40000000000003" y="14.6" font-size="10.1" font-weight="bold" text-anchor="end" fill="#000" stroke="#000" stroke-width="0.22" >100</text>
<line x1="417.3" y1="207.5" x2="417.3" y2="211.0" stroke="#969696" stroke-width="1"/>
<line x1="519.3" y1="207.5" x2="519.3" y2="211.0" stroke="#969696" stroke-width="1"/>
<path d="M366.6 199.6L468.4 187.8M366.6 187.8L468.4 165.6M366.6 185.9L468.4 162.7M366.6 183.9L468.4 153.9M366.6 180.0L468.4 151.3M366.6 189.8L468.4 142.7M366.6 187.8L468.4 132.8M366.6 185.9L468.4 119.1M366.6 183.9L468.4 136.8M366.6 182.0L468.4 109.2M366.6 182.0L468.4 140.7M366.6 180.0L468.4 126.9M366.6 178.0L468.4 138.7M366.6 178.0L468.4 99.4M366.6 176.1L468.4 130.9M366.6 176.1L468.4 89.6M366.6 174.1L468.4 134.8M366.6 174.1L468.4 123.0M366.6 172.1L468.4 115.1M366.6 172.1L468.4 77.8M366.6 170.2L468.4 128.9M366.6 170.2L468.4 105.3M366.6 168.2L468.4 125.0M366.6 168.2L468.4 93.5M366.6 166.2L468.4 121.0M366.6 166.2L468.4 69.9M366.6 164.3L468.4 117.1M366.6 164.3L468.4 138.7M366.6 183.9L468.4 113.2M366.6 178.0L468.4 111.2M366.6 172.1L468.4 121.0M366.6 168.2L468.4 136.8M366.6 166.2L468.4 103.4M366.6 175.1L468.4 107.3M366.6 169.2L468.4 117.1M366.6 161.1L468.4 87.6M366.6 159.4L468.4 107.3M366.6 157.4L468.4 73.9M366.6 156.4L468.4 48.3M366.6 155.4L468.4 101.4M366.6 149.5L468.4 95.5M366.6 148.6L468.4 50.3M366.6 146.6L468.4 91.6M366.6 144.6L468.4 75.8M366.6 140.7L468.4 103.4M366.6 138.7L468.4 68.0M366.6 134.8L468.4 113.2M366.6 132.8L468.4 97.5M366.6 128.9L468.4 46.4M366.6 125.0L468.4 28.7M366.6 123.0L468.4 89.6M366.6 120.1L468.4 79.8M366.6 109.2L468.4 91.6" stroke="#000" stroke-width="1.55" fill="none"/>
<circle cx="366.6" cy="199.6" r="2.9"/><circle cx="468.4" cy="187.8" r="2.9"/>
<circle cx="366.6" cy="187.8" r="2.9"/><circle cx="468.4" cy="165.6" r="2.9"/>
<circle cx="366.6" cy="185.9" r="2.9"/><circle cx="468.4" cy="162.7" r="2.9"/>
<circle cx="366.6" cy="183.9" r="2.9"/><circle cx="468.4" cy="153.9" r="2.9"/>
<circle cx="366.6" cy="180.0" r="2.9"/><circle cx="468.4" cy="151.3" r="2.9"/>
<circle cx="366.6" cy="189.8" r="2.9"/><circle cx="468.4" cy="142.7" r="2.9"/>
<circle cx="366.6" cy="187.8" r="2.9"/><circle cx="468.4" cy="132.8" r="2.9"/>
<circle cx="366.6" cy="185.9" r="2.9"/><circle cx="468.4" cy="119.1" r="2.9"/>
<circle cx="366.6" cy="183.9" r="2.9"/><circle cx="468.4" cy="136.8" r="2.9"/>
<circle cx="366.6" cy="182.0" r="2.9"/><circle cx="468.4" cy="109.2" r="2.9"/>
<circle cx="366.6" cy="182.0" r="2.9"/><circle cx="468.4" cy="140.7" r="2.9"/>
<circle cx="366.6" cy="180.0" r="2.9"/><circle cx="468.4" cy="126.9" r="2.9"/>
<circle cx="366.6" cy="178.0" r="2.9"/><circle cx="468.4" cy="138.7" r="2.9"/>
<circle cx="366.6" cy="178.0" r="2.9"/><circle cx="468.4" cy="99.4" r="2.9"/>
<circle cx="366.6" cy="176.1" r="2.9"/><circle cx="468.4" cy="130.9" r="2.9"/>
<circle cx="366.6" cy="176.1" r="2.9"/><circle cx="468.4" cy="89.6" r="2.9"/>
<circle cx="366.6" cy="174.1" r="2.9"/><circle cx="468.4" cy="134.8" r="2.9"/>
<circle cx="366.6" cy="174.1" r="2.9"/><circle cx="468.4" cy="123.0" r="2.9"/>
<circle cx="366.6" cy="172.1" r="2.9"/><circle cx="468.4" cy="115.1" r="2.9"/>
<circle cx="366.6" cy="172.1" r="2.9"/><circle cx="468.4" cy="77.8" r="2.9"/>
<circle cx="366.6" cy="170.2" r="2.9"/><circle cx="468.4" cy="128.9" r="2.9"/>
<circle cx="366.6" cy="170.2" r="2.9"/><circle cx="468.4" cy="105.3" r="2.9"/>
<circle cx="366.6" cy="168.2" r="2.9"/><circle cx="468.4" cy="125.0" r="2.9"/>
<circle cx="366.6" cy="168.2" r="2.9"/><circle cx="468.4" cy="93.5" r="2.9"/>
<circle cx="366.6" cy="166.2" r="2.9"/><circle cx="468.4" cy="121.0" r="2.9"/>
<circle cx="366.6" cy="166.2" r="2.9"/><circle cx="468.4" cy="69.9" r="2.9"/>
<circle cx="366.6" cy="164.3" r="2.9"/><circle cx="468.4" cy="117.1" r="2.9"/>
<circle cx="366.6" cy="164.3" r="2.9"/><circle cx="468.4" cy="138.7" r="2.9"/>
<circle cx="366.6" cy="183.9" r="2.9"/><circle cx="468.4" cy="113.2" r="2.9"/>
<circle cx="366.6" cy="178.0" r="2.9"/><circle cx="468.4" cy="111.2" r="2.9"/>
<circle cx="366.6" cy="172.1" r="2.9"/><circle cx="468.4" cy="121.0" r="2.9"/>
<circle cx="366.6" cy="168.2" r="2.9"/><circle cx="468.4" cy="136.8" r="2.9"/>
<circle cx="366.6" cy="166.2" r="2.9"/><circle cx="468.4" cy="103.4" r="2.9"/>
<circle cx="366.6" cy="175.1" r="2.9"/><circle cx="468.4" cy="107.3" r="2.9"/>
<circle cx="366.6" cy="169.2" r="2.9"/><circle cx="468.4" cy="117.1" r="2.9"/>
<circle cx="366.6" cy="161.1" r="2.9"/><circle cx="468.4" cy="87.6" r="2.9"/>
<circle cx="366.6" cy="159.4" r="2.9"/><circle cx="468.4" cy="107.3" r="2.9"/>
<circle cx="366.6" cy="157.4" r="2.9"/><circle cx="468.4" cy="73.9" r="2.9"/>
<circle cx="366.6" cy="156.4" r="2.9"/><circle cx="468.4" cy="48.3" r="2.9"/>
<circle cx="366.6" cy="155.4" r="2.9"/><circle cx="468.4" cy="101.4" r="2.9"/>
<circle cx="366.6" cy="149.5" r="2.9"/><circle cx="468.4" cy="95.5" r="2.9"/>
<circle cx="366.6" cy="148.6" r="2.9"/><circle cx="468.4" cy="50.3" r="2.9"/>
<circle cx="366.6" cy="146.6" r="2.9"/><circle cx="468.4" cy="91.6" r="2.9"/>
<circle cx="366.6" cy="144.6" r="2.9"/><circle cx="468.4" cy="75.8" r="2.9"/>
<circle cx="366.6" cy="140.7" r="2.9"/><circle cx="468.4" cy="103.4" r="2.9"/>
<circle cx="366.6" cy="138.7" r="2.9"/><circle cx="468.4" cy="68.0" r="2.9"/>
<circle cx="366.6" cy="134.8" r="2.9"/><circle cx="468.4" cy="113.2" r="2.9"/>
<circle cx="366.6" cy="132.8" r="2.9"/><circle cx="468.4" cy="97.5" r="2.9"/>
<circle cx="366.6" cy="128.9" r="2.9"/><circle cx="468.4" cy="46.4" r="2.9"/>
<circle cx="366.6" cy="125.0" r="2.9"/><circle cx="468.4" cy="28.7" r="2.9"/>
<circle cx="366.6" cy="123.0" r="2.9"/><circle cx="468.4" cy="89.6" r="2.9"/>
<circle cx="366.6" cy="120.1" r="2.9"/><circle cx="468.4" cy="79.8" r="2.9"/>
<circle cx="366.6" cy="109.2" r="2.9"/><circle cx="468.4" cy="91.6" r="2.9"/>
<path d="M366.6 95.5L468.4 53.2" stroke="#000" stroke-width="1.45"/>
<path d="M366.6 92.4l3.1 3.1l-3.1 3.1l-3.1 -3.1Z" fill="#4a4a4a"/>
<path d="M468.4 50.1l3.1 3.1l-3.1 3.1l-3.1 -3.1Z" fill="#4a4a4a"/>
<path d="M366.6 161.0l2.3 2.3l-2.3 2.3l-2.3 -2.3Z" fill="#f4f4f4"/>
<line x1="367.5" y1="10.5" x2="466.40000000000003" y2="10.5" stroke="#000" stroke-width="1.4"/>
<path d="M362.3 10.5 L368.5 7.7 L368.5 13.3Z" fill="#000"/>
<path d="M471.6 10.5 L465.40000000000003 7.7 L465.40000000000003 13.3Z" fill="#000"/>
<text x="419.2" y="9.4" font-size="13" font-weight="bold" text-anchor="middle" fill="#000" stroke="#000" stroke-width="0.22" letter-spacing="2.4">**</text>
<text x="268.9" y="14.6" font-size="12" font-weight="bold" text-anchor="start" fill="#000" stroke="#000" stroke-width="0.22" >B</text>
<text x="366.6" y="225.7" font-size="12" font-weight="bold" text-anchor="middle" fill="#000" stroke="#000" stroke-width="0.22" >Control</text>
<text x="468.4" y="225.7" font-size="12" font-weight="bold" text-anchor="middle" fill="#000" stroke="#000" stroke-width="0.22" >DEX</text>
<text transform="translate(283.4,149.2) rotate(-90)" font-size="11.8" font-weight="bold" stroke="#000" stroke-width="0.22">7AAD<tspan dy="-3.6" font-size="7">+</tspan><tspan dy="3.6"> cells (%)</tspan></text>
</g>
<g id="panelD">
<path d="M319.6 245.0 V461.0 M316.0 457.6 H518" fill="none" stroke="#969696" stroke-width="1"/>
<line x1="316.0" y1="457.60" x2="319.6" y2="457.60" stroke="#969696" stroke-width="1"/>
<text x="312.20000000000005" y="460.9" font-size="9.2" font-weight="bold" text-anchor="end" fill="#000" stroke="#000" stroke-width="0.22" >200</text>
<line x1="316.0" y1="427.23" x2="319.6" y2="427.23" stroke="#969696" stroke-width="1"/>
<text x="312.20000000000005" y="430.53" font-size="9.2" font-weight="bold" text-anchor="end" fill="#000" stroke="#000" stroke-width="0.22" >250</text>
<line x1="316.0" y1="396.86" x2="319.6" y2="396.86" stroke="#969696" stroke-width="1"/>
<text x="312.20000000000005" y="400.16" font-size="9.2" font-weight="bold" text-anchor="end" fill="#000" stroke="#000" stroke-width="0.22" >300</text>
<line x1="316.0" y1="366.49" x2="319.6" y2="366.49" stroke="#969696" stroke-width="1"/>
<text x="312.20000000000005" y="369.79" font-size="9.2" font-weight="bold" text-anchor="end" fill="#000" stroke="#000" stroke-width="0.22" >350</text>
<line x1="316.0" y1="336.11" x2="319.6" y2="336.11" stroke="#969696" stroke-width="1"/>
<text x="312.20000000000005" y="339.41" font-size="9.2" font-weight="bold" text-anchor="end" fill="#000" stroke="#000" stroke-width="0.22" >400</text>
<line x1="316.0" y1="305.74" x2="319.6" y2="305.74" stroke="#969696" stroke-width="1"/>
<text x="312.20000000000005" y="309.04" font-size="9.2" font-weight="bold" text-anchor="end" fill="#000" stroke="#000" stroke-width="0.22" >450</text>
<line x1="316.0" y1="275.37" x2="319.6" y2="275.37" stroke="#969696" stroke-width="1"/>
<text x="312.20000000000005" y="278.67" font-size="9.2" font-weight="bold" text-anchor="end" fill="#000" stroke="#000" stroke-width="0.22" >500</text>
<line x1="316.0" y1="245.00" x2="319.6" y2="245.00" stroke="#969696" stroke-width="1"/>
<text x="312.20000000000005" y="248.3" font-size="9.2" font-weight="bold" text-anchor="end" fill="#000" stroke="#000" stroke-width="0.22" >550</text>
<line x1="419.0" y1="457.6" x2="419.0" y2="461.1" stroke="#969696" stroke-width="1"/>
<line x1="517.6" y1="457.6" x2="517.6" y2="461.1" stroke="#969696" stroke-width="1"/>
<path d="M369.0 272.3L467.6 359.2M369.0 282.7L467.6 310.0M369.0 287.5L467.6 325.2M369.0 302.7L467.6 339.8M369.0 302.7L467.6 352.5M369.0 311.8L467.6 366.5M369.0 316.1L467.6 329.4M369.0 327.0L467.6 369.5M369.0 328.8L467.6 396.9M369.0 331.3L467.6 372.6M369.0 333.1L467.6 365.3M369.0 334.9L467.6 385.9M369.0 336.1L467.6 375.6M369.0 338.5L467.6 415.1M369.0 339.2L467.6 378.6M369.0 344.0L467.6 369.5M369.0 343.4L467.6 393.8M369.0 345.2L467.6 381.1M369.0 347.0L467.6 402.9M369.0 348.3L467.6 382.9M369.0 349.5L467.6 367.7M369.0 350.7L467.6 384.7M369.0 351.9L467.6 407.8M369.0 353.1L467.6 387.1M369.0 354.3L467.6 373.8M369.0 355.6L467.6 389.0M369.0 356.8L467.6 399.3M369.0 358.0L467.6 390.8M369.0 359.2L467.6 377.4M369.0 360.4L467.6 412.0M369.0 361.6L467.6 393.2M369.0 362.8L467.6 383.5M369.0 364.1L467.6 396.9M369.0 365.3L467.6 416.3M369.0 366.5L467.6 399.3M369.0 367.7L467.6 387.7M369.0 368.9L467.6 401.1M369.0 370.1L467.6 419.9M369.0 371.3L467.6 402.9M369.0 372.6L467.6 392.0M369.0 373.8L467.6 405.4M369.0 375.6L467.6 407.2M369.0 377.4L467.6 422.4M369.0 378.0L467.6 395.6M369.0 376.8L467.6 410.2M369.0 385.9L467.6 412.0M369.0 387.1L467.6 424.2M369.0 385.9L467.6 399.3M369.0 387.7L467.6 413.9M369.0 390.8L467.6 416.3M369.0 393.2L467.6 426.0M369.0 395.0L467.6 406.0M369.0 396.9L467.6 419.9M369.0 399.3L467.6 422.4M369.0 401.7L467.6 423.0M369.0 393.8L467.6 438.2M369.0 404.1L467.6 418.7M369.0 392.0L467.6 427.2M369.0 432.1L467.6 435.7" stroke="#000" stroke-width="1.45" fill="none"/>
<circle cx="369.0" cy="272.3" r="2.9"/><circle cx="467.6" cy="359.2" r="2.9"/>
<circle cx="369.0" cy="282.7" r="2.9"/><circle cx="467.6" cy="310.0" r="2.9"/>
<circle cx="369.0" cy="287.5" r="2.9"/><circle cx="467.6" cy="325.2" r="2.9"/>
<circle cx="369.0" cy="302.7" r="2.9"/><circle cx="467.6" cy="339.8" r="2.9"/>
<circle cx="369.0" cy="302.7" r="2.9"/><circle cx="467.6" cy="352.5" r="2.9"/>
<circle cx="369.0" cy="311.8" r="2.9"/><circle cx="467.6" cy="366.5" r="2.9"/>
<circle cx="369.0" cy="316.1" r="2.9"/><circle cx="467.6" cy="329.4" r="2.9"/>
<circle cx="369.0" cy="327.0" r="2.9"/><circle cx="467.6" cy="369.5" r="2.9"/>
<circle cx="369.0" cy="328.8" r="2.9"/><circle cx="467.6" cy="396.9" r="2.9"/>
<circle cx="369.0" cy="331.3" r="2.9"/><circle cx="467.6" cy="372.6" r="2.9"/>
<circle cx="369.0" cy="333.1" r="2.9"/><circle cx="467.6" cy="365.3" r="2.9"/>
<circle cx="369.0" cy="334.9" r="2.9"/><circle cx="467.6" cy="385.9" r="2.9"/>
<circle cx="369.0" cy="336.1" r="2.9"/><circle cx="467.6" cy="375.6" r="2.9"/>
<circle cx="369.0" cy="338.5" r="2.9"/><circle cx="467.6" cy="415.1" r="2.9"/>
<circle cx="369.0" cy="339.2" r="2.9"/><circle cx="467.6" cy="378.6" r="2.9"/>
<circle cx="369.0" cy="344.0" r="2.9"/><circle cx="467.6" cy="369.5" r="2.9"/>
<circle cx="369.0" cy="343.4" r="2.9"/><circle cx="467.6" cy="393.8" r="2.9"/>
<circle cx="369.0" cy="345.2" r="2.9"/><circle cx="467.6" cy="381.1" r="2.9"/>
<circle cx="369.0" cy="347.0" r="2.9"/><circle cx="467.6" cy="402.9" r="2.9"/>
<circle cx="369.0" cy="348.3" r="2.9"/><circle cx="467.6" cy="382.9" r="2.9"/>
<circle cx="369.0" cy="349.5" r="2.9"/><circle cx="467.6" cy="367.7" r="2.9"/>
<circle cx="369.0" cy="350.7" r="2.9"/><circle cx="467.6" cy="384.7" r="2.9"/>
<circle cx="369.0" cy="351.9" r="2.9"/><circle cx="467.6" cy="407.8" r="2.9"/>
<circle cx="369.0" cy="353.1" r="2.9"/><circle cx="467.6" cy="387.1" r="2.9"/>
<circle cx="369.0" cy="354.3" r="2.9"/><circle cx="467.6" cy="373.8" r="2.9"/>
<circle cx="369.0" cy="355.6" r="2.9"/><circle cx="467.6" cy="389.0" r="2.9"/>
<circle cx="369.0" cy="356.8" r="2.9"/><circle cx="467.6" cy="399.3" r="2.9"/>
<circle cx="369.0" cy="358.0" r="2.9"/><circle cx="467.6" cy="390.8" r="2.9"/>
<circle cx="369.0" cy="359.2" r="2.9"/><circle cx="467.6" cy="377.4" r="2.9"/>
<circle cx="369.0" cy="360.4" r="2.9"/><circle cx="467.6" cy="412.0" r="2.9"/>
<circle cx="369.0" cy="361.6" r="2.9"/><circle cx="467.6" cy="393.2" r="2.9"/>
<circle cx="369.0" cy="362.8" r="2.9"/><circle cx="467.6" cy="383.5" r="2.9"/>
<circle cx="369.0" cy="364.1" r="2.9"/><circle cx="467.6" cy="396.9" r="2.9"/>
<circle cx="369.0" cy="365.3" r="2.9"/><circle cx="467.6" cy="416.3" r="2.9"/>
<circle cx="369.0" cy="366.5" r="2.9"/><circle cx="467.6" cy="399.3" r="2.9"/>
<circle cx="369.0" cy="367.7" r="2.9"/><circle cx="467.6" cy="387.7" r="2.9"/>
<circle cx="369.0" cy="368.9" r="2.9"/><circle cx="467.6" cy="401.1" r="2.9"/>
<circle cx="369.0" cy="370.1" r="2.9"/><circle cx="467.6" cy="419.9" r="2.9"/>
<circle cx="369.0" cy="371.3" r="2.9"/><circle cx="467.6" cy="402.9" r="2.9"/>
<circle cx="369.0" cy="372.6" r="2.9"/><circle cx="467.6" cy="392.0" r="2.9"/>
<circle cx="369.0" cy="373.8" r="2.9"/><circle cx="467.6" cy="405.4" r="2.9"/>
<circle cx="369.0" cy="375.6" r="2.9"/><circle cx="467.6" cy="407.2" r="2.9"/>
<circle cx="369.0" cy="377.4" r="2.9"/><circle cx="467.6" cy="422.4" r="2.9"/>
<circle cx="369.0" cy="378.0" r="2.9"/><circle cx="467.6" cy="395.6" r="2.9"/>
<circle cx="369.0" cy="376.8" r="2.9"/><circle cx="467.6" cy="410.2" r="2.9"/>
<circle cx="369.0" cy="385.9" r="2.9"/><circle cx="467.6" cy="412.0" r="2.9"/>
<circle cx="369.0" cy="387.1" r="2.9"/><circle cx="467.6" cy="424.2" r="2.9"/>
<circle cx="369.0" cy="385.9" r="2.9"/><circle cx="467.6" cy="399.3" r="2.9"/>
<circle cx="369.0" cy="387.7" r="2.9"/><circle cx="467.6" cy="413.9" r="2.9"/>
<circle cx="369.0" cy="390.8" r="2.9"/><circle cx="467.6" cy="416.3" r="2.9"/>
<circle cx="369.0" cy="393.2" r="2.9"/><circle cx="467.6" cy="426.0" r="2.9"/>
<circle cx="369.0" cy="395.0" r="2.9"/><circle cx="467.6" cy="406.0" r="2.9"/>
<circle cx="369.0" cy="396.9" r="2.9"/><circle cx="467.6" cy="419.9" r="2.9"/>
<circle cx="369.0" cy="399.3" r="2.9"/><circle cx="467.6" cy="422.4" r="2.9"/>
<circle cx="369.0" cy="401.7" r="2.9"/><circle cx="467.6" cy="423.0" r="2.9"/>
<circle cx="369.0" cy="393.8" r="2.9"/><circle cx="467.6" cy="438.2" r="2.9"/>
<circle cx="369.0" cy="404.1" r="2.9"/><circle cx="467.6" cy="418.7" r="2.9"/>
<circle cx="369.0" cy="392.0" r="2.9"/><circle cx="467.6" cy="427.2" r="2.9"/>
<circle cx="369.0" cy="432.1" r="2.9"/><circle cx="467.6" cy="435.7" r="2.9"/>
<line x1="372.8" y1="252.0" x2="465.2" y2="252.0" stroke="#000" stroke-width="1.4"/>
<path d="M367.6 252.0 L373.8 249.2 L373.8 254.8Z" fill="#000"/>
<path d="M470.4 252.0 L464.2 249.2 L464.2 254.8Z" fill="#000"/>
<text x="420.2" y="251.4" font-size="13" font-weight="bold" text-anchor="middle" fill="#000" stroke="#000" stroke-width="0.22" letter-spacing="2.4">**</text>
<text x="269.0" y="244.6" font-size="12" font-weight="bold" text-anchor="start" fill="#000" stroke="#000" stroke-width="0.22" >D</text>
<text x="369.0" y="475.6" font-size="12" font-weight="bold" text-anchor="middle" fill="#000" stroke="#000" stroke-width="0.22" >Control</text>
<text x="467.6" y="475.6" font-size="12" font-weight="bold" text-anchor="middle" fill="#000" stroke="#000" stroke-width="0.22" >DEX</text>
<text transform="translate(287.4,368.4) rotate(-90)" font-size="12" font-weight="bold" stroke="#000" stroke-width="0.22">FSC Median</text>
</g>
<g id="panelC">
<text x="0.2" y="244.2" font-size="12" font-weight="bold" text-anchor="start" fill="#000" stroke="#000" stroke-width="0.22" >C</text>
<text x="60.6" y="246.6" font-size="7.0" font-weight="bold" text-anchor="end" fill="#000" stroke="#000" stroke-width="0.22" >30 µM DEX:</text>
<text x="59.9" y="262.3" font-size="7.0" font-weight="normal" text-anchor="end" fill="#000" stroke="#000" stroke-width="0.12" >95 kDa</text>
<text x="59.9" y="281.3" font-size="7.0" font-weight="normal" text-anchor="end" fill="#000" stroke="#000" stroke-width="0.12" >42 kDa</text>
<text x="60.6" y="298.7" font-size="7.0" font-weight="bold" text-anchor="end" fill="#000" stroke="#000" stroke-width="0.22" >CLL Patient:</text>
<text x="245.4" y="261.5" font-size="7.0" font-weight="bold" text-anchor="start" fill="#000" stroke="#000" stroke-width="0.22" >P-GR</text>
<text x="245.4" y="281.0" font-size="7.0" font-weight="bold" text-anchor="start" fill="#000" stroke="#000" stroke-width="0.22" >β-actin</text>
<defs><filter id="bl" x="-30%" y="-60%" width="160%" height="220%"><feGaussianBlur stdDeviation="0.9"/></filter></defs>
<clipPath id="cb0t"><rect x="64.4" y="253.0" width="25.5" height="13.9"/></clipPath>
<rect x="64.4" y="253.0" width="25.5" height="13.9" fill="#6c6c6c"/>
<g clip-path="url(#cb0t)"><g filter="url(#bl)">
<ellipse cx="71.9" cy="260.8" rx="3.9" ry="1.25" fill="#0a0a0a" opacity="1.0"/>
<rect x="78.75" y="258.02" width="9.31" height="5.95" rx="2.56" fill="#0a0a0a" opacity="1.0"/>
<rect x="80.77" y="258.77" width="6.46" height="4.46" rx="1.92" fill="#0a0a0a" opacity="1.0"/>
</g></g>
<clipPath id="cb0b"><rect x="64.4" y="272.4" width="25.5" height="14.1"/></clipPath>
<rect x="64.4" y="272.4" width="25.5" height="14.1" fill="#666"/>
<g clip-path="url(#cb0b)"><g filter="url(#bl)">
<rect x="65.66" y="278.08" width="9.88" height="4.84" rx="2.60" fill="#0a0a0a" opacity="1.0"/>
<rect x="78.30" y="277.50" width="11.40" height="5.39" rx="2.90" fill="#0a0a0a" opacity="1.0"/>
<ellipse cx="77" cy="280.6" rx="3" ry="1.0" fill="#0a0a0a" opacity="0.7"/>
</g></g>
<text x="72.7" y="246.3" font-size="7.4" font-weight="bold" text-anchor="middle" fill="#000" stroke="#000" stroke-width="0.22" >-</text>
<text x="83.1" y="246.7" font-size="6.6" font-weight="bold" text-anchor="middle" fill="#000" stroke="#000" stroke-width="0.22" >+</text>
<text x="76.0" y="299.2" font-size="7.4" font-weight="bold" text-anchor="middle" fill="#000" stroke="#000" stroke-width="0.22" >17</text>
<clipPath id="cb1t"><rect x="96.5" y="253.0" width="23.5" height="13.9"/></clipPath>
<rect x="96.5" y="253.0" width="23.5" height="13.9" fill="#6c6c6c"/>
<g clip-path="url(#cb1t)"><g filter="url(#bl)">
<ellipse cx="102.5" cy="260.4" rx="3.4" ry="0.8" fill="#0a0a0a" opacity="0.28"/>
<rect x="108.25" y="257.33" width="9.50" height="6.14" rx="2.64" fill="#0a0a0a" opacity="1.0"/>
<rect x="109.98" y="257.88" width="6.84" height="4.65" rx="2.00" fill="#0a0a0a" opacity="1.0"/>
</g></g>
<clipPath id="cb1b"><rect x="96.5" y="272.4" width="23.5" height="14.1"/></clipPath>
<rect x="96.5" y="272.4" width="23.5" height="14.1" fill="#666"/>
<g clip-path="url(#cb1b)"><g filter="url(#bl)">
<rect x="96.98" y="276.30" width="10.83" height="5.39" rx="2.90" fill="#0a0a0a" opacity="1.0"/>
<rect x="108.98" y="275.92" width="10.83" height="5.77" rx="3.10" fill="#0a0a0a" opacity="1.0"/>
<ellipse cx="108.5" cy="278.9" rx="4" ry="1.7" fill="#0a0a0a" opacity="1.0"/>
</g></g>
<text x="102.3" y="246.3" font-size="7.4" font-weight="bold" text-anchor="middle" fill="#000" stroke="#000" stroke-width="0.22" >-</text>
<text x="112.5" y="246.7" font-size="6.6" font-weight="bold" text-anchor="middle" fill="#000" stroke="#000" stroke-width="0.22" >+</text>
<text x="108.6" y="299.2" font-size="7.4" font-weight="bold" text-anchor="middle" fill="#000" stroke="#000" stroke-width="0.22" >35</text>
<clipPath id="cb2t"><rect x="126.1" y="253.3" width="23.7" height="12.2"/></clipPath>
<rect x="126.1" y="253.3" width="23.7" height="12.2" fill="#6a6a6a"/>
<g clip-path="url(#cb2t)"><g filter="url(#bl)">
<ellipse cx="132.6" cy="257.5" rx="3.9" ry="1.25" fill="#0a0a0a" opacity="1.0"/>
<rect x="139.15" y="255.91" width="9.50" height="8.18" rx="3.52" fill="#0a0a0a" opacity="0.93"/>
<rect x="141.17" y="256.61" width="6.46" height="5.58" rx="2.40" fill="#0a0a0a" opacity="0.9"/>
</g></g>
<clipPath id="cb2b"><rect x="126.1" y="272.0" width="23.7" height="15.4"/></clipPath>
<rect x="126.1" y="272.0" width="23.7" height="15.4" fill="#686868"/>
<g clip-path="url(#cb2b)"><g filter="url(#bl)">
<rect x="126.59" y="275.33" width="11.21" height="6.14" rx="3.30" fill="#0a0a0a" opacity="1.0"/>
<rect x="138.40" y="274.94" width="11.21" height="6.51" rx="3.50" fill="#0a0a0a" opacity="1.0"/>
<ellipse cx="138" cy="278.2" rx="5" ry="1.95" fill="#0a0a0a" opacity="1.0"/>
</g></g>
<text x="133.9" y="246.3" font-size="7.4" font-weight="bold" text-anchor="middle" fill="#000" stroke="#000" stroke-width="0.22" >-</text>
<text x="144.5" y="246.7" font-size="6.6" font-weight="bold" text-anchor="middle" fill="#000" stroke="#000" stroke-width="0.22" >+</text>
<text x="137.7" y="299.2" font-size="7.4" font-weight="bold" text-anchor="middle" fill="#000" stroke="#000" stroke-width="0.22" >26</text>
<clipPath id="cb3t"><rect x="155.7" y="253.3" width="21.9" height="12.0"/></clipPath>
<rect x="155.7" y="253.3" width="21.9" height="12.0" fill="#6a6a6a"/>
<g clip-path="url(#cb3t)"><g filter="url(#bl)">
<ellipse cx="160.0" cy="257.4" rx="4.4" ry="1.3" fill="#0a0a0a" opacity="1.0"/>
<rect x="166.67" y="255.28" width="10.26" height="7.44" rx="3.20" fill="#0a0a0a" opacity="1.0"/>
<rect x="168.39" y="256.21" width="7.22" height="5.58" rx="2.40" fill="#0a0a0a" opacity="1.0"/>
</g></g>
<clipPath id="cb3b"><rect x="155.7" y="272.0" width="21.9" height="15.8"/></clipPath>
<rect x="155.7" y="272.0" width="21.9" height="15.8" fill="#686868"/>
<g clip-path="url(#cb3b)"><g filter="url(#bl)">
<rect x="155.77" y="275.24" width="10.26" height="6.32" rx="3.40" fill="#0a0a0a" opacity="1.0"/>
<rect x="166.97" y="275.05" width="10.45" height="6.70" rx="3.60" fill="#0a0a0a" opacity="1.0"/>
<ellipse cx="166.5" cy="277.4" rx="4" ry="1.9" fill="#0a0a0a" opacity="1.0"/>
</g></g>
<text x="161.7" y="246.3" font-size="7.4" font-weight="bold" text-anchor="middle" fill="#000" stroke="#000" stroke-width="0.22" >-</text>
<text x="172.3" y="246.7" font-size="6.6" font-weight="bold" text-anchor="middle" fill="#000" stroke="#000" stroke-width="0.22" >+</text>
<text x="167.1" y="299.2" font-size="7.4" font-weight="bold" text-anchor="middle" fill="#000" stroke="#000" stroke-width="0.22" >27</text>
<clipPath id="cb4t"><rect x="183.5" y="252.8" width="26.4" height="13.0"/></clipPath>
<rect x="183.5" y="252.8" width="26.4" height="13.0" fill="#707070"/>
<g clip-path="url(#cb4t)"><g filter="url(#bl)">
<ellipse cx="184.2" cy="260.6" rx="1.0" ry="1.1" fill="#0a0a0a" opacity="0.9"/>
<rect x="198.97" y="255.88" width="10.45" height="7.44" rx="3.20" fill="#0a0a0a" opacity="1.0"/>
<rect x="200.60" y="256.81" width="7.60" height="5.58" rx="2.40" fill="#0a0a0a" opacity="1.0"/>
</g></g>
<clipPath id="cb4b"><rect x="183.5" y="271.8" width="26.4" height="14.0"/></clipPath>
<rect x="183.5" y="271.8" width="26.4" height="14.0" fill="#6c6c6c"/>
<g clip-path="url(#cb4b)"><g filter="url(#bl)">
<ellipse cx="191.5" cy="277.8" rx="4.2" ry="1.9" fill="#0a0a0a" opacity="1.0"/>
<rect x="197.58" y="275.41" width="10.45" height="5.58" rx="3.00" fill="#0a0a0a" opacity="1.0"/>
<ellipse cx="197" cy="278" rx="3" ry="0.8" fill="#0a0a0a" opacity="0.5"/>
</g></g>
<rect x="187.5" y="257.6" width="9" height="1.2" fill="#8c8c8c" opacity="0.7"/>
<text x="191.5" y="246.3" font-size="7.4" font-weight="bold" text-anchor="middle" fill="#000" stroke="#000" stroke-width="0.22" >-</text>
<text x="202.7" y="246.7" font-size="6.6" font-weight="bold" text-anchor="middle" fill="#000" stroke="#000" stroke-width="0.22" >+</text>
<text x="197.9" y="298.2" font-size="7.4" font-weight="bold" text-anchor="middle" fill="#000" stroke="#000" stroke-width="0.22" >29</text>
<clipPath id="cb5t"><rect x="216.3" y="252.4" width="24.0" height="13.4"/></clipPath>
<rect x="216.3" y="252.4" width="24.0" height="13.4" fill="#7a7a7a"/>
<g clip-path="url(#cb5t)"><g filter="url(#bl)">
<rect x="227.54" y="257.45" width="9.31" height="3.91" rx="1.68" fill="#0a0a0a" opacity="0.95"/>
<ellipse cx="232.2" cy="259.4" rx="3.4" ry="1.4" fill="#0a0a0a" opacity="0.9"/>
</g></g>
<clipPath id="cb5b"><rect x="216.3" y="271.8" width="24.0" height="14.0"/></clipPath>
<rect x="216.3" y="271.8" width="24.0" height="14.0" fill="#6e6e6e"/>
<g clip-path="url(#cb5b)"><g filter="url(#bl)">
<ellipse cx="221.0" cy="279.6" rx="4.8" ry="1.8" fill="#0a0a0a" opacity="1.0"/>
<rect x="227.13" y="277.10" width="12.54" height="5.21" rx="2.80" fill="#0a0a0a" opacity="1.0"/>
<ellipse cx="227" cy="279.7" rx="3" ry="1.0" fill="#0a0a0a" opacity="0.9"/>
</g></g>
<text x="222.7" y="246.3" font-size="7.4" font-weight="bold" text-anchor="middle" fill="#000" stroke="#000" stroke-width="0.22" >-</text>
<text x="233.7" y="246.7" font-size="6.6" font-weight="bold" text-anchor="middle" fill="#000" stroke="#000" stroke-width="0.22" >+</text>
<text x="228.0" y="297.8" font-size="7.4" font-weight="bold" text-anchor="middle" fill="#000" stroke="#000" stroke-width="0.22" >37</text>
<path d="M41.2 324.4 V463.8 M38.400000000000006 460.8 H260.6" fill="none" stroke="#969696" stroke-width="1"/>
<line x1="38.400000000000006" y1="460.80" x2="41.2" y2="460.80" stroke="#969696" stroke-width="1"/>
<text x="34.2" y="463.8" font-size="8.1" font-weight="bold" text-anchor="end" fill="#000" stroke="#000" stroke-width="0.22" >0</text>
<line x1="38.400000000000006" y1="447.16" x2="41.2" y2="447.16" stroke="#969696" stroke-width="1"/>
<text x="34.2" y="450.16" font-size="8.1" font-weight="bold" text-anchor="end" fill="#000" stroke="#000" stroke-width="0.22" >0.2</text>
<line x1="38.400000000000006" y1="433.52" x2="41.2" y2="433.52" stroke="#969696" stroke-width="1"/>
<text x="34.2" y="436.52" font-size="8.1" font-weight="bold" text-anchor="end" fill="#000" stroke="#000" stroke-width="0.22" >0.4</text>
<line x1="38.400000000000006" y1="419.88" x2="41.2" y2="419.88" stroke="#969696" stroke-width="1"/>
<text x="34.2" y="422.88" font-size="8.1" font-weight="bold" text-anchor="end" fill="#000" stroke="#000" stroke-width="0.22" >0.6</text>
<line x1="38.400000000000006" y1="406.24" x2="41.2" y2="406.24" stroke="#969696" stroke-width="1"/>
<text x="34.2" y="409.24" font-size="8.1" font-weight="bold" text-anchor="end" fill="#000" stroke="#000" stroke-width="0.22" >0.8</text>
<line x1="38.400000000000006" y1="392.60" x2="41.2" y2="392.60" stroke="#969696" stroke-width="1"/>
<text x="34.2" y="395.6" font-size="8.1" font-weight="bold" text-anchor="end" fill="#000" stroke="#000" stroke-width="0.22" >1</text>
<line x1="38.400000000000006" y1="378.96" x2="41.2" y2="378.96" stroke="#969696" stroke-width="1"/>
<text x="34.2" y="381.96" font-size="8.1" font-weight="bold" text-anchor="end" fill="#000" stroke="#000" stroke-width="0.22" >1.2</text>
<line x1="38.400000000000006" y1="365.32" x2="41.2" y2="365.32" stroke="#969696" stroke-width="1"/>
<text x="34.2" y="368.32" font-size="8.1" font-weight="bold" text-anchor="end" fill="#000" stroke="#000" stroke-width="0.22" >1.4</text>
<line x1="38.400000000000006" y1="351.68" x2="41.2" y2="351.68" stroke="#969696" stroke-width="1"/>
<text x="34.2" y="354.68" font-size="8.1" font-weight="bold" text-anchor="end" fill="#000" stroke="#000" stroke-width="0.22" >1.6</text>
<line x1="38.400000000000006" y1="338.04" x2="41.2" y2="338.04" stroke="#969696" stroke-width="1"/>
<text x="34.2" y="341.04" font-size="8.1" font-weight="bold" text-anchor="end" fill="#000" stroke="#000" stroke-width="0.22" >1.8</text>
<line x1="38.400000000000006" y1="324.40" x2="41.2" y2="324.40" stroke="#969696" stroke-width="1"/>
<text x="34.2" y="327.4" font-size="8.1" font-weight="bold" text-anchor="end" fill="#000" stroke="#000" stroke-width="0.22" >2</text>
<line x1="151.8" y1="460.8" x2="151.8" y2="464.3" stroke="#969696" stroke-width="1"/>
<line x1="260.6" y1="460.8" x2="260.6" y2="464.3" stroke="#969696" stroke-width="1"/>
<line x1="96.0" y1="428.7" x2="206.4" y2="340.1" stroke="#000" stroke-width="1.5"/>
<line x1="96.0" y1="455.3" x2="206.4" y2="387.8" stroke="#000" stroke-width="1.5"/>
<line x1="96.0" y1="432.2" x2="206.4" y2="399.4" stroke="#000" stroke-width="1.5"/>
<line x1="96.0" y1="443.1" x2="206.4" y2="398.7" stroke="#000" stroke-width="1.5"/>
<line x1="96.0" y1="451.9" x2="206.4" y2="349.0" stroke="#000" stroke-width="1.5"/>
<line x1="96.0" y1="458.8" x2="206.4" y2="401.5" stroke="#000" stroke-width="1.5"/>
<rect x="93.2" y="425.9" width="5.6" height="5.6"/>
<rect x="203.6" y="337.3" width="5.6" height="5.6"/>
<path d="M96.0 452.2L99.0 457.9L93.0 457.9Z"/>
<path d="M206.4 384.7L209.4 390.4L203.4 390.4Z"/>
<rect x="93.2" y="440.3" width="5.6" height="5.6"/>
<rect x="203.6" y="395.9" width="5.6" height="5.6"/>
<path d="M96.0 448.8l3.0999999999999996 3.0999999999999996l-3.0999999999999996 3.0999999999999996l-3.0999999999999996 -3.0999999999999996Z"/>
<path d="M206.4 345.9l3.0999999999999996 3.0999999999999996l-3.0999999999999996 3.0999999999999996l-3.0999999999999996 -3.0999999999999996Z"/>
<circle cx="96.0" cy="458.8" r="2.5999999999999996"/>
<circle cx="206.4" cy="401.5" r="2.5999999999999996"/>
<rect x="93.2" y="429.4" width="5.6" height="5.6"/>
<rect x="49.4" y="343.2" width="55.9" height="57.9" fill="#fff" stroke="#8a8a8a" stroke-width="0.9"/>
<line x1="55.8" y1="348.3" x2="75.0" y2="348.3" stroke="#000" stroke-width="1.2"/>
<rect x="63.1" y="345.8" width="5.0" height="5.0"/>
<text x="76.2" y="351.2" font-size="8.2" font-weight="bold" text-anchor="start" fill="#000" stroke="#000" stroke-width="0.22" >Pt. 17</text>
<line x1="55.8" y1="357.8" x2="75.0" y2="357.8" stroke="#000" stroke-width="1.2"/>
<path d="M65.6 355.0L68.3 360.1L62.9 360.1Z"/>
<text x="76.2" y="360.7" font-size="8.2" font-weight="bold" text-anchor="start" fill="#000" stroke="#000" stroke-width="0.22" >Pt. 35</text>
<line x1="55.8" y1="367.3" x2="75.0" y2="367.3" stroke="#000" stroke-width="1.2"/>
<text x="76.2" y="370.2" font-size="8.2" font-weight="bold" text-anchor="start" fill="#000" stroke="#000" stroke-width="0.22" >Pt. 26</text>
<line x1="55.8" y1="376.9" x2="75.0" y2="376.9" stroke="#000" stroke-width="1.2"/>
<rect x="63.1" y="374.4" width="5.0" height="5.0"/>
<text x="76.2" y="379.8" font-size="8.2" font-weight="bold" text-anchor="start" fill="#000" stroke="#000" stroke-width="0.22" >Pt. 27</text>
<line x1="55.8" y1="386.4" x2="75.0" y2="386.4" stroke="#000" stroke-width="1.2"/>
<path d="M65.6 384.4l2.0 2.0l-2.0 2.0l-2.0 -2.0Z"/>
<text x="76.2" y="389.3" font-size="8.2" font-weight="bold" text-anchor="start" fill="#000" stroke="#000" stroke-width="0.22" >Pt. 29</text>
<line x1="55.8" y1="395.9" x2="75.0" y2="395.9" stroke="#000" stroke-width="1.2"/>
<circle cx="65.6" cy="395.9" r="2.5"/>
<text x="76.2" y="398.8" font-size="8.2" font-weight="bold" text-anchor="start" fill="#000" stroke="#000" stroke-width="0.22" >Pt. 37</text>
<line x1="97.0" y1="325.6" x2="206.60000000000002" y2="325.6" stroke="#000" stroke-width="1.4"/>
<path d="M91.8 325.6 L98.0 322.8 L98.0 328.40000000000003Z" fill="#000"/>
<path d="M211.8 325.6 L205.60000000000002 322.8 L205.60000000000002 328.40000000000003Z" fill="#000"/>
<text x="153.4" y="325.6" font-size="13" font-weight="bold" text-anchor="middle" fill="#000" stroke="#000" stroke-width="0.22" letter-spacing="2.4">**</text>
<text x="96.6" y="479.2" font-size="12" font-weight="bold" text-anchor="middle" fill="#000" stroke="#000" stroke-width="0.22" >Control</text>
<text x="206.0" y="479.2" font-size="12" font-weight="bold" text-anchor="middle" fill="#000" stroke="#000" stroke-width="0.22" >DEX</text>
<text transform="translate(12.2,444.4) rotate(-90)" font-size="11" font-weight="bold" stroke="#000" stroke-width="0.22">Ratio of P-GR//β-actin</text>
</g>
</svg>
</body></html>
